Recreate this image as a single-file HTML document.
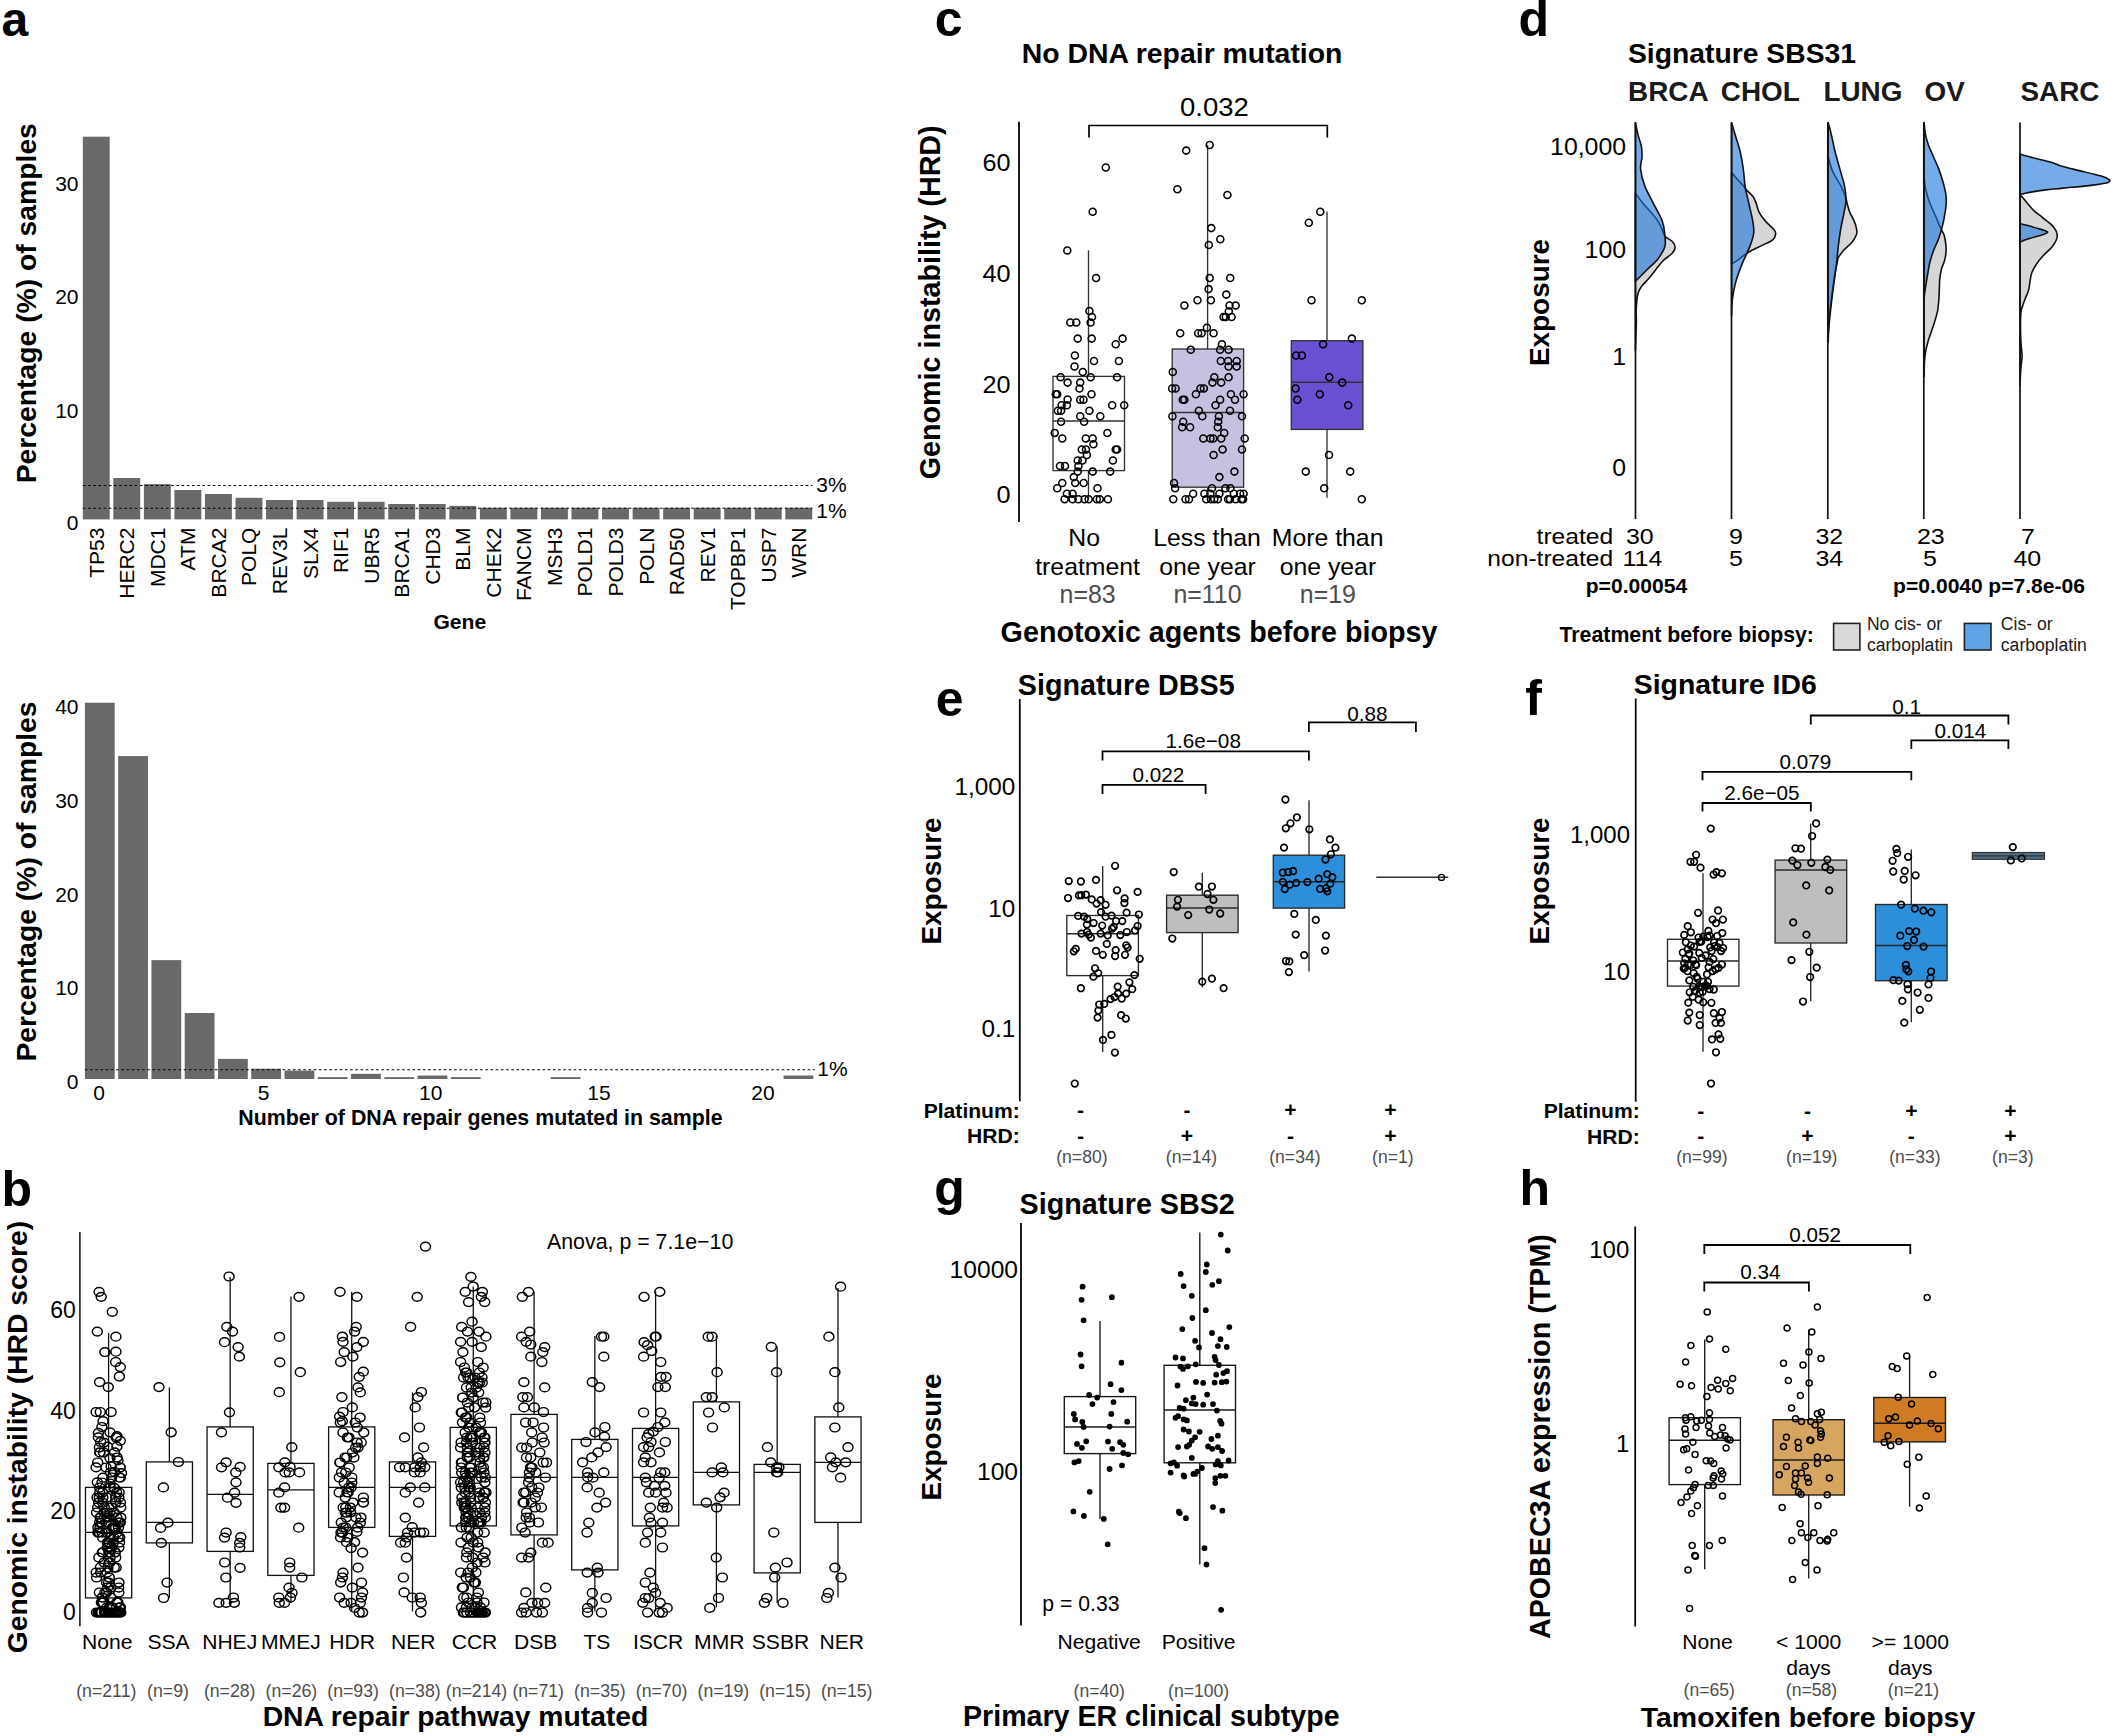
<!DOCTYPE html>
<html><head><meta charset="utf-8"><title>Figure</title>
<style>html,body{margin:0;padding:0;background:#fff}svg{display:block}text{font-family:"Liberation Sans", Arial, Helvetica, sans-serif}</style>
</head><body>
<svg width="2114" height="1736" viewBox="0 0 2114 1736">
<rect width="2114" height="1736" fill="#fff"/>
<text transform="translate(1.60,36.40)" font-size="48" text-anchor="start" font-weight="bold">a</text>
<text transform="translate(36.00,303.20) rotate(-90)" font-size="28.3" text-anchor="middle" font-weight="bold">Percentage (%) of samples</text>
<text transform="translate(78.50,190.80)" font-size="21" text-anchor="end">30</text>
<text transform="translate(78.50,304.30)" font-size="21" text-anchor="end">20</text>
<text transform="translate(78.50,417.50)" font-size="21" text-anchor="end">10</text>
<text transform="translate(78.50,530.10)" font-size="21" text-anchor="end">0</text>
<rect x="82.80" y="136.70" width="26.90" height="382.70" fill="#696969"/>
<text transform="translate(103.75,527.60) rotate(-90)" font-size="21" text-anchor="end">TP53</text>
<rect x="113.34" y="478.00" width="26.90" height="41.40" fill="#696969"/>
<text transform="translate(134.30,527.60) rotate(-90)" font-size="21" text-anchor="end">HERC2</text>
<rect x="143.89" y="484.10" width="26.90" height="35.30" fill="#696969"/>
<text transform="translate(164.84,527.60) rotate(-90)" font-size="21" text-anchor="end">MDC1</text>
<rect x="174.44" y="490.00" width="26.90" height="29.40" fill="#696969"/>
<text transform="translate(195.38,527.60) rotate(-90)" font-size="21" text-anchor="end">ATM</text>
<rect x="204.98" y="494.00" width="26.90" height="25.40" fill="#696969"/>
<text transform="translate(225.93,527.60) rotate(-90)" font-size="21" text-anchor="end">BRCA2</text>
<rect x="235.53" y="497.80" width="26.90" height="21.60" fill="#696969"/>
<text transform="translate(256.48,527.60) rotate(-90)" font-size="21" text-anchor="end">POLQ</text>
<rect x="266.07" y="500.00" width="26.90" height="19.40" fill="#696969"/>
<text transform="translate(287.02,527.60) rotate(-90)" font-size="21" text-anchor="end">REV3L</text>
<rect x="296.62" y="500.00" width="26.90" height="19.40" fill="#696969"/>
<text transform="translate(317.56,527.60) rotate(-90)" font-size="21" text-anchor="end">SLX4</text>
<rect x="327.16" y="501.80" width="26.90" height="17.60" fill="#696969"/>
<text transform="translate(348.11,527.60) rotate(-90)" font-size="21" text-anchor="end">RIF1</text>
<rect x="357.71" y="501.80" width="26.90" height="17.60" fill="#696969"/>
<text transform="translate(378.66,527.60) rotate(-90)" font-size="21" text-anchor="end">UBR5</text>
<rect x="388.25" y="504.00" width="26.90" height="15.40" fill="#696969"/>
<text transform="translate(409.20,527.60) rotate(-90)" font-size="21" text-anchor="end">BRCA1</text>
<rect x="418.80" y="504.00" width="26.90" height="15.40" fill="#696969"/>
<text transform="translate(439.75,527.60) rotate(-90)" font-size="21" text-anchor="end">CHD3</text>
<rect x="449.34" y="505.90" width="26.90" height="13.50" fill="#696969"/>
<text transform="translate(470.29,527.60) rotate(-90)" font-size="21" text-anchor="end">BLM</text>
<rect x="479.89" y="507.70" width="26.90" height="11.70" fill="#696969"/>
<text transform="translate(500.84,527.60) rotate(-90)" font-size="21" text-anchor="end">CHEK2</text>
<rect x="510.43" y="507.70" width="26.90" height="11.70" fill="#696969"/>
<text transform="translate(531.38,527.60) rotate(-90)" font-size="21" text-anchor="end">FANCM</text>
<rect x="540.98" y="507.70" width="26.90" height="11.70" fill="#696969"/>
<text transform="translate(561.93,527.60) rotate(-90)" font-size="21" text-anchor="end">MSH3</text>
<rect x="571.52" y="507.70" width="26.90" height="11.70" fill="#696969"/>
<text transform="translate(592.47,527.60) rotate(-90)" font-size="21" text-anchor="end">POLD1</text>
<rect x="602.06" y="507.70" width="26.90" height="11.70" fill="#696969"/>
<text transform="translate(623.01,527.60) rotate(-90)" font-size="21" text-anchor="end">POLD3</text>
<rect x="632.61" y="507.70" width="26.90" height="11.70" fill="#696969"/>
<text transform="translate(653.56,527.60) rotate(-90)" font-size="21" text-anchor="end">POLN</text>
<rect x="663.15" y="507.70" width="26.90" height="11.70" fill="#696969"/>
<text transform="translate(684.11,527.60) rotate(-90)" font-size="21" text-anchor="end">RAD50</text>
<rect x="693.70" y="507.70" width="26.90" height="11.70" fill="#696969"/>
<text transform="translate(714.65,527.60) rotate(-90)" font-size="21" text-anchor="end">REV1</text>
<rect x="724.25" y="507.70" width="26.90" height="11.70" fill="#696969"/>
<text transform="translate(745.20,527.60) rotate(-90)" font-size="21" text-anchor="end">TOPBP1</text>
<rect x="754.79" y="507.70" width="26.90" height="11.70" fill="#696969"/>
<text transform="translate(775.74,527.60) rotate(-90)" font-size="21" text-anchor="end">USP7</text>
<rect x="785.34" y="507.70" width="26.90" height="11.70" fill="#696969"/>
<text transform="translate(806.29,527.60) rotate(-90)" font-size="21" text-anchor="end">WRN</text>
<line x1="82.80" y1="485.50" x2="812.30" y2="485.50" stroke="#000" stroke-width="1.15" stroke-dasharray="2.6 2.6"/>
<line x1="82.80" y1="508.20" x2="812.30" y2="508.20" stroke="#000" stroke-width="1.15" stroke-dasharray="2.6 2.6"/>
<text transform="translate(816.20,491.80)" font-size="21" text-anchor="start">3%</text>
<text transform="translate(816.20,517.80)" font-size="21" text-anchor="start">1%</text>
<text transform="translate(459.80,629.30)" font-size="21.1" text-anchor="middle" font-weight="bold">Gene</text>
<text transform="translate(36.30,881.50) rotate(-90)" font-size="28.3" text-anchor="middle" font-weight="bold">Percentage (%) of samples</text>
<text transform="translate(78.50,714.30)" font-size="21" text-anchor="end">40</text>
<text transform="translate(78.50,808.30)" font-size="21" text-anchor="end">30</text>
<text transform="translate(78.50,902.10)" font-size="21" text-anchor="end">20</text>
<text transform="translate(78.50,995.10)" font-size="21" text-anchor="end">10</text>
<text transform="translate(78.50,1088.50)" font-size="21" text-anchor="end">0</text>
<rect x="84.90" y="702.73" width="29.80" height="376.27" fill="#696969"/>
<rect x="118.17" y="756.08" width="29.80" height="322.92" fill="#696969"/>
<rect x="151.44" y="960.13" width="29.80" height="118.87" fill="#696969"/>
<rect x="184.71" y="1013.01" width="29.80" height="65.99" fill="#696969"/>
<rect x="217.98" y="1058.88" width="29.80" height="20.12" fill="#696969"/>
<rect x="251.25" y="1068.70" width="29.80" height="10.30" fill="#696969"/>
<rect x="284.52" y="1070.58" width="29.80" height="8.42" fill="#696969"/>
<rect x="317.79" y="1077.13" width="29.80" height="1.87" fill="#696969"/>
<rect x="351.06" y="1073.85" width="29.80" height="5.15" fill="#696969"/>
<rect x="384.33" y="1077.13" width="29.80" height="1.87" fill="#696969"/>
<rect x="417.60" y="1075.54" width="29.80" height="3.46" fill="#696969"/>
<rect x="450.87" y="1077.13" width="29.80" height="1.87" fill="#696969"/>
<rect x="550.68" y="1077.13" width="29.80" height="1.87" fill="#696969"/>
<rect x="783.57" y="1075.54" width="29.80" height="3.46" fill="#696969"/>
<line x1="84.90" y1="1069.70" x2="815.00" y2="1069.70" stroke="#000" stroke-width="1.15" stroke-dasharray="2.6 2.6"/>
<text transform="translate(817.20,1075.50)" font-size="21" text-anchor="start">1%</text>
<text transform="translate(99.00,1099.80)" font-size="21" text-anchor="middle">0</text>
<text transform="translate(263.50,1099.80)" font-size="21" text-anchor="middle">5</text>
<text transform="translate(430.70,1099.80)" font-size="21" text-anchor="middle">10</text>
<text transform="translate(599.00,1099.80)" font-size="21" text-anchor="middle">15</text>
<text transform="translate(763.00,1099.80)" font-size="21" text-anchor="middle">20</text>
<text transform="translate(480.40,1125.20)" font-size="21.35" text-anchor="middle" font-weight="bold">Number of DNA repair genes mutated in sample</text>
<text transform="translate(1.50,1205.60)" font-size="50" text-anchor="start" font-weight="bold">b</text>
<text transform="translate(26.80,1437.00) rotate(-90)" font-size="28.3" text-anchor="middle" font-weight="bold">Genomic instability (HRD score)</text>
<line x1="79.90" y1="1231.90" x2="79.90" y2="1626.30" stroke="#000" stroke-width="1.4"/>
<text transform="translate(75.80,1318.20)" font-size="23" text-anchor="end">60</text>
<text transform="translate(75.80,1418.90)" font-size="23" text-anchor="end">40</text>
<text transform="translate(75.80,1519.20)" font-size="23" text-anchor="end">20</text>
<text transform="translate(75.80,1619.60)" font-size="23" text-anchor="end">0</text>
<line x1="108.60" y1="1332.90" x2="108.60" y2="1487.40" stroke="#111" stroke-width="1.3"/>
<line x1="108.60" y1="1597.90" x2="108.60" y2="1611.40" stroke="#111" stroke-width="1.3"/>
<rect x="85.50" y="1487.40" width="46.20" height="110.50" fill="none" stroke="#111" stroke-width="1.3"/>
<line x1="85.50" y1="1532.40" x2="131.70" y2="1532.40" stroke="#111" stroke-width="1.4300000000000002"/>
<path d="M94.1 1291.8a5.0 4.4 0 1 0 10.0 0a5.0 4.4 0 1 0 -10.0 0M96.2 1296.8a5.0 4.4 0 1 0 10.0 0a5.0 4.4 0 1 0 -10.0 0M107.3 1311.8a5.0 4.4 0 1 0 10.0 0a5.0 4.4 0 1 0 -10.0 0M92.3 1331.6a5.0 4.4 0 1 0 10.0 0a5.0 4.4 0 1 0 -10.0 0M110.9 1336.7a5.0 4.4 0 1 0 10.0 0a5.0 4.4 0 1 0 -10.0 0M99.9 1352.1a5.0 4.4 0 1 0 10.0 0a5.0 4.4 0 1 0 -10.0 0M110.9 1351.7a5.0 4.4 0 1 0 10.0 0a5.0 4.4 0 1 0 -10.0 0M110.7 1362.0a5.0 4.4 0 1 0 10.0 0a5.0 4.4 0 1 0 -10.0 0M115.3 1367.1a5.0 4.4 0 1 0 10.0 0a5.0 4.4 0 1 0 -10.0 0M114.4 1376.5a5.0 4.4 0 1 0 10.0 0a5.0 4.4 0 1 0 -10.0 0M94.6 1382.1a5.0 4.4 0 1 0 10.0 0a5.0 4.4 0 1 0 -10.0 0M103.3 1387.1a5.0 4.4 0 1 0 10.0 0a5.0 4.4 0 1 0 -10.0 0M91.1 1412.0a5.0 4.4 0 1 0 10.0 0a5.0 4.4 0 1 0 -10.0 0M95.3 1412.0a5.0 4.4 0 1 0 10.0 0a5.0 4.4 0 1 0 -10.0 0M106.1 1412.0a5.0 4.4 0 1 0 10.0 0a5.0 4.4 0 1 0 -10.0 0M98.0 1421.2a5.0 4.4 0 1 0 10.0 0a5.0 4.4 0 1 0 -10.0 0M96.9 1427.0a5.0 4.4 0 1 0 10.0 0a5.0 4.4 0 1 0 -10.0 0M105.0 1432.3a5.0 4.4 0 1 0 10.0 0a5.0 4.4 0 1 0 -10.0 0M93.4 1432.8a5.0 4.4 0 1 0 10.0 0a5.0 4.4 0 1 0 -10.0 0M93.4 1437.4a5.0 4.4 0 1 0 10.0 0a5.0 4.4 0 1 0 -10.0 0M111.9 1436.2a5.0 4.4 0 1 0 10.0 0a5.0 4.4 0 1 0 -10.0 0M115.3 1440.8a5.0 4.4 0 1 0 10.0 0a5.0 4.4 0 1 0 -10.0 0M95.7 1442.0a5.0 4.4 0 1 0 10.0 0a5.0 4.4 0 1 0 -10.0 0M102.6 1446.6a5.0 4.4 0 1 0 10.0 0a5.0 4.4 0 1 0 -10.0 0M111.9 1446.6a5.0 4.4 0 1 0 10.0 0a5.0 4.4 0 1 0 -10.0 0M94.6 1452.4a5.0 4.4 0 1 0 10.0 0a5.0 4.4 0 1 0 -10.0 0M109.6 1452.4a5.0 4.4 0 1 0 10.0 0a5.0 4.4 0 1 0 -10.0 0M105.0 1458.1a5.0 4.4 0 1 0 10.0 0a5.0 4.4 0 1 0 -10.0 0M113.0 1460.4a5.0 4.4 0 1 0 10.0 0a5.0 4.4 0 1 0 -10.0 0M91.1 1467.3a5.0 4.4 0 1 0 10.0 0a5.0 4.4 0 1 0 -10.0 0M106.1 1466.2a5.0 4.4 0 1 0 10.0 0a5.0 4.4 0 1 0 -10.0 0M115.3 1467.3a5.0 4.4 0 1 0 10.0 0a5.0 4.4 0 1 0 -10.0 0M109.6 1471.9a5.0 4.4 0 1 0 10.0 0a5.0 4.4 0 1 0 -10.0 0M116.5 1473.1a5.0 4.4 0 1 0 10.0 0a5.0 4.4 0 1 0 -10.0 0M98.0 1477.7a5.0 4.4 0 1 0 10.0 0a5.0 4.4 0 1 0 -10.0 0M115.3 1477.7a5.0 4.4 0 1 0 10.0 0a5.0 4.4 0 1 0 -10.0 0M92.3 1482.3a5.0 4.4 0 1 0 10.0 0a5.0 4.4 0 1 0 -10.0 0M105.0 1483.5a5.0 4.4 0 1 0 10.0 0a5.0 4.4 0 1 0 -10.0 0M109.6 1488.1a5.0 4.4 0 1 0 10.0 0a5.0 4.4 0 1 0 -10.0 0M94.6 1487.5a5.0 4.4 0 1 0 10.0 0a5.0 4.4 0 1 0 -10.0 0M97.0 1482.5a5.0 4.4 0 1 0 10.0 0a5.0 4.4 0 1 0 -10.0 0M106.7 1477.5a5.0 4.4 0 1 0 10.0 0a5.0 4.4 0 1 0 -10.0 0M114.3 1477.5a5.0 4.4 0 1 0 10.0 0a5.0 4.4 0 1 0 -10.0 0M105.5 1472.5a5.0 4.4 0 1 0 10.0 0a5.0 4.4 0 1 0 -10.0 0M101.1 1467.5a5.0 4.4 0 1 0 10.0 0a5.0 4.4 0 1 0 -10.0 0M115.0 1467.5a5.0 4.4 0 1 0 10.0 0a5.0 4.4 0 1 0 -10.0 0M92.7 1462.5a5.0 4.4 0 1 0 10.0 0a5.0 4.4 0 1 0 -10.0 0M112.2 1457.5a5.0 4.4 0 1 0 10.0 0a5.0 4.4 0 1 0 -10.0 0M98.6 1452.5a5.0 4.4 0 1 0 10.0 0a5.0 4.4 0 1 0 -10.0 0M95.1 1452.5a5.0 4.4 0 1 0 10.0 0a5.0 4.4 0 1 0 -10.0 0M94.4 1447.5a5.0 4.4 0 1 0 10.0 0a5.0 4.4 0 1 0 -10.0 0M99.0 1442.5a5.0 4.4 0 1 0 10.0 0a5.0 4.4 0 1 0 -10.0 0M111.2 1437.5a5.0 4.4 0 1 0 10.0 0a5.0 4.4 0 1 0 -10.0 0M114.5 1612.5a5.0 4.4 0 1 0 10.0 0a5.0 4.4 0 1 0 -10.0 0M115.8 1612.5a5.0 4.4 0 1 0 10.0 0a5.0 4.4 0 1 0 -10.0 0M115.0 1612.5a5.0 4.4 0 1 0 10.0 0a5.0 4.4 0 1 0 -10.0 0M100.2 1612.5a5.0 4.4 0 1 0 10.0 0a5.0 4.4 0 1 0 -10.0 0M96.6 1612.5a5.0 4.4 0 1 0 10.0 0a5.0 4.4 0 1 0 -10.0 0M96.8 1612.5a5.0 4.4 0 1 0 10.0 0a5.0 4.4 0 1 0 -10.0 0M96.0 1612.5a5.0 4.4 0 1 0 10.0 0a5.0 4.4 0 1 0 -10.0 0M96.2 1612.5a5.0 4.4 0 1 0 10.0 0a5.0 4.4 0 1 0 -10.0 0M106.7 1612.5a5.0 4.4 0 1 0 10.0 0a5.0 4.4 0 1 0 -10.0 0M113.6 1612.5a5.0 4.4 0 1 0 10.0 0a5.0 4.4 0 1 0 -10.0 0M112.1 1612.5a5.0 4.4 0 1 0 10.0 0a5.0 4.4 0 1 0 -10.0 0M103.1 1612.5a5.0 4.4 0 1 0 10.0 0a5.0 4.4 0 1 0 -10.0 0M107.4 1612.5a5.0 4.4 0 1 0 10.0 0a5.0 4.4 0 1 0 -10.0 0M111.1 1612.5a5.0 4.4 0 1 0 10.0 0a5.0 4.4 0 1 0 -10.0 0M93.2 1612.5a5.0 4.4 0 1 0 10.0 0a5.0 4.4 0 1 0 -10.0 0M107.6 1612.5a5.0 4.4 0 1 0 10.0 0a5.0 4.4 0 1 0 -10.0 0M113.8 1612.5a5.0 4.4 0 1 0 10.0 0a5.0 4.4 0 1 0 -10.0 0M110.7 1612.5a5.0 4.4 0 1 0 10.0 0a5.0 4.4 0 1 0 -10.0 0M109.9 1612.5a5.0 4.4 0 1 0 10.0 0a5.0 4.4 0 1 0 -10.0 0M103.1 1612.5a5.0 4.4 0 1 0 10.0 0a5.0 4.4 0 1 0 -10.0 0M95.6 1612.5a5.0 4.4 0 1 0 10.0 0a5.0 4.4 0 1 0 -10.0 0M110.8 1612.5a5.0 4.4 0 1 0 10.0 0a5.0 4.4 0 1 0 -10.0 0M99.4 1612.5a5.0 4.4 0 1 0 10.0 0a5.0 4.4 0 1 0 -10.0 0M111.1 1612.5a5.0 4.4 0 1 0 10.0 0a5.0 4.4 0 1 0 -10.0 0M115.4 1612.5a5.0 4.4 0 1 0 10.0 0a5.0 4.4 0 1 0 -10.0 0M101.0 1612.5a5.0 4.4 0 1 0 10.0 0a5.0 4.4 0 1 0 -10.0 0M101.1 1612.5a5.0 4.4 0 1 0 10.0 0a5.0 4.4 0 1 0 -10.0 0M114.8 1612.5a5.0 4.4 0 1 0 10.0 0a5.0 4.4 0 1 0 -10.0 0M109.2 1612.5a5.0 4.4 0 1 0 10.0 0a5.0 4.4 0 1 0 -10.0 0M95.4 1612.5a5.0 4.4 0 1 0 10.0 0a5.0 4.4 0 1 0 -10.0 0M94.3 1612.5a5.0 4.4 0 1 0 10.0 0a5.0 4.4 0 1 0 -10.0 0M94.9 1612.5a5.0 4.4 0 1 0 10.0 0a5.0 4.4 0 1 0 -10.0 0M113.7 1612.5a5.0 4.4 0 1 0 10.0 0a5.0 4.4 0 1 0 -10.0 0M111.3 1612.5a5.0 4.4 0 1 0 10.0 0a5.0 4.4 0 1 0 -10.0 0M94.8 1612.5a5.0 4.4 0 1 0 10.0 0a5.0 4.4 0 1 0 -10.0 0M111.8 1612.5a5.0 4.4 0 1 0 10.0 0a5.0 4.4 0 1 0 -10.0 0M115.6 1612.5a5.0 4.4 0 1 0 10.0 0a5.0 4.4 0 1 0 -10.0 0M107.5 1612.5a5.0 4.4 0 1 0 10.0 0a5.0 4.4 0 1 0 -10.0 0M99.9 1612.5a5.0 4.4 0 1 0 10.0 0a5.0 4.4 0 1 0 -10.0 0M104.8 1612.5a5.0 4.4 0 1 0 10.0 0a5.0 4.4 0 1 0 -10.0 0M94.4 1612.5a5.0 4.4 0 1 0 10.0 0a5.0 4.4 0 1 0 -10.0 0M91.5 1612.5a5.0 4.4 0 1 0 10.0 0a5.0 4.4 0 1 0 -10.0 0M115.4 1607.5a5.0 4.4 0 1 0 10.0 0a5.0 4.4 0 1 0 -10.0 0M107.3 1607.5a5.0 4.4 0 1 0 10.0 0a5.0 4.4 0 1 0 -10.0 0M104.3 1607.5a5.0 4.4 0 1 0 10.0 0a5.0 4.4 0 1 0 -10.0 0M114.4 1607.5a5.0 4.4 0 1 0 10.0 0a5.0 4.4 0 1 0 -10.0 0M101.9 1607.5a5.0 4.4 0 1 0 10.0 0a5.0 4.4 0 1 0 -10.0 0M112.9 1602.5a5.0 4.4 0 1 0 10.0 0a5.0 4.4 0 1 0 -10.0 0M111.8 1602.5a5.0 4.4 0 1 0 10.0 0a5.0 4.4 0 1 0 -10.0 0M96.4 1602.5a5.0 4.4 0 1 0 10.0 0a5.0 4.4 0 1 0 -10.0 0M97.4 1602.5a5.0 4.4 0 1 0 10.0 0a5.0 4.4 0 1 0 -10.0 0M98.4 1602.5a5.0 4.4 0 1 0 10.0 0a5.0 4.4 0 1 0 -10.0 0M97.1 1597.5a5.0 4.4 0 1 0 10.0 0a5.0 4.4 0 1 0 -10.0 0M105.8 1597.5a5.0 4.4 0 1 0 10.0 0a5.0 4.4 0 1 0 -10.0 0M97.6 1597.5a5.0 4.4 0 1 0 10.0 0a5.0 4.4 0 1 0 -10.0 0M101.6 1592.5a5.0 4.4 0 1 0 10.0 0a5.0 4.4 0 1 0 -10.0 0M94.4 1592.5a5.0 4.4 0 1 0 10.0 0a5.0 4.4 0 1 0 -10.0 0M113.9 1592.5a5.0 4.4 0 1 0 10.0 0a5.0 4.4 0 1 0 -10.0 0M99.9 1592.5a5.0 4.4 0 1 0 10.0 0a5.0 4.4 0 1 0 -10.0 0M102.6 1587.5a5.0 4.4 0 1 0 10.0 0a5.0 4.4 0 1 0 -10.0 0M105.7 1587.5a5.0 4.4 0 1 0 10.0 0a5.0 4.4 0 1 0 -10.0 0M113.7 1587.5a5.0 4.4 0 1 0 10.0 0a5.0 4.4 0 1 0 -10.0 0M101.6 1582.5a5.0 4.4 0 1 0 10.0 0a5.0 4.4 0 1 0 -10.0 0M114.0 1582.5a5.0 4.4 0 1 0 10.0 0a5.0 4.4 0 1 0 -10.0 0M103.6 1582.5a5.0 4.4 0 1 0 10.0 0a5.0 4.4 0 1 0 -10.0 0M104.4 1577.5a5.0 4.4 0 1 0 10.0 0a5.0 4.4 0 1 0 -10.0 0M104.2 1577.5a5.0 4.4 0 1 0 10.0 0a5.0 4.4 0 1 0 -10.0 0M91.6 1577.5a5.0 4.4 0 1 0 10.0 0a5.0 4.4 0 1 0 -10.0 0M102.1 1572.5a5.0 4.4 0 1 0 10.0 0a5.0 4.4 0 1 0 -10.0 0M95.7 1572.5a5.0 4.4 0 1 0 10.0 0a5.0 4.4 0 1 0 -10.0 0M91.2 1572.5a5.0 4.4 0 1 0 10.0 0a5.0 4.4 0 1 0 -10.0 0M111.1 1567.5a5.0 4.4 0 1 0 10.0 0a5.0 4.4 0 1 0 -10.0 0M95.4 1567.5a5.0 4.4 0 1 0 10.0 0a5.0 4.4 0 1 0 -10.0 0M102.9 1567.5a5.0 4.4 0 1 0 10.0 0a5.0 4.4 0 1 0 -10.0 0M109.2 1567.5a5.0 4.4 0 1 0 10.0 0a5.0 4.4 0 1 0 -10.0 0M105.0 1562.5a5.0 4.4 0 1 0 10.0 0a5.0 4.4 0 1 0 -10.0 0M99.2 1562.5a5.0 4.4 0 1 0 10.0 0a5.0 4.4 0 1 0 -10.0 0M104.1 1562.5a5.0 4.4 0 1 0 10.0 0a5.0 4.4 0 1 0 -10.0 0M105.0 1557.5a5.0 4.4 0 1 0 10.0 0a5.0 4.4 0 1 0 -10.0 0M110.7 1557.5a5.0 4.4 0 1 0 10.0 0a5.0 4.4 0 1 0 -10.0 0M93.8 1557.5a5.0 4.4 0 1 0 10.0 0a5.0 4.4 0 1 0 -10.0 0M105.1 1557.5a5.0 4.4 0 1 0 10.0 0a5.0 4.4 0 1 0 -10.0 0M97.3 1552.5a5.0 4.4 0 1 0 10.0 0a5.0 4.4 0 1 0 -10.0 0M98.0 1552.5a5.0 4.4 0 1 0 10.0 0a5.0 4.4 0 1 0 -10.0 0M110.4 1552.5a5.0 4.4 0 1 0 10.0 0a5.0 4.4 0 1 0 -10.0 0M103.8 1552.5a5.0 4.4 0 1 0 10.0 0a5.0 4.4 0 1 0 -10.0 0M105.1 1552.5a5.0 4.4 0 1 0 10.0 0a5.0 4.4 0 1 0 -10.0 0M110.1 1552.5a5.0 4.4 0 1 0 10.0 0a5.0 4.4 0 1 0 -10.0 0M113.9 1547.5a5.0 4.4 0 1 0 10.0 0a5.0 4.4 0 1 0 -10.0 0M102.2 1547.5a5.0 4.4 0 1 0 10.0 0a5.0 4.4 0 1 0 -10.0 0M106.4 1547.5a5.0 4.4 0 1 0 10.0 0a5.0 4.4 0 1 0 -10.0 0M103.7 1547.5a5.0 4.4 0 1 0 10.0 0a5.0 4.4 0 1 0 -10.0 0M103.9 1547.5a5.0 4.4 0 1 0 10.0 0a5.0 4.4 0 1 0 -10.0 0M108.4 1542.5a5.0 4.4 0 1 0 10.0 0a5.0 4.4 0 1 0 -10.0 0M102.4 1542.5a5.0 4.4 0 1 0 10.0 0a5.0 4.4 0 1 0 -10.0 0M104.4 1542.5a5.0 4.4 0 1 0 10.0 0a5.0 4.4 0 1 0 -10.0 0M103.1 1542.5a5.0 4.4 0 1 0 10.0 0a5.0 4.4 0 1 0 -10.0 0M114.6 1542.5a5.0 4.4 0 1 0 10.0 0a5.0 4.4 0 1 0 -10.0 0M108.6 1537.5a5.0 4.4 0 1 0 10.0 0a5.0 4.4 0 1 0 -10.0 0M113.0 1537.5a5.0 4.4 0 1 0 10.0 0a5.0 4.4 0 1 0 -10.0 0M114.7 1537.5a5.0 4.4 0 1 0 10.0 0a5.0 4.4 0 1 0 -10.0 0M97.6 1537.5a5.0 4.4 0 1 0 10.0 0a5.0 4.4 0 1 0 -10.0 0M105.1 1537.5a5.0 4.4 0 1 0 10.0 0a5.0 4.4 0 1 0 -10.0 0M114.7 1537.5a5.0 4.4 0 1 0 10.0 0a5.0 4.4 0 1 0 -10.0 0M112.1 1532.5a5.0 4.4 0 1 0 10.0 0a5.0 4.4 0 1 0 -10.0 0M94.5 1532.5a5.0 4.4 0 1 0 10.0 0a5.0 4.4 0 1 0 -10.0 0M94.1 1532.5a5.0 4.4 0 1 0 10.0 0a5.0 4.4 0 1 0 -10.0 0M102.2 1532.5a5.0 4.4 0 1 0 10.0 0a5.0 4.4 0 1 0 -10.0 0M92.9 1532.5a5.0 4.4 0 1 0 10.0 0a5.0 4.4 0 1 0 -10.0 0M97.1 1532.5a5.0 4.4 0 1 0 10.0 0a5.0 4.4 0 1 0 -10.0 0M92.9 1527.5a5.0 4.4 0 1 0 10.0 0a5.0 4.4 0 1 0 -10.0 0M107.8 1527.5a5.0 4.4 0 1 0 10.0 0a5.0 4.4 0 1 0 -10.0 0M110.7 1527.5a5.0 4.4 0 1 0 10.0 0a5.0 4.4 0 1 0 -10.0 0M113.5 1527.5a5.0 4.4 0 1 0 10.0 0a5.0 4.4 0 1 0 -10.0 0M95.0 1527.5a5.0 4.4 0 1 0 10.0 0a5.0 4.4 0 1 0 -10.0 0M109.0 1527.5a5.0 4.4 0 1 0 10.0 0a5.0 4.4 0 1 0 -10.0 0M107.6 1527.5a5.0 4.4 0 1 0 10.0 0a5.0 4.4 0 1 0 -10.0 0M94.7 1522.5a5.0 4.4 0 1 0 10.0 0a5.0 4.4 0 1 0 -10.0 0M113.2 1522.5a5.0 4.4 0 1 0 10.0 0a5.0 4.4 0 1 0 -10.0 0M115.3 1522.5a5.0 4.4 0 1 0 10.0 0a5.0 4.4 0 1 0 -10.0 0M96.6 1522.5a5.0 4.4 0 1 0 10.0 0a5.0 4.4 0 1 0 -10.0 0M114.9 1522.5a5.0 4.4 0 1 0 10.0 0a5.0 4.4 0 1 0 -10.0 0M101.1 1522.5a5.0 4.4 0 1 0 10.0 0a5.0 4.4 0 1 0 -10.0 0M103.3 1522.5a5.0 4.4 0 1 0 10.0 0a5.0 4.4 0 1 0 -10.0 0M115.8 1517.5a5.0 4.4 0 1 0 10.0 0a5.0 4.4 0 1 0 -10.0 0M111.9 1517.5a5.0 4.4 0 1 0 10.0 0a5.0 4.4 0 1 0 -10.0 0M95.1 1517.5a5.0 4.4 0 1 0 10.0 0a5.0 4.4 0 1 0 -10.0 0M101.9 1517.5a5.0 4.4 0 1 0 10.0 0a5.0 4.4 0 1 0 -10.0 0M104.0 1517.5a5.0 4.4 0 1 0 10.0 0a5.0 4.4 0 1 0 -10.0 0M99.6 1517.5a5.0 4.4 0 1 0 10.0 0a5.0 4.4 0 1 0 -10.0 0M96.0 1517.5a5.0 4.4 0 1 0 10.0 0a5.0 4.4 0 1 0 -10.0 0M99.1 1512.5a5.0 4.4 0 1 0 10.0 0a5.0 4.4 0 1 0 -10.0 0M109.2 1512.5a5.0 4.4 0 1 0 10.0 0a5.0 4.4 0 1 0 -10.0 0M91.6 1512.5a5.0 4.4 0 1 0 10.0 0a5.0 4.4 0 1 0 -10.0 0M105.0 1512.5a5.0 4.4 0 1 0 10.0 0a5.0 4.4 0 1 0 -10.0 0M102.1 1512.5a5.0 4.4 0 1 0 10.0 0a5.0 4.4 0 1 0 -10.0 0M91.6 1512.5a5.0 4.4 0 1 0 10.0 0a5.0 4.4 0 1 0 -10.0 0M99.4 1507.5a5.0 4.4 0 1 0 10.0 0a5.0 4.4 0 1 0 -10.0 0M106.7 1507.5a5.0 4.4 0 1 0 10.0 0a5.0 4.4 0 1 0 -10.0 0M103.9 1507.5a5.0 4.4 0 1 0 10.0 0a5.0 4.4 0 1 0 -10.0 0M92.7 1507.5a5.0 4.4 0 1 0 10.0 0a5.0 4.4 0 1 0 -10.0 0M115.7 1507.5a5.0 4.4 0 1 0 10.0 0a5.0 4.4 0 1 0 -10.0 0M110.8 1502.5a5.0 4.4 0 1 0 10.0 0a5.0 4.4 0 1 0 -10.0 0M115.4 1502.5a5.0 4.4 0 1 0 10.0 0a5.0 4.4 0 1 0 -10.0 0M93.7 1502.5a5.0 4.4 0 1 0 10.0 0a5.0 4.4 0 1 0 -10.0 0M97.7 1502.5a5.0 4.4 0 1 0 10.0 0a5.0 4.4 0 1 0 -10.0 0M92.1 1497.5a5.0 4.4 0 1 0 10.0 0a5.0 4.4 0 1 0 -10.0 0M110.6 1497.5a5.0 4.4 0 1 0 10.0 0a5.0 4.4 0 1 0 -10.0 0M97.9 1497.5a5.0 4.4 0 1 0 10.0 0a5.0 4.4 0 1 0 -10.0 0M94.3 1497.5a5.0 4.4 0 1 0 10.0 0a5.0 4.4 0 1 0 -10.0 0M101.7 1497.5a5.0 4.4 0 1 0 10.0 0a5.0 4.4 0 1 0 -10.0 0M113.9 1497.5a5.0 4.4 0 1 0 10.0 0a5.0 4.4 0 1 0 -10.0 0M111.6 1492.5a5.0 4.4 0 1 0 10.0 0a5.0 4.4 0 1 0 -10.0 0M97.6 1492.5a5.0 4.4 0 1 0 10.0 0a5.0 4.4 0 1 0 -10.0 0M94.8 1492.5a5.0 4.4 0 1 0 10.0 0a5.0 4.4 0 1 0 -10.0 0M114.1 1492.5a5.0 4.4 0 1 0 10.0 0a5.0 4.4 0 1 0 -10.0 0M105.4 1487.5a5.0 4.4 0 1 0 10.0 0a5.0 4.4 0 1 0 -10.0 0M108.6 1487.5a5.0 4.4 0 1 0 10.0 0a5.0 4.4 0 1 0 -10.0 0" fill="none" stroke="#000" stroke-width="1.45"/>
<text transform="translate(107.30,1649.00)" font-size="21.1" text-anchor="middle">None</text>
<text transform="translate(106.30,1696.50)" font-size="17.7" text-anchor="middle" fill="#4d4d4d">(n=211)</text>
<line x1="169.38" y1="1387.40" x2="169.38" y2="1461.90" stroke="#111" stroke-width="1.3"/>
<line x1="169.38" y1="1542.90" x2="169.38" y2="1597.90" stroke="#111" stroke-width="1.3"/>
<rect x="146.28" y="1461.90" width="46.20" height="81.00" fill="none" stroke="#111" stroke-width="1.3"/>
<line x1="146.28" y1="1522.40" x2="192.48" y2="1522.40" stroke="#111" stroke-width="1.4300000000000002"/>
<path d="M154.0 1387.1a5.0 4.4 0 1 0 10.0 0a5.0 4.4 0 1 0 -10.0 0M166.2 1432.3a5.0 4.4 0 1 0 10.0 0a5.0 4.4 0 1 0 -10.0 0M173.4 1462.0a5.0 4.4 0 1 0 10.0 0a5.0 4.4 0 1 0 -10.0 0M158.4 1487.4a5.0 4.4 0 1 0 10.0 0a5.0 4.4 0 1 0 -10.0 0M163.0 1522.6a5.0 4.4 0 1 0 10.0 0a5.0 4.4 0 1 0 -10.0 0M155.6 1527.9a5.0 4.4 0 1 0 10.0 0a5.0 4.4 0 1 0 -10.0 0M156.3 1542.9a5.0 4.4 0 1 0 10.0 0a5.0 4.4 0 1 0 -10.0 0M162.1 1582.5a5.0 4.4 0 1 0 10.0 0a5.0 4.4 0 1 0 -10.0 0M158.6 1598.0a5.0 4.4 0 1 0 10.0 0a5.0 4.4 0 1 0 -10.0 0" fill="none" stroke="#000" stroke-width="1.45"/>
<text transform="translate(168.50,1649.00)" font-size="21.1" text-anchor="middle">SSA</text>
<text transform="translate(168.00,1696.50)" font-size="17.7" text-anchor="middle" fill="#4d4d4d">(n=9)</text>
<line x1="230.16" y1="1276.90" x2="230.16" y2="1426.90" stroke="#111" stroke-width="1.3"/>
<line x1="230.16" y1="1551.40" x2="230.16" y2="1602.90" stroke="#111" stroke-width="1.3"/>
<rect x="207.06" y="1426.90" width="46.20" height="124.50" fill="none" stroke="#111" stroke-width="1.3"/>
<line x1="207.06" y1="1494.40" x2="253.26" y2="1494.40" stroke="#111" stroke-width="1.4300000000000002"/>
<path d="M224.1 1276.5a5.0 4.4 0 1 0 10.0 0a5.0 4.4 0 1 0 -10.0 0M221.8 1326.8a5.0 4.4 0 1 0 10.0 0a5.0 4.4 0 1 0 -10.0 0M227.5 1331.6a5.0 4.4 0 1 0 10.0 0a5.0 4.4 0 1 0 -10.0 0M219.5 1342.2a5.0 4.4 0 1 0 10.0 0a5.0 4.4 0 1 0 -10.0 0M233.1 1347.1a5.0 4.4 0 1 0 10.0 0a5.0 4.4 0 1 0 -10.0 0M234.4 1356.7a5.0 4.4 0 1 0 10.0 0a5.0 4.4 0 1 0 -10.0 0M224.5 1412.3a5.0 4.4 0 1 0 10.0 0a5.0 4.4 0 1 0 -10.0 0M216.5 1432.3a5.0 4.4 0 1 0 10.0 0a5.0 4.4 0 1 0 -10.0 0M221.1 1462.3a5.0 4.4 0 1 0 10.0 0a5.0 4.4 0 1 0 -10.0 0M216.5 1467.3a5.0 4.4 0 1 0 10.0 0a5.0 4.4 0 1 0 -10.0 0M235.1 1466.9a5.0 4.4 0 1 0 10.0 0a5.0 4.4 0 1 0 -10.0 0M230.8 1472.4a5.0 4.4 0 1 0 10.0 0a5.0 4.4 0 1 0 -10.0 0M231.0 1482.3a5.0 4.4 0 1 0 10.0 0a5.0 4.4 0 1 0 -10.0 0M229.6 1492.7a5.0 4.4 0 1 0 10.0 0a5.0 4.4 0 1 0 -10.0 0M222.5 1497.7a5.0 4.4 0 1 0 10.0 0a5.0 4.4 0 1 0 -10.0 0M231.0 1502.8a5.0 4.4 0 1 0 10.0 0a5.0 4.4 0 1 0 -10.0 0M221.1 1532.5a5.0 4.4 0 1 0 10.0 0a5.0 4.4 0 1 0 -10.0 0M219.5 1537.6a5.0 4.4 0 1 0 10.0 0a5.0 4.4 0 1 0 -10.0 0M235.8 1537.1a5.0 4.4 0 1 0 10.0 0a5.0 4.4 0 1 0 -10.0 0M234.7 1542.9a5.0 4.4 0 1 0 10.0 0a5.0 4.4 0 1 0 -10.0 0M234.7 1547.5a5.0 4.4 0 1 0 10.0 0a5.0 4.4 0 1 0 -10.0 0M219.7 1562.5a5.0 4.4 0 1 0 10.0 0a5.0 4.4 0 1 0 -10.0 0M235.1 1567.8a5.0 4.4 0 1 0 10.0 0a5.0 4.4 0 1 0 -10.0 0M220.9 1577.5a5.0 4.4 0 1 0 10.0 0a5.0 4.4 0 1 0 -10.0 0M228.5 1597.5a5.0 4.4 0 1 0 10.0 0a5.0 4.4 0 1 0 -10.0 0M213.9 1602.8a5.0 4.4 0 1 0 10.0 0a5.0 4.4 0 1 0 -10.0 0M221.1 1602.8a5.0 4.4 0 1 0 10.0 0a5.0 4.4 0 1 0 -10.0 0M229.4 1602.8a5.0 4.4 0 1 0 10.0 0a5.0 4.4 0 1 0 -10.0 0" fill="none" stroke="#000" stroke-width="1.45"/>
<text transform="translate(229.70,1649.00)" font-size="21.1" text-anchor="middle">NHEJ</text>
<text transform="translate(229.70,1696.50)" font-size="17.7" text-anchor="middle" fill="#4d4d4d">(n=28)</text>
<line x1="290.94" y1="1296.40" x2="290.94" y2="1463.40" stroke="#111" stroke-width="1.3"/>
<line x1="290.94" y1="1575.40" x2="290.94" y2="1602.90" stroke="#111" stroke-width="1.3"/>
<rect x="267.84" y="1463.40" width="46.20" height="112.00" fill="none" stroke="#111" stroke-width="1.3"/>
<line x1="267.84" y1="1489.90" x2="314.04" y2="1489.90" stroke="#111" stroke-width="1.4300000000000002"/>
<path d="M294.1 1296.8a5.0 4.4 0 1 0 10.0 0a5.0 4.4 0 1 0 -10.0 0M274.5 1336.9a5.0 4.4 0 1 0 10.0 0a5.0 4.4 0 1 0 -10.0 0M274.8 1362.3a5.0 4.4 0 1 0 10.0 0a5.0 4.4 0 1 0 -10.0 0M295.3 1372.2a5.0 4.4 0 1 0 10.0 0a5.0 4.4 0 1 0 -10.0 0M274.3 1392.2a5.0 4.4 0 1 0 10.0 0a5.0 4.4 0 1 0 -10.0 0M286.8 1447.1a5.0 4.4 0 1 0 10.0 0a5.0 4.4 0 1 0 -10.0 0M279.8 1462.3a5.0 4.4 0 1 0 10.0 0a5.0 4.4 0 1 0 -10.0 0M273.8 1467.3a5.0 4.4 0 1 0 10.0 0a5.0 4.4 0 1 0 -10.0 0M285.1 1466.9a5.0 4.4 0 1 0 10.0 0a5.0 4.4 0 1 0 -10.0 0M280.1 1472.4a5.0 4.4 0 1 0 10.0 0a5.0 4.4 0 1 0 -10.0 0M284.2 1472.4a5.0 4.4 0 1 0 10.0 0a5.0 4.4 0 1 0 -10.0 0M294.6 1472.4a5.0 4.4 0 1 0 10.0 0a5.0 4.4 0 1 0 -10.0 0M279.6 1487.4a5.0 4.4 0 1 0 10.0 0a5.0 4.4 0 1 0 -10.0 0M273.8 1492.7a5.0 4.4 0 1 0 10.0 0a5.0 4.4 0 1 0 -10.0 0M275.9 1507.6a5.0 4.4 0 1 0 10.0 0a5.0 4.4 0 1 0 -10.0 0M279.6 1507.6a5.0 4.4 0 1 0 10.0 0a5.0 4.4 0 1 0 -10.0 0M293.7 1527.7a5.0 4.4 0 1 0 10.0 0a5.0 4.4 0 1 0 -10.0 0M284.7 1562.5a5.0 4.4 0 1 0 10.0 0a5.0 4.4 0 1 0 -10.0 0M284.7 1567.6a5.0 4.4 0 1 0 10.0 0a5.0 4.4 0 1 0 -10.0 0M296.9 1577.5a5.0 4.4 0 1 0 10.0 0a5.0 4.4 0 1 0 -10.0 0M284.0 1587.6a5.0 4.4 0 1 0 10.0 0a5.0 4.4 0 1 0 -10.0 0M287.0 1592.9a5.0 4.4 0 1 0 10.0 0a5.0 4.4 0 1 0 -10.0 0M273.8 1597.5a5.0 4.4 0 1 0 10.0 0a5.0 4.4 0 1 0 -10.0 0M285.4 1597.5a5.0 4.4 0 1 0 10.0 0a5.0 4.4 0 1 0 -10.0 0M274.3 1602.8a5.0 4.4 0 1 0 10.0 0a5.0 4.4 0 1 0 -10.0 0M279.6 1602.8a5.0 4.4 0 1 0 10.0 0a5.0 4.4 0 1 0 -10.0 0" fill="none" stroke="#000" stroke-width="1.45"/>
<text transform="translate(290.90,1649.00)" font-size="21.1" text-anchor="middle">MMEJ</text>
<text transform="translate(291.40,1696.50)" font-size="17.7" text-anchor="middle" fill="#4d4d4d">(n=26)</text>
<line x1="351.72" y1="1291.90" x2="351.72" y2="1426.90" stroke="#111" stroke-width="1.3"/>
<line x1="351.72" y1="1527.40" x2="351.72" y2="1611.40" stroke="#111" stroke-width="1.3"/>
<rect x="328.62" y="1426.90" width="46.20" height="100.50" fill="none" stroke="#111" stroke-width="1.3"/>
<line x1="328.62" y1="1487.40" x2="374.82" y2="1487.40" stroke="#111" stroke-width="1.4300000000000002"/>
<path d="M335.0 1291.8a5.0 4.4 0 1 0 10.0 0a5.0 4.4 0 1 0 -10.0 0M351.9 1296.8a5.0 4.4 0 1 0 10.0 0a5.0 4.4 0 1 0 -10.0 0M351.2 1326.8a5.0 4.4 0 1 0 10.0 0a5.0 4.4 0 1 0 -10.0 0M349.6 1331.6a5.0 4.4 0 1 0 10.0 0a5.0 4.4 0 1 0 -10.0 0M337.4 1336.7a5.0 4.4 0 1 0 10.0 0a5.0 4.4 0 1 0 -10.0 0M338.0 1341.8a5.0 4.4 0 1 0 10.0 0a5.0 4.4 0 1 0 -10.0 0M358.3 1341.8a5.0 4.4 0 1 0 10.0 0a5.0 4.4 0 1 0 -10.0 0M351.9 1347.1a5.0 4.4 0 1 0 10.0 0a5.0 4.4 0 1 0 -10.0 0M339.2 1352.1a5.0 4.4 0 1 0 10.0 0a5.0 4.4 0 1 0 -10.0 0M347.9 1356.7a5.0 4.4 0 1 0 10.0 0a5.0 4.4 0 1 0 -10.0 0M335.7 1362.0a5.0 4.4 0 1 0 10.0 0a5.0 4.4 0 1 0 -10.0 0M358.3 1371.7a5.0 4.4 0 1 0 10.0 0a5.0 4.4 0 1 0 -10.0 0M354.2 1376.8a5.0 4.4 0 1 0 10.0 0a5.0 4.4 0 1 0 -10.0 0M353.0 1387.4a5.0 4.4 0 1 0 10.0 0a5.0 4.4 0 1 0 -10.0 0M355.3 1392.4a5.0 4.4 0 1 0 10.0 0a5.0 4.4 0 1 0 -10.0 0M336.9 1397.1a5.0 4.4 0 1 0 10.0 0a5.0 4.4 0 1 0 -10.0 0M347.3 1407.4a5.0 4.4 0 1 0 10.0 0a5.0 4.4 0 1 0 -10.0 0M338.0 1412.0a5.0 4.4 0 1 0 10.0 0a5.0 4.4 0 1 0 -10.0 0M334.6 1416.6a5.0 4.4 0 1 0 10.0 0a5.0 4.4 0 1 0 -10.0 0M337.4 1421.2a5.0 4.4 0 1 0 10.0 0a5.0 4.4 0 1 0 -10.0 0M351.9 1531.8a5.0 4.4 0 1 0 10.0 0a5.0 4.4 0 1 0 -10.0 0M341.5 1542.2a5.0 4.4 0 1 0 10.0 0a5.0 4.4 0 1 0 -10.0 0M349.6 1542.2a5.0 4.4 0 1 0 10.0 0a5.0 4.4 0 1 0 -10.0 0M346.1 1548.0a5.0 4.4 0 1 0 10.0 0a5.0 4.4 0 1 0 -10.0 0M357.6 1552.6a5.0 4.4 0 1 0 10.0 0a5.0 4.4 0 1 0 -10.0 0M353.0 1567.6a5.0 4.4 0 1 0 10.0 0a5.0 4.4 0 1 0 -10.0 0M338.0 1572.6a5.0 4.4 0 1 0 10.0 0a5.0 4.4 0 1 0 -10.0 0M337.4 1577.5a5.0 4.4 0 1 0 10.0 0a5.0 4.4 0 1 0 -10.0 0M335.7 1582.5a5.0 4.4 0 1 0 10.0 0a5.0 4.4 0 1 0 -10.0 0M356.5 1582.5a5.0 4.4 0 1 0 10.0 0a5.0 4.4 0 1 0 -10.0 0M347.3 1587.6a5.0 4.4 0 1 0 10.0 0a5.0 4.4 0 1 0 -10.0 0M357.6 1592.4a5.0 4.4 0 1 0 10.0 0a5.0 4.4 0 1 0 -10.0 0M334.6 1597.5a5.0 4.4 0 1 0 10.0 0a5.0 4.4 0 1 0 -10.0 0M356.5 1597.5a5.0 4.4 0 1 0 10.0 0a5.0 4.4 0 1 0 -10.0 0M339.2 1602.8a5.0 4.4 0 1 0 10.0 0a5.0 4.4 0 1 0 -10.0 0M346.1 1602.8a5.0 4.4 0 1 0 10.0 0a5.0 4.4 0 1 0 -10.0 0M355.3 1602.8a5.0 4.4 0 1 0 10.0 0a5.0 4.4 0 1 0 -10.0 0M349.6 1607.9a5.0 4.4 0 1 0 10.0 0a5.0 4.4 0 1 0 -10.0 0M354.2 1612.5a5.0 4.4 0 1 0 10.0 0a5.0 4.4 0 1 0 -10.0 0M357.6 1612.5a5.0 4.4 0 1 0 10.0 0a5.0 4.4 0 1 0 -10.0 0M342.9 1537.5a5.0 4.4 0 1 0 10.0 0a5.0 4.4 0 1 0 -10.0 0M335.6 1537.5a5.0 4.4 0 1 0 10.0 0a5.0 4.4 0 1 0 -10.0 0M337.5 1532.5a5.0 4.4 0 1 0 10.0 0a5.0 4.4 0 1 0 -10.0 0M336.0 1532.5a5.0 4.4 0 1 0 10.0 0a5.0 4.4 0 1 0 -10.0 0M352.7 1527.5a5.0 4.4 0 1 0 10.0 0a5.0 4.4 0 1 0 -10.0 0M340.6 1527.5a5.0 4.4 0 1 0 10.0 0a5.0 4.4 0 1 0 -10.0 0M338.3 1527.5a5.0 4.4 0 1 0 10.0 0a5.0 4.4 0 1 0 -10.0 0M336.3 1522.5a5.0 4.4 0 1 0 10.0 0a5.0 4.4 0 1 0 -10.0 0M355.3 1522.5a5.0 4.4 0 1 0 10.0 0a5.0 4.4 0 1 0 -10.0 0M356.0 1517.5a5.0 4.4 0 1 0 10.0 0a5.0 4.4 0 1 0 -10.0 0M351.0 1517.5a5.0 4.4 0 1 0 10.0 0a5.0 4.4 0 1 0 -10.0 0M341.3 1517.5a5.0 4.4 0 1 0 10.0 0a5.0 4.4 0 1 0 -10.0 0M340.3 1512.5a5.0 4.4 0 1 0 10.0 0a5.0 4.4 0 1 0 -10.0 0M341.5 1512.5a5.0 4.4 0 1 0 10.0 0a5.0 4.4 0 1 0 -10.0 0M345.7 1512.5a5.0 4.4 0 1 0 10.0 0a5.0 4.4 0 1 0 -10.0 0M338.2 1507.5a5.0 4.4 0 1 0 10.0 0a5.0 4.4 0 1 0 -10.0 0M345.4 1507.5a5.0 4.4 0 1 0 10.0 0a5.0 4.4 0 1 0 -10.0 0M340.8 1507.5a5.0 4.4 0 1 0 10.0 0a5.0 4.4 0 1 0 -10.0 0M358.3 1502.5a5.0 4.4 0 1 0 10.0 0a5.0 4.4 0 1 0 -10.0 0M358.5 1502.5a5.0 4.4 0 1 0 10.0 0a5.0 4.4 0 1 0 -10.0 0M347.9 1502.5a5.0 4.4 0 1 0 10.0 0a5.0 4.4 0 1 0 -10.0 0M340.3 1497.5a5.0 4.4 0 1 0 10.0 0a5.0 4.4 0 1 0 -10.0 0M358.4 1497.5a5.0 4.4 0 1 0 10.0 0a5.0 4.4 0 1 0 -10.0 0M342.0 1492.5a5.0 4.4 0 1 0 10.0 0a5.0 4.4 0 1 0 -10.0 0M343.1 1492.5a5.0 4.4 0 1 0 10.0 0a5.0 4.4 0 1 0 -10.0 0M334.2 1492.5a5.0 4.4 0 1 0 10.0 0a5.0 4.4 0 1 0 -10.0 0M343.8 1487.5a5.0 4.4 0 1 0 10.0 0a5.0 4.4 0 1 0 -10.0 0M346.1 1487.5a5.0 4.4 0 1 0 10.0 0a5.0 4.4 0 1 0 -10.0 0M346.8 1482.5a5.0 4.4 0 1 0 10.0 0a5.0 4.4 0 1 0 -10.0 0M339.2 1482.5a5.0 4.4 0 1 0 10.0 0a5.0 4.4 0 1 0 -10.0 0M346.8 1477.5a5.0 4.4 0 1 0 10.0 0a5.0 4.4 0 1 0 -10.0 0M334.3 1477.5a5.0 4.4 0 1 0 10.0 0a5.0 4.4 0 1 0 -10.0 0M340.8 1472.5a5.0 4.4 0 1 0 10.0 0a5.0 4.4 0 1 0 -10.0 0M336.5 1472.5a5.0 4.4 0 1 0 10.0 0a5.0 4.4 0 1 0 -10.0 0M344.2 1467.5a5.0 4.4 0 1 0 10.0 0a5.0 4.4 0 1 0 -10.0 0M335.3 1462.5a5.0 4.4 0 1 0 10.0 0a5.0 4.4 0 1 0 -10.0 0M334.8 1462.5a5.0 4.4 0 1 0 10.0 0a5.0 4.4 0 1 0 -10.0 0M341.8 1457.5a5.0 4.4 0 1 0 10.0 0a5.0 4.4 0 1 0 -10.0 0M340.0 1457.5a5.0 4.4 0 1 0 10.0 0a5.0 4.4 0 1 0 -10.0 0M348.9 1457.5a5.0 4.4 0 1 0 10.0 0a5.0 4.4 0 1 0 -10.0 0M347.4 1452.5a5.0 4.4 0 1 0 10.0 0a5.0 4.4 0 1 0 -10.0 0M353.0 1447.5a5.0 4.4 0 1 0 10.0 0a5.0 4.4 0 1 0 -10.0 0M350.7 1447.5a5.0 4.4 0 1 0 10.0 0a5.0 4.4 0 1 0 -10.0 0M352.1 1442.5a5.0 4.4 0 1 0 10.0 0a5.0 4.4 0 1 0 -10.0 0M356.2 1442.5a5.0 4.4 0 1 0 10.0 0a5.0 4.4 0 1 0 -10.0 0M344.0 1437.5a5.0 4.4 0 1 0 10.0 0a5.0 4.4 0 1 0 -10.0 0M342.4 1437.5a5.0 4.4 0 1 0 10.0 0a5.0 4.4 0 1 0 -10.0 0M358.8 1432.5a5.0 4.4 0 1 0 10.0 0a5.0 4.4 0 1 0 -10.0 0M338.0 1432.5a5.0 4.4 0 1 0 10.0 0a5.0 4.4 0 1 0 -10.0 0M352.3 1427.5a5.0 4.4 0 1 0 10.0 0a5.0 4.4 0 1 0 -10.0 0M350.3 1422.5a5.0 4.4 0 1 0 10.0 0a5.0 4.4 0 1 0 -10.0 0M335.3 1422.5a5.0 4.4 0 1 0 10.0 0a5.0 4.4 0 1 0 -10.0 0M355.1 1417.5a5.0 4.4 0 1 0 10.0 0a5.0 4.4 0 1 0 -10.0 0" fill="none" stroke="#000" stroke-width="1.45"/>
<text transform="translate(352.10,1649.00)" font-size="21.1" text-anchor="middle">HDR</text>
<text transform="translate(353.10,1696.50)" font-size="17.7" text-anchor="middle" fill="#4d4d4d">(n=93)</text>
<line x1="412.50" y1="1392.40" x2="412.50" y2="1461.90" stroke="#111" stroke-width="1.3"/>
<line x1="412.50" y1="1536.40" x2="412.50" y2="1611.40" stroke="#111" stroke-width="1.3"/>
<rect x="389.40" y="1461.90" width="46.20" height="74.50" fill="none" stroke="#111" stroke-width="1.3"/>
<line x1="389.40" y1="1487.40" x2="435.60" y2="1487.40" stroke="#111" stroke-width="1.4300000000000002"/>
<path d="M420.5 1246.6a5.0 4.4 0 1 0 10.0 0a5.0 4.4 0 1 0 -10.0 0M412.2 1296.8a5.0 4.4 0 1 0 10.0 0a5.0 4.4 0 1 0 -10.0 0M405.6 1326.8a5.0 4.4 0 1 0 10.0 0a5.0 4.4 0 1 0 -10.0 0M416.4 1392.0a5.0 4.4 0 1 0 10.0 0a5.0 4.4 0 1 0 -10.0 0M412.9 1397.1a5.0 4.4 0 1 0 10.0 0a5.0 4.4 0 1 0 -10.0 0M410.2 1407.4a5.0 4.4 0 1 0 10.0 0a5.0 4.4 0 1 0 -10.0 0M414.5 1427.5a5.0 4.4 0 1 0 10.0 0a5.0 4.4 0 1 0 -10.0 0M399.6 1437.4a5.0 4.4 0 1 0 10.0 0a5.0 4.4 0 1 0 -10.0 0M418.7 1447.3a5.0 4.4 0 1 0 10.0 0a5.0 4.4 0 1 0 -10.0 0M412.9 1457.4a5.0 4.4 0 1 0 10.0 0a5.0 4.4 0 1 0 -10.0 0M416.4 1462.3a5.0 4.4 0 1 0 10.0 0a5.0 4.4 0 1 0 -10.0 0M394.5 1467.3a5.0 4.4 0 1 0 10.0 0a5.0 4.4 0 1 0 -10.0 0M400.3 1467.3a5.0 4.4 0 1 0 10.0 0a5.0 4.4 0 1 0 -10.0 0M409.5 1467.3a5.0 4.4 0 1 0 10.0 0a5.0 4.4 0 1 0 -10.0 0M415.2 1467.3a5.0 4.4 0 1 0 10.0 0a5.0 4.4 0 1 0 -10.0 0M419.8 1467.3a5.0 4.4 0 1 0 10.0 0a5.0 4.4 0 1 0 -10.0 0M409.5 1472.4a5.0 4.4 0 1 0 10.0 0a5.0 4.4 0 1 0 -10.0 0M415.2 1472.4a5.0 4.4 0 1 0 10.0 0a5.0 4.4 0 1 0 -10.0 0M405.3 1487.4a5.0 4.4 0 1 0 10.0 0a5.0 4.4 0 1 0 -10.0 0M419.8 1487.4a5.0 4.4 0 1 0 10.0 0a5.0 4.4 0 1 0 -10.0 0M400.3 1492.7a5.0 4.4 0 1 0 10.0 0a5.0 4.4 0 1 0 -10.0 0M413.6 1502.6a5.0 4.4 0 1 0 10.0 0a5.0 4.4 0 1 0 -10.0 0M400.3 1517.6a5.0 4.4 0 1 0 10.0 0a5.0 4.4 0 1 0 -10.0 0M407.2 1527.2a5.0 4.4 0 1 0 10.0 0a5.0 4.4 0 1 0 -10.0 0M402.6 1532.5a5.0 4.4 0 1 0 10.0 0a5.0 4.4 0 1 0 -10.0 0M409.5 1532.5a5.0 4.4 0 1 0 10.0 0a5.0 4.4 0 1 0 -10.0 0M415.2 1532.5a5.0 4.4 0 1 0 10.0 0a5.0 4.4 0 1 0 -10.0 0M418.7 1532.5a5.0 4.4 0 1 0 10.0 0a5.0 4.4 0 1 0 -10.0 0M401.4 1537.6a5.0 4.4 0 1 0 10.0 0a5.0 4.4 0 1 0 -10.0 0M395.6 1542.7a5.0 4.4 0 1 0 10.0 0a5.0 4.4 0 1 0 -10.0 0M400.3 1542.7a5.0 4.4 0 1 0 10.0 0a5.0 4.4 0 1 0 -10.0 0M401.4 1557.6a5.0 4.4 0 1 0 10.0 0a5.0 4.4 0 1 0 -10.0 0M398.4 1577.5a5.0 4.4 0 1 0 10.0 0a5.0 4.4 0 1 0 -10.0 0M399.1 1592.4a5.0 4.4 0 1 0 10.0 0a5.0 4.4 0 1 0 -10.0 0M407.2 1597.5a5.0 4.4 0 1 0 10.0 0a5.0 4.4 0 1 0 -10.0 0M415.2 1597.5a5.0 4.4 0 1 0 10.0 0a5.0 4.4 0 1 0 -10.0 0M416.4 1602.8a5.0 4.4 0 1 0 10.0 0a5.0 4.4 0 1 0 -10.0 0M415.7 1612.5a5.0 4.4 0 1 0 10.0 0a5.0 4.4 0 1 0 -10.0 0" fill="none" stroke="#000" stroke-width="1.45"/>
<text transform="translate(413.30,1649.00)" font-size="21.1" text-anchor="middle">NER</text>
<text transform="translate(414.80,1696.50)" font-size="17.7" text-anchor="middle" fill="#4d4d4d">(n=38)</text>
<line x1="473.28" y1="1286.40" x2="473.28" y2="1427.40" stroke="#111" stroke-width="1.3"/>
<line x1="473.28" y1="1525.90" x2="473.28" y2="1611.40" stroke="#111" stroke-width="1.3"/>
<rect x="450.18" y="1427.40" width="46.20" height="98.50" fill="none" stroke="#111" stroke-width="1.3"/>
<line x1="450.18" y1="1477.40" x2="496.38" y2="1477.40" stroke="#111" stroke-width="1.4300000000000002"/>
<path d="M465.9 1276.8a5.0 4.4 0 1 0 10.0 0a5.0 4.4 0 1 0 -10.0 0M468.2 1286.5a5.0 4.4 0 1 0 10.0 0a5.0 4.4 0 1 0 -10.0 0M460.2 1291.8a5.0 4.4 0 1 0 10.0 0a5.0 4.4 0 1 0 -10.0 0M477.4 1291.8a5.0 4.4 0 1 0 10.0 0a5.0 4.4 0 1 0 -10.0 0M476.3 1296.8a5.0 4.4 0 1 0 10.0 0a5.0 4.4 0 1 0 -10.0 0M463.6 1302.1a5.0 4.4 0 1 0 10.0 0a5.0 4.4 0 1 0 -10.0 0M479.7 1302.1a5.0 4.4 0 1 0 10.0 0a5.0 4.4 0 1 0 -10.0 0M467.1 1321.7a5.0 4.4 0 1 0 10.0 0a5.0 4.4 0 1 0 -10.0 0M456.7 1326.8a5.0 4.4 0 1 0 10.0 0a5.0 4.4 0 1 0 -10.0 0M462.5 1331.6a5.0 4.4 0 1 0 10.0 0a5.0 4.4 0 1 0 -10.0 0M474.0 1331.6a5.0 4.4 0 1 0 10.0 0a5.0 4.4 0 1 0 -10.0 0M480.9 1336.7a5.0 4.4 0 1 0 10.0 0a5.0 4.4 0 1 0 -10.0 0M455.6 1341.8a5.0 4.4 0 1 0 10.0 0a5.0 4.4 0 1 0 -10.0 0M467.1 1341.8a5.0 4.4 0 1 0 10.0 0a5.0 4.4 0 1 0 -10.0 0M457.9 1352.1a5.0 4.4 0 1 0 10.0 0a5.0 4.4 0 1 0 -10.0 0M476.3 1347.1a5.0 4.4 0 1 0 10.0 0a5.0 4.4 0 1 0 -10.0 0M455.6 1362.0a5.0 4.4 0 1 0 10.0 0a5.0 4.4 0 1 0 -10.0 0M472.8 1362.0a5.0 4.4 0 1 0 10.0 0a5.0 4.4 0 1 0 -10.0 0M465.5 1612.5a5.0 4.4 0 1 0 10.0 0a5.0 4.4 0 1 0 -10.0 0M479.2 1612.5a5.0 4.4 0 1 0 10.0 0a5.0 4.4 0 1 0 -10.0 0M476.6 1612.5a5.0 4.4 0 1 0 10.0 0a5.0 4.4 0 1 0 -10.0 0M477.4 1612.5a5.0 4.4 0 1 0 10.0 0a5.0 4.4 0 1 0 -10.0 0M480.4 1612.5a5.0 4.4 0 1 0 10.0 0a5.0 4.4 0 1 0 -10.0 0M461.8 1612.5a5.0 4.4 0 1 0 10.0 0a5.0 4.4 0 1 0 -10.0 0M458.3 1612.5a5.0 4.4 0 1 0 10.0 0a5.0 4.4 0 1 0 -10.0 0M459.4 1612.5a5.0 4.4 0 1 0 10.0 0a5.0 4.4 0 1 0 -10.0 0M468.9 1612.5a5.0 4.4 0 1 0 10.0 0a5.0 4.4 0 1 0 -10.0 0M472.9 1612.5a5.0 4.4 0 1 0 10.0 0a5.0 4.4 0 1 0 -10.0 0M479.6 1612.5a5.0 4.4 0 1 0 10.0 0a5.0 4.4 0 1 0 -10.0 0M474.0 1612.5a5.0 4.4 0 1 0 10.0 0a5.0 4.4 0 1 0 -10.0 0M472.1 1612.5a5.0 4.4 0 1 0 10.0 0a5.0 4.4 0 1 0 -10.0 0M475.1 1612.5a5.0 4.4 0 1 0 10.0 0a5.0 4.4 0 1 0 -10.0 0M467.2 1607.5a5.0 4.4 0 1 0 10.0 0a5.0 4.4 0 1 0 -10.0 0M469.6 1607.5a5.0 4.4 0 1 0 10.0 0a5.0 4.4 0 1 0 -10.0 0M456.5 1607.5a5.0 4.4 0 1 0 10.0 0a5.0 4.4 0 1 0 -10.0 0M475.5 1607.5a5.0 4.4 0 1 0 10.0 0a5.0 4.4 0 1 0 -10.0 0M461.4 1607.5a5.0 4.4 0 1 0 10.0 0a5.0 4.4 0 1 0 -10.0 0M479.0 1602.5a5.0 4.4 0 1 0 10.0 0a5.0 4.4 0 1 0 -10.0 0M472.0 1602.5a5.0 4.4 0 1 0 10.0 0a5.0 4.4 0 1 0 -10.0 0M463.3 1602.5a5.0 4.4 0 1 0 10.0 0a5.0 4.4 0 1 0 -10.0 0M458.8 1597.5a5.0 4.4 0 1 0 10.0 0a5.0 4.4 0 1 0 -10.0 0M461.9 1597.5a5.0 4.4 0 1 0 10.0 0a5.0 4.4 0 1 0 -10.0 0M471.8 1597.5a5.0 4.4 0 1 0 10.0 0a5.0 4.4 0 1 0 -10.0 0M473.4 1592.5a5.0 4.4 0 1 0 10.0 0a5.0 4.4 0 1 0 -10.0 0M458.4 1587.5a5.0 4.4 0 1 0 10.0 0a5.0 4.4 0 1 0 -10.0 0M457.3 1587.5a5.0 4.4 0 1 0 10.0 0a5.0 4.4 0 1 0 -10.0 0M468.9 1582.5a5.0 4.4 0 1 0 10.0 0a5.0 4.4 0 1 0 -10.0 0M470.4 1582.5a5.0 4.4 0 1 0 10.0 0a5.0 4.4 0 1 0 -10.0 0M465.4 1577.5a5.0 4.4 0 1 0 10.0 0a5.0 4.4 0 1 0 -10.0 0M461.2 1577.5a5.0 4.4 0 1 0 10.0 0a5.0 4.4 0 1 0 -10.0 0M470.9 1572.5a5.0 4.4 0 1 0 10.0 0a5.0 4.4 0 1 0 -10.0 0M455.7 1572.5a5.0 4.4 0 1 0 10.0 0a5.0 4.4 0 1 0 -10.0 0M463.2 1572.5a5.0 4.4 0 1 0 10.0 0a5.0 4.4 0 1 0 -10.0 0M467.3 1567.5a5.0 4.4 0 1 0 10.0 0a5.0 4.4 0 1 0 -10.0 0M480.0 1562.5a5.0 4.4 0 1 0 10.0 0a5.0 4.4 0 1 0 -10.0 0M472.0 1562.5a5.0 4.4 0 1 0 10.0 0a5.0 4.4 0 1 0 -10.0 0M478.1 1557.5a5.0 4.4 0 1 0 10.0 0a5.0 4.4 0 1 0 -10.0 0M467.6 1557.5a5.0 4.4 0 1 0 10.0 0a5.0 4.4 0 1 0 -10.0 0M461.5 1557.5a5.0 4.4 0 1 0 10.0 0a5.0 4.4 0 1 0 -10.0 0M461.8 1552.5a5.0 4.4 0 1 0 10.0 0a5.0 4.4 0 1 0 -10.0 0M480.1 1552.5a5.0 4.4 0 1 0 10.0 0a5.0 4.4 0 1 0 -10.0 0M473.5 1547.5a5.0 4.4 0 1 0 10.0 0a5.0 4.4 0 1 0 -10.0 0M463.3 1547.5a5.0 4.4 0 1 0 10.0 0a5.0 4.4 0 1 0 -10.0 0M456.0 1542.5a5.0 4.4 0 1 0 10.0 0a5.0 4.4 0 1 0 -10.0 0M468.2 1542.5a5.0 4.4 0 1 0 10.0 0a5.0 4.4 0 1 0 -10.0 0M472.7 1542.5a5.0 4.4 0 1 0 10.0 0a5.0 4.4 0 1 0 -10.0 0M466.2 1537.5a5.0 4.4 0 1 0 10.0 0a5.0 4.4 0 1 0 -10.0 0M462.1 1537.5a5.0 4.4 0 1 0 10.0 0a5.0 4.4 0 1 0 -10.0 0M472.6 1532.5a5.0 4.4 0 1 0 10.0 0a5.0 4.4 0 1 0 -10.0 0M479.2 1532.5a5.0 4.4 0 1 0 10.0 0a5.0 4.4 0 1 0 -10.0 0M461.3 1527.5a5.0 4.4 0 1 0 10.0 0a5.0 4.4 0 1 0 -10.0 0M456.4 1527.5a5.0 4.4 0 1 0 10.0 0a5.0 4.4 0 1 0 -10.0 0M464.1 1527.5a5.0 4.4 0 1 0 10.0 0a5.0 4.4 0 1 0 -10.0 0M466.2 1522.5a5.0 4.4 0 1 0 10.0 0a5.0 4.4 0 1 0 -10.0 0M473.0 1522.5a5.0 4.4 0 1 0 10.0 0a5.0 4.4 0 1 0 -10.0 0M460.6 1522.5a5.0 4.4 0 1 0 10.0 0a5.0 4.4 0 1 0 -10.0 0M475.9 1522.5a5.0 4.4 0 1 0 10.0 0a5.0 4.4 0 1 0 -10.0 0M474.4 1522.5a5.0 4.4 0 1 0 10.0 0a5.0 4.4 0 1 0 -10.0 0M468.4 1522.5a5.0 4.4 0 1 0 10.0 0a5.0 4.4 0 1 0 -10.0 0M460.7 1517.5a5.0 4.4 0 1 0 10.0 0a5.0 4.4 0 1 0 -10.0 0M480.3 1517.5a5.0 4.4 0 1 0 10.0 0a5.0 4.4 0 1 0 -10.0 0M463.5 1517.5a5.0 4.4 0 1 0 10.0 0a5.0 4.4 0 1 0 -10.0 0M476.5 1517.5a5.0 4.4 0 1 0 10.0 0a5.0 4.4 0 1 0 -10.0 0M461.4 1517.5a5.0 4.4 0 1 0 10.0 0a5.0 4.4 0 1 0 -10.0 0M461.1 1512.5a5.0 4.4 0 1 0 10.0 0a5.0 4.4 0 1 0 -10.0 0M474.9 1512.5a5.0 4.4 0 1 0 10.0 0a5.0 4.4 0 1 0 -10.0 0M463.0 1512.5a5.0 4.4 0 1 0 10.0 0a5.0 4.4 0 1 0 -10.0 0M479.8 1512.5a5.0 4.4 0 1 0 10.0 0a5.0 4.4 0 1 0 -10.0 0M468.2 1512.5a5.0 4.4 0 1 0 10.0 0a5.0 4.4 0 1 0 -10.0 0M460.3 1507.5a5.0 4.4 0 1 0 10.0 0a5.0 4.4 0 1 0 -10.0 0M461.2 1507.5a5.0 4.4 0 1 0 10.0 0a5.0 4.4 0 1 0 -10.0 0M466.2 1507.5a5.0 4.4 0 1 0 10.0 0a5.0 4.4 0 1 0 -10.0 0M472.5 1507.5a5.0 4.4 0 1 0 10.0 0a5.0 4.4 0 1 0 -10.0 0M479.8 1507.5a5.0 4.4 0 1 0 10.0 0a5.0 4.4 0 1 0 -10.0 0M459.2 1507.5a5.0 4.4 0 1 0 10.0 0a5.0 4.4 0 1 0 -10.0 0M465.6 1502.5a5.0 4.4 0 1 0 10.0 0a5.0 4.4 0 1 0 -10.0 0M460.9 1502.5a5.0 4.4 0 1 0 10.0 0a5.0 4.4 0 1 0 -10.0 0M480.4 1502.5a5.0 4.4 0 1 0 10.0 0a5.0 4.4 0 1 0 -10.0 0M459.1 1502.5a5.0 4.4 0 1 0 10.0 0a5.0 4.4 0 1 0 -10.0 0M456.8 1502.5a5.0 4.4 0 1 0 10.0 0a5.0 4.4 0 1 0 -10.0 0M457.0 1497.5a5.0 4.4 0 1 0 10.0 0a5.0 4.4 0 1 0 -10.0 0M465.5 1497.5a5.0 4.4 0 1 0 10.0 0a5.0 4.4 0 1 0 -10.0 0M478.5 1497.5a5.0 4.4 0 1 0 10.0 0a5.0 4.4 0 1 0 -10.0 0M478.1 1497.5a5.0 4.4 0 1 0 10.0 0a5.0 4.4 0 1 0 -10.0 0M474.2 1497.5a5.0 4.4 0 1 0 10.0 0a5.0 4.4 0 1 0 -10.0 0M481.0 1492.5a5.0 4.4 0 1 0 10.0 0a5.0 4.4 0 1 0 -10.0 0M479.3 1492.5a5.0 4.4 0 1 0 10.0 0a5.0 4.4 0 1 0 -10.0 0M463.9 1492.5a5.0 4.4 0 1 0 10.0 0a5.0 4.4 0 1 0 -10.0 0M460.2 1492.5a5.0 4.4 0 1 0 10.0 0a5.0 4.4 0 1 0 -10.0 0M479.4 1492.5a5.0 4.4 0 1 0 10.0 0a5.0 4.4 0 1 0 -10.0 0M474.6 1492.5a5.0 4.4 0 1 0 10.0 0a5.0 4.4 0 1 0 -10.0 0M456.3 1487.5a5.0 4.4 0 1 0 10.0 0a5.0 4.4 0 1 0 -10.0 0M472.5 1487.5a5.0 4.4 0 1 0 10.0 0a5.0 4.4 0 1 0 -10.0 0M465.2 1487.5a5.0 4.4 0 1 0 10.0 0a5.0 4.4 0 1 0 -10.0 0M465.1 1487.5a5.0 4.4 0 1 0 10.0 0a5.0 4.4 0 1 0 -10.0 0M464.0 1487.5a5.0 4.4 0 1 0 10.0 0a5.0 4.4 0 1 0 -10.0 0M459.8 1487.5a5.0 4.4 0 1 0 10.0 0a5.0 4.4 0 1 0 -10.0 0M455.6 1482.5a5.0 4.4 0 1 0 10.0 0a5.0 4.4 0 1 0 -10.0 0M462.6 1482.5a5.0 4.4 0 1 0 10.0 0a5.0 4.4 0 1 0 -10.0 0M464.5 1482.5a5.0 4.4 0 1 0 10.0 0a5.0 4.4 0 1 0 -10.0 0M479.9 1482.5a5.0 4.4 0 1 0 10.0 0a5.0 4.4 0 1 0 -10.0 0M458.6 1482.5a5.0 4.4 0 1 0 10.0 0a5.0 4.4 0 1 0 -10.0 0M480.2 1477.5a5.0 4.4 0 1 0 10.0 0a5.0 4.4 0 1 0 -10.0 0M460.8 1477.5a5.0 4.4 0 1 0 10.0 0a5.0 4.4 0 1 0 -10.0 0M464.6 1477.5a5.0 4.4 0 1 0 10.0 0a5.0 4.4 0 1 0 -10.0 0M476.5 1477.5a5.0 4.4 0 1 0 10.0 0a5.0 4.4 0 1 0 -10.0 0M476.5 1477.5a5.0 4.4 0 1 0 10.0 0a5.0 4.4 0 1 0 -10.0 0M466.6 1472.5a5.0 4.4 0 1 0 10.0 0a5.0 4.4 0 1 0 -10.0 0M456.7 1472.5a5.0 4.4 0 1 0 10.0 0a5.0 4.4 0 1 0 -10.0 0M467.6 1472.5a5.0 4.4 0 1 0 10.0 0a5.0 4.4 0 1 0 -10.0 0M465.0 1472.5a5.0 4.4 0 1 0 10.0 0a5.0 4.4 0 1 0 -10.0 0M479.0 1472.5a5.0 4.4 0 1 0 10.0 0a5.0 4.4 0 1 0 -10.0 0M460.4 1472.5a5.0 4.4 0 1 0 10.0 0a5.0 4.4 0 1 0 -10.0 0M464.8 1467.5a5.0 4.4 0 1 0 10.0 0a5.0 4.4 0 1 0 -10.0 0M478.4 1467.5a5.0 4.4 0 1 0 10.0 0a5.0 4.4 0 1 0 -10.0 0M456.3 1467.5a5.0 4.4 0 1 0 10.0 0a5.0 4.4 0 1 0 -10.0 0M466.0 1467.5a5.0 4.4 0 1 0 10.0 0a5.0 4.4 0 1 0 -10.0 0M476.3 1467.5a5.0 4.4 0 1 0 10.0 0a5.0 4.4 0 1 0 -10.0 0M475.1 1462.5a5.0 4.4 0 1 0 10.0 0a5.0 4.4 0 1 0 -10.0 0M456.5 1462.5a5.0 4.4 0 1 0 10.0 0a5.0 4.4 0 1 0 -10.0 0M456.4 1462.5a5.0 4.4 0 1 0 10.0 0a5.0 4.4 0 1 0 -10.0 0M457.1 1462.5a5.0 4.4 0 1 0 10.0 0a5.0 4.4 0 1 0 -10.0 0M479.0 1457.5a5.0 4.4 0 1 0 10.0 0a5.0 4.4 0 1 0 -10.0 0M462.1 1457.5a5.0 4.4 0 1 0 10.0 0a5.0 4.4 0 1 0 -10.0 0M474.6 1457.5a5.0 4.4 0 1 0 10.0 0a5.0 4.4 0 1 0 -10.0 0M478.5 1457.5a5.0 4.4 0 1 0 10.0 0a5.0 4.4 0 1 0 -10.0 0M464.2 1457.5a5.0 4.4 0 1 0 10.0 0a5.0 4.4 0 1 0 -10.0 0M462.5 1457.5a5.0 4.4 0 1 0 10.0 0a5.0 4.4 0 1 0 -10.0 0M480.0 1452.5a5.0 4.4 0 1 0 10.0 0a5.0 4.4 0 1 0 -10.0 0M471.3 1452.5a5.0 4.4 0 1 0 10.0 0a5.0 4.4 0 1 0 -10.0 0M462.2 1452.5a5.0 4.4 0 1 0 10.0 0a5.0 4.4 0 1 0 -10.0 0M473.8 1452.5a5.0 4.4 0 1 0 10.0 0a5.0 4.4 0 1 0 -10.0 0M463.6 1452.5a5.0 4.4 0 1 0 10.0 0a5.0 4.4 0 1 0 -10.0 0M462.5 1447.5a5.0 4.4 0 1 0 10.0 0a5.0 4.4 0 1 0 -10.0 0M455.6 1447.5a5.0 4.4 0 1 0 10.0 0a5.0 4.4 0 1 0 -10.0 0M474.8 1447.5a5.0 4.4 0 1 0 10.0 0a5.0 4.4 0 1 0 -10.0 0M478.9 1447.5a5.0 4.4 0 1 0 10.0 0a5.0 4.4 0 1 0 -10.0 0M471.7 1447.5a5.0 4.4 0 1 0 10.0 0a5.0 4.4 0 1 0 -10.0 0M479.6 1442.5a5.0 4.4 0 1 0 10.0 0a5.0 4.4 0 1 0 -10.0 0M456.1 1442.5a5.0 4.4 0 1 0 10.0 0a5.0 4.4 0 1 0 -10.0 0M461.5 1442.5a5.0 4.4 0 1 0 10.0 0a5.0 4.4 0 1 0 -10.0 0M467.6 1442.5a5.0 4.4 0 1 0 10.0 0a5.0 4.4 0 1 0 -10.0 0M480.0 1442.5a5.0 4.4 0 1 0 10.0 0a5.0 4.4 0 1 0 -10.0 0M479.9 1437.5a5.0 4.4 0 1 0 10.0 0a5.0 4.4 0 1 0 -10.0 0M465.4 1437.5a5.0 4.4 0 1 0 10.0 0a5.0 4.4 0 1 0 -10.0 0M461.9 1437.5a5.0 4.4 0 1 0 10.0 0a5.0 4.4 0 1 0 -10.0 0M466.5 1437.5a5.0 4.4 0 1 0 10.0 0a5.0 4.4 0 1 0 -10.0 0M468.1 1437.5a5.0 4.4 0 1 0 10.0 0a5.0 4.4 0 1 0 -10.0 0M479.2 1437.5a5.0 4.4 0 1 0 10.0 0a5.0 4.4 0 1 0 -10.0 0M460.2 1432.5a5.0 4.4 0 1 0 10.0 0a5.0 4.4 0 1 0 -10.0 0M476.0 1432.5a5.0 4.4 0 1 0 10.0 0a5.0 4.4 0 1 0 -10.0 0M474.4 1432.5a5.0 4.4 0 1 0 10.0 0a5.0 4.4 0 1 0 -10.0 0M476.5 1432.5a5.0 4.4 0 1 0 10.0 0a5.0 4.4 0 1 0 -10.0 0M475.3 1432.5a5.0 4.4 0 1 0 10.0 0a5.0 4.4 0 1 0 -10.0 0M471.0 1427.5a5.0 4.4 0 1 0 10.0 0a5.0 4.4 0 1 0 -10.0 0M463.9 1427.5a5.0 4.4 0 1 0 10.0 0a5.0 4.4 0 1 0 -10.0 0M463.7 1427.5a5.0 4.4 0 1 0 10.0 0a5.0 4.4 0 1 0 -10.0 0M464.7 1422.5a5.0 4.4 0 1 0 10.0 0a5.0 4.4 0 1 0 -10.0 0M475.5 1422.5a5.0 4.4 0 1 0 10.0 0a5.0 4.4 0 1 0 -10.0 0M457.5 1422.5a5.0 4.4 0 1 0 10.0 0a5.0 4.4 0 1 0 -10.0 0M460.5 1417.5a5.0 4.4 0 1 0 10.0 0a5.0 4.4 0 1 0 -10.0 0M474.8 1417.5a5.0 4.4 0 1 0 10.0 0a5.0 4.4 0 1 0 -10.0 0M461.8 1417.5a5.0 4.4 0 1 0 10.0 0a5.0 4.4 0 1 0 -10.0 0M457.1 1412.5a5.0 4.4 0 1 0 10.0 0a5.0 4.4 0 1 0 -10.0 0M456.3 1412.5a5.0 4.4 0 1 0 10.0 0a5.0 4.4 0 1 0 -10.0 0M469.6 1407.5a5.0 4.4 0 1 0 10.0 0a5.0 4.4 0 1 0 -10.0 0M463.8 1407.5a5.0 4.4 0 1 0 10.0 0a5.0 4.4 0 1 0 -10.0 0M480.6 1407.5a5.0 4.4 0 1 0 10.0 0a5.0 4.4 0 1 0 -10.0 0M478.1 1402.5a5.0 4.4 0 1 0 10.0 0a5.0 4.4 0 1 0 -10.0 0M480.8 1402.5a5.0 4.4 0 1 0 10.0 0a5.0 4.4 0 1 0 -10.0 0M462.3 1402.5a5.0 4.4 0 1 0 10.0 0a5.0 4.4 0 1 0 -10.0 0M457.6 1397.5a5.0 4.4 0 1 0 10.0 0a5.0 4.4 0 1 0 -10.0 0M457.9 1397.5a5.0 4.4 0 1 0 10.0 0a5.0 4.4 0 1 0 -10.0 0M468.2 1397.5a5.0 4.4 0 1 0 10.0 0a5.0 4.4 0 1 0 -10.0 0M473.7 1392.5a5.0 4.4 0 1 0 10.0 0a5.0 4.4 0 1 0 -10.0 0M466.9 1392.5a5.0 4.4 0 1 0 10.0 0a5.0 4.4 0 1 0 -10.0 0M461.5 1387.5a5.0 4.4 0 1 0 10.0 0a5.0 4.4 0 1 0 -10.0 0M466.2 1387.5a5.0 4.4 0 1 0 10.0 0a5.0 4.4 0 1 0 -10.0 0M471.4 1387.5a5.0 4.4 0 1 0 10.0 0a5.0 4.4 0 1 0 -10.0 0M472.7 1382.5a5.0 4.4 0 1 0 10.0 0a5.0 4.4 0 1 0 -10.0 0M474.6 1382.5a5.0 4.4 0 1 0 10.0 0a5.0 4.4 0 1 0 -10.0 0M477.2 1382.5a5.0 4.4 0 1 0 10.0 0a5.0 4.4 0 1 0 -10.0 0M472.5 1382.5a5.0 4.4 0 1 0 10.0 0a5.0 4.4 0 1 0 -10.0 0M458.6 1377.5a5.0 4.4 0 1 0 10.0 0a5.0 4.4 0 1 0 -10.0 0M477.0 1377.5a5.0 4.4 0 1 0 10.0 0a5.0 4.4 0 1 0 -10.0 0M463.0 1377.5a5.0 4.4 0 1 0 10.0 0a5.0 4.4 0 1 0 -10.0 0M470.0 1377.5a5.0 4.4 0 1 0 10.0 0a5.0 4.4 0 1 0 -10.0 0M465.0 1377.5a5.0 4.4 0 1 0 10.0 0a5.0 4.4 0 1 0 -10.0 0M474.4 1372.5a5.0 4.4 0 1 0 10.0 0a5.0 4.4 0 1 0 -10.0 0M460.6 1372.5a5.0 4.4 0 1 0 10.0 0a5.0 4.4 0 1 0 -10.0 0M461.8 1372.5a5.0 4.4 0 1 0 10.0 0a5.0 4.4 0 1 0 -10.0 0M461.8 1372.5a5.0 4.4 0 1 0 10.0 0a5.0 4.4 0 1 0 -10.0 0M459.4 1367.5a5.0 4.4 0 1 0 10.0 0a5.0 4.4 0 1 0 -10.0 0M478.1 1367.5a5.0 4.4 0 1 0 10.0 0a5.0 4.4 0 1 0 -10.0 0" fill="none" stroke="#000" stroke-width="1.45"/>
<text transform="translate(474.50,1649.00)" font-size="21.1" text-anchor="middle">CCR</text>
<text transform="translate(476.50,1696.50)" font-size="17.7" text-anchor="middle" fill="#4d4d4d">(n=214)</text>
<line x1="534.06" y1="1291.40" x2="534.06" y2="1414.40" stroke="#111" stroke-width="1.3"/>
<line x1="534.06" y1="1534.90" x2="534.06" y2="1611.40" stroke="#111" stroke-width="1.3"/>
<rect x="510.96" y="1414.40" width="46.20" height="120.50" fill="none" stroke="#111" stroke-width="1.3"/>
<line x1="510.96" y1="1477.40" x2="557.16" y2="1477.40" stroke="#111" stroke-width="1.4300000000000002"/>
<path d="M523.5 1291.8a5.0 4.4 0 1 0 10.0 0a5.0 4.4 0 1 0 -10.0 0M517.3 1296.8a5.0 4.4 0 1 0 10.0 0a5.0 4.4 0 1 0 -10.0 0M524.7 1331.6a5.0 4.4 0 1 0 10.0 0a5.0 4.4 0 1 0 -10.0 0M516.6 1336.7a5.0 4.4 0 1 0 10.0 0a5.0 4.4 0 1 0 -10.0 0M521.2 1341.8a5.0 4.4 0 1 0 10.0 0a5.0 4.4 0 1 0 -10.0 0M525.8 1344.5a5.0 4.4 0 1 0 10.0 0a5.0 4.4 0 1 0 -10.0 0M539.7 1347.1a5.0 4.4 0 1 0 10.0 0a5.0 4.4 0 1 0 -10.0 0M525.8 1356.7a5.0 4.4 0 1 0 10.0 0a5.0 4.4 0 1 0 -10.0 0M537.8 1352.1a5.0 4.4 0 1 0 10.0 0a5.0 4.4 0 1 0 -10.0 0M536.9 1362.0a5.0 4.4 0 1 0 10.0 0a5.0 4.4 0 1 0 -10.0 0M518.9 1382.1a5.0 4.4 0 1 0 10.0 0a5.0 4.4 0 1 0 -10.0 0M539.7 1387.4a5.0 4.4 0 1 0 10.0 0a5.0 4.4 0 1 0 -10.0 0M517.8 1397.1a5.0 4.4 0 1 0 10.0 0a5.0 4.4 0 1 0 -10.0 0M522.4 1397.1a5.0 4.4 0 1 0 10.0 0a5.0 4.4 0 1 0 -10.0 0M518.9 1407.4a5.0 4.4 0 1 0 10.0 0a5.0 4.4 0 1 0 -10.0 0M529.3 1407.4a5.0 4.4 0 1 0 10.0 0a5.0 4.4 0 1 0 -10.0 0M538.5 1412.0a5.0 4.4 0 1 0 10.0 0a5.0 4.4 0 1 0 -10.0 0M520.1 1532.5a5.0 4.4 0 1 0 10.0 0a5.0 4.4 0 1 0 -10.0 0M537.4 1542.7a5.0 4.4 0 1 0 10.0 0a5.0 4.4 0 1 0 -10.0 0M543.1 1542.7a5.0 4.4 0 1 0 10.0 0a5.0 4.4 0 1 0 -10.0 0M525.8 1552.6a5.0 4.4 0 1 0 10.0 0a5.0 4.4 0 1 0 -10.0 0M516.6 1557.6a5.0 4.4 0 1 0 10.0 0a5.0 4.4 0 1 0 -10.0 0M523.5 1557.6a5.0 4.4 0 1 0 10.0 0a5.0 4.4 0 1 0 -10.0 0M540.8 1587.6a5.0 4.4 0 1 0 10.0 0a5.0 4.4 0 1 0 -10.0 0M520.8 1592.4a5.0 4.4 0 1 0 10.0 0a5.0 4.4 0 1 0 -10.0 0M527.0 1602.8a5.0 4.4 0 1 0 10.0 0a5.0 4.4 0 1 0 -10.0 0M532.7 1602.8a5.0 4.4 0 1 0 10.0 0a5.0 4.4 0 1 0 -10.0 0M539.7 1602.8a5.0 4.4 0 1 0 10.0 0a5.0 4.4 0 1 0 -10.0 0M518.9 1607.9a5.0 4.4 0 1 0 10.0 0a5.0 4.4 0 1 0 -10.0 0M516.6 1612.5a5.0 4.4 0 1 0 10.0 0a5.0 4.4 0 1 0 -10.0 0M521.2 1612.5a5.0 4.4 0 1 0 10.0 0a5.0 4.4 0 1 0 -10.0 0M531.6 1612.5a5.0 4.4 0 1 0 10.0 0a5.0 4.4 0 1 0 -10.0 0M537.4 1612.5a5.0 4.4 0 1 0 10.0 0a5.0 4.4 0 1 0 -10.0 0M516.8 1527.5a5.0 4.4 0 1 0 10.0 0a5.0 4.4 0 1 0 -10.0 0M524.7 1522.5a5.0 4.4 0 1 0 10.0 0a5.0 4.4 0 1 0 -10.0 0M533.5 1522.5a5.0 4.4 0 1 0 10.0 0a5.0 4.4 0 1 0 -10.0 0M521.2 1517.5a5.0 4.4 0 1 0 10.0 0a5.0 4.4 0 1 0 -10.0 0M524.4 1517.5a5.0 4.4 0 1 0 10.0 0a5.0 4.4 0 1 0 -10.0 0M521.6 1512.5a5.0 4.4 0 1 0 10.0 0a5.0 4.4 0 1 0 -10.0 0M536.4 1507.5a5.0 4.4 0 1 0 10.0 0a5.0 4.4 0 1 0 -10.0 0M530.3 1507.5a5.0 4.4 0 1 0 10.0 0a5.0 4.4 0 1 0 -10.0 0M518.1 1502.5a5.0 4.4 0 1 0 10.0 0a5.0 4.4 0 1 0 -10.0 0M519.1 1502.5a5.0 4.4 0 1 0 10.0 0a5.0 4.4 0 1 0 -10.0 0M526.4 1502.5a5.0 4.4 0 1 0 10.0 0a5.0 4.4 0 1 0 -10.0 0M530.3 1497.5a5.0 4.4 0 1 0 10.0 0a5.0 4.4 0 1 0 -10.0 0M532.5 1492.5a5.0 4.4 0 1 0 10.0 0a5.0 4.4 0 1 0 -10.0 0M518.8 1492.5a5.0 4.4 0 1 0 10.0 0a5.0 4.4 0 1 0 -10.0 0M520.7 1492.5a5.0 4.4 0 1 0 10.0 0a5.0 4.4 0 1 0 -10.0 0M533.9 1487.5a5.0 4.4 0 1 0 10.0 0a5.0 4.4 0 1 0 -10.0 0M526.8 1487.5a5.0 4.4 0 1 0 10.0 0a5.0 4.4 0 1 0 -10.0 0M523.6 1482.5a5.0 4.4 0 1 0 10.0 0a5.0 4.4 0 1 0 -10.0 0M524.2 1477.5a5.0 4.4 0 1 0 10.0 0a5.0 4.4 0 1 0 -10.0 0M540.4 1477.5a5.0 4.4 0 1 0 10.0 0a5.0 4.4 0 1 0 -10.0 0M524.4 1472.5a5.0 4.4 0 1 0 10.0 0a5.0 4.4 0 1 0 -10.0 0M530.7 1472.5a5.0 4.4 0 1 0 10.0 0a5.0 4.4 0 1 0 -10.0 0M525.5 1467.5a5.0 4.4 0 1 0 10.0 0a5.0 4.4 0 1 0 -10.0 0M527.0 1467.5a5.0 4.4 0 1 0 10.0 0a5.0 4.4 0 1 0 -10.0 0M538.2 1462.5a5.0 4.4 0 1 0 10.0 0a5.0 4.4 0 1 0 -10.0 0M541.5 1462.5a5.0 4.4 0 1 0 10.0 0a5.0 4.4 0 1 0 -10.0 0M525.7 1457.5a5.0 4.4 0 1 0 10.0 0a5.0 4.4 0 1 0 -10.0 0M521.5 1457.5a5.0 4.4 0 1 0 10.0 0a5.0 4.4 0 1 0 -10.0 0M534.8 1452.5a5.0 4.4 0 1 0 10.0 0a5.0 4.4 0 1 0 -10.0 0M521.7 1447.5a5.0 4.4 0 1 0 10.0 0a5.0 4.4 0 1 0 -10.0 0M516.7 1447.5a5.0 4.4 0 1 0 10.0 0a5.0 4.4 0 1 0 -10.0 0M539.1 1442.5a5.0 4.4 0 1 0 10.0 0a5.0 4.4 0 1 0 -10.0 0M527.2 1442.5a5.0 4.4 0 1 0 10.0 0a5.0 4.4 0 1 0 -10.0 0M537.1 1437.5a5.0 4.4 0 1 0 10.0 0a5.0 4.4 0 1 0 -10.0 0M526.7 1432.5a5.0 4.4 0 1 0 10.0 0a5.0 4.4 0 1 0 -10.0 0M538.6 1427.5a5.0 4.4 0 1 0 10.0 0a5.0 4.4 0 1 0 -10.0 0M528.1 1422.5a5.0 4.4 0 1 0 10.0 0a5.0 4.4 0 1 0 -10.0 0M520.6 1422.5a5.0 4.4 0 1 0 10.0 0a5.0 4.4 0 1 0 -10.0 0" fill="none" stroke="#000" stroke-width="1.45"/>
<text transform="translate(535.70,1649.00)" font-size="21.1" text-anchor="middle">DSB</text>
<text transform="translate(538.20,1696.50)" font-size="17.7" text-anchor="middle" fill="#4d4d4d">(n=71)</text>
<line x1="594.84" y1="1335.90" x2="594.84" y2="1439.40" stroke="#111" stroke-width="1.3"/>
<line x1="594.84" y1="1569.90" x2="594.84" y2="1611.40" stroke="#111" stroke-width="1.3"/>
<rect x="571.74" y="1439.40" width="46.20" height="130.50" fill="none" stroke="#111" stroke-width="1.3"/>
<line x1="571.74" y1="1477.40" x2="617.94" y2="1477.40" stroke="#111" stroke-width="1.4300000000000002"/>
<path d="M596.5 1336.7a5.0 4.4 0 1 0 10.0 0a5.0 4.4 0 1 0 -10.0 0M598.8 1336.7a5.0 4.4 0 1 0 10.0 0a5.0 4.4 0 1 0 -10.0 0M598.8 1356.7a5.0 4.4 0 1 0 10.0 0a5.0 4.4 0 1 0 -10.0 0M587.3 1382.1a5.0 4.4 0 1 0 10.0 0a5.0 4.4 0 1 0 -10.0 0M594.6 1387.1a5.0 4.4 0 1 0 10.0 0a5.0 4.4 0 1 0 -10.0 0M599.9 1427.0a5.0 4.4 0 1 0 10.0 0a5.0 4.4 0 1 0 -10.0 0M590.0 1432.3a5.0 4.4 0 1 0 10.0 0a5.0 4.4 0 1 0 -10.0 0M599.5 1436.7a5.0 4.4 0 1 0 10.0 0a5.0 4.4 0 1 0 -10.0 0M581.0 1442.0a5.0 4.4 0 1 0 10.0 0a5.0 4.4 0 1 0 -10.0 0M601.1 1447.1a5.0 4.4 0 1 0 10.0 0a5.0 4.4 0 1 0 -10.0 0M593.0 1452.4a5.0 4.4 0 1 0 10.0 0a5.0 4.4 0 1 0 -10.0 0M586.8 1457.4a5.0 4.4 0 1 0 10.0 0a5.0 4.4 0 1 0 -10.0 0M577.6 1462.3a5.0 4.4 0 1 0 10.0 0a5.0 4.4 0 1 0 -10.0 0M582.6 1472.4a5.0 4.4 0 1 0 10.0 0a5.0 4.4 0 1 0 -10.0 0M598.8 1472.4a5.0 4.4 0 1 0 10.0 0a5.0 4.4 0 1 0 -10.0 0M582.6 1477.2a5.0 4.4 0 1 0 10.0 0a5.0 4.4 0 1 0 -10.0 0M587.9 1477.7a5.0 4.4 0 1 0 10.0 0a5.0 4.4 0 1 0 -10.0 0M582.2 1487.4a5.0 4.4 0 1 0 10.0 0a5.0 4.4 0 1 0 -10.0 0M594.2 1492.7a5.0 4.4 0 1 0 10.0 0a5.0 4.4 0 1 0 -10.0 0M600.6 1502.6a5.0 4.4 0 1 0 10.0 0a5.0 4.4 0 1 0 -10.0 0M591.9 1507.6a5.0 4.4 0 1 0 10.0 0a5.0 4.4 0 1 0 -10.0 0M583.8 1522.6a5.0 4.4 0 1 0 10.0 0a5.0 4.4 0 1 0 -10.0 0M582.0 1532.5a5.0 4.4 0 1 0 10.0 0a5.0 4.4 0 1 0 -10.0 0M592.3 1567.6a5.0 4.4 0 1 0 10.0 0a5.0 4.4 0 1 0 -10.0 0M582.2 1572.6a5.0 4.4 0 1 0 10.0 0a5.0 4.4 0 1 0 -10.0 0M593.0 1572.6a5.0 4.4 0 1 0 10.0 0a5.0 4.4 0 1 0 -10.0 0M587.3 1592.9a5.0 4.4 0 1 0 10.0 0a5.0 4.4 0 1 0 -10.0 0M601.1 1598.0a5.0 4.4 0 1 0 10.0 0a5.0 4.4 0 1 0 -10.0 0M587.3 1602.8a5.0 4.4 0 1 0 10.0 0a5.0 4.4 0 1 0 -10.0 0M582.6 1607.9a5.0 4.4 0 1 0 10.0 0a5.0 4.4 0 1 0 -10.0 0M596.5 1612.5a5.0 4.4 0 1 0 10.0 0a5.0 4.4 0 1 0 -10.0 0M582.6 1612.5a5.0 4.4 0 1 0 10.0 0a5.0 4.4 0 1 0 -10.0 0" fill="none" stroke="#000" stroke-width="1.45"/>
<text transform="translate(596.90,1649.00)" font-size="21.1" text-anchor="middle">TS</text>
<text transform="translate(599.90,1696.50)" font-size="17.7" text-anchor="middle" fill="#4d4d4d">(n=35)</text>
<line x1="655.62" y1="1291.40" x2="655.62" y2="1428.40" stroke="#111" stroke-width="1.3"/>
<line x1="655.62" y1="1525.90" x2="655.62" y2="1611.40" stroke="#111" stroke-width="1.3"/>
<rect x="632.52" y="1428.40" width="46.20" height="97.50" fill="none" stroke="#111" stroke-width="1.3"/>
<line x1="632.52" y1="1477.40" x2="678.72" y2="1477.40" stroke="#111" stroke-width="1.4300000000000002"/>
<path d="M654.8 1291.8a5.0 4.4 0 1 0 10.0 0a5.0 4.4 0 1 0 -10.0 0M639.1 1296.8a5.0 4.4 0 1 0 10.0 0a5.0 4.4 0 1 0 -10.0 0M650.2 1336.7a5.0 4.4 0 1 0 10.0 0a5.0 4.4 0 1 0 -10.0 0M651.1 1336.7a5.0 4.4 0 1 0 10.0 0a5.0 4.4 0 1 0 -10.0 0M639.1 1342.2a5.0 4.4 0 1 0 10.0 0a5.0 4.4 0 1 0 -10.0 0M642.6 1345.2a5.0 4.4 0 1 0 10.0 0a5.0 4.4 0 1 0 -10.0 0M646.7 1351.0a5.0 4.4 0 1 0 10.0 0a5.0 4.4 0 1 0 -10.0 0M638.6 1356.7a5.0 4.4 0 1 0 10.0 0a5.0 4.4 0 1 0 -10.0 0M655.7 1362.0a5.0 4.4 0 1 0 10.0 0a5.0 4.4 0 1 0 -10.0 0M655.9 1376.8a5.0 4.4 0 1 0 10.0 0a5.0 4.4 0 1 0 -10.0 0M661.0 1376.8a5.0 4.4 0 1 0 10.0 0a5.0 4.4 0 1 0 -10.0 0M652.9 1387.1a5.0 4.4 0 1 0 10.0 0a5.0 4.4 0 1 0 -10.0 0M660.3 1387.1a5.0 4.4 0 1 0 10.0 0a5.0 4.4 0 1 0 -10.0 0M638.6 1412.5a5.0 4.4 0 1 0 10.0 0a5.0 4.4 0 1 0 -10.0 0M655.7 1412.5a5.0 4.4 0 1 0 10.0 0a5.0 4.4 0 1 0 -10.0 0M659.8 1422.4a5.0 4.4 0 1 0 10.0 0a5.0 4.4 0 1 0 -10.0 0M652.9 1427.0a5.0 4.4 0 1 0 10.0 0a5.0 4.4 0 1 0 -10.0 0M648.3 1431.6a5.0 4.4 0 1 0 10.0 0a5.0 4.4 0 1 0 -10.0 0M643.7 1433.9a5.0 4.4 0 1 0 10.0 0a5.0 4.4 0 1 0 -10.0 0M642.1 1437.4a5.0 4.4 0 1 0 10.0 0a5.0 4.4 0 1 0 -10.0 0M660.3 1442.0a5.0 4.4 0 1 0 10.0 0a5.0 4.4 0 1 0 -10.0 0M646.0 1442.0a5.0 4.4 0 1 0 10.0 0a5.0 4.4 0 1 0 -10.0 0M638.6 1447.1a5.0 4.4 0 1 0 10.0 0a5.0 4.4 0 1 0 -10.0 0M643.7 1447.1a5.0 4.4 0 1 0 10.0 0a5.0 4.4 0 1 0 -10.0 0M654.5 1452.4a5.0 4.4 0 1 0 10.0 0a5.0 4.4 0 1 0 -10.0 0M640.3 1457.4a5.0 4.4 0 1 0 10.0 0a5.0 4.4 0 1 0 -10.0 0M646.0 1462.3a5.0 4.4 0 1 0 10.0 0a5.0 4.4 0 1 0 -10.0 0M638.6 1462.3a5.0 4.4 0 1 0 10.0 0a5.0 4.4 0 1 0 -10.0 0M655.7 1472.4a5.0 4.4 0 1 0 10.0 0a5.0 4.4 0 1 0 -10.0 0M659.8 1472.4a5.0 4.4 0 1 0 10.0 0a5.0 4.4 0 1 0 -10.0 0M640.3 1477.7a5.0 4.4 0 1 0 10.0 0a5.0 4.4 0 1 0 -10.0 0M654.1 1477.7a5.0 4.4 0 1 0 10.0 0a5.0 4.4 0 1 0 -10.0 0M641.4 1482.3a5.0 4.4 0 1 0 10.0 0a5.0 4.4 0 1 0 -10.0 0M649.5 1485.8a5.0 4.4 0 1 0 10.0 0a5.0 4.4 0 1 0 -10.0 0M659.8 1485.8a5.0 4.4 0 1 0 10.0 0a5.0 4.4 0 1 0 -10.0 0M643.7 1492.7a5.0 4.4 0 1 0 10.0 0a5.0 4.4 0 1 0 -10.0 0M650.6 1492.7a5.0 4.4 0 1 0 10.0 0a5.0 4.4 0 1 0 -10.0 0M661.0 1492.7a5.0 4.4 0 1 0 10.0 0a5.0 4.4 0 1 0 -10.0 0M658.7 1502.6a5.0 4.4 0 1 0 10.0 0a5.0 4.4 0 1 0 -10.0 0M657.5 1507.6a5.0 4.4 0 1 0 10.0 0a5.0 4.4 0 1 0 -10.0 0M662.1 1507.6a5.0 4.4 0 1 0 10.0 0a5.0 4.4 0 1 0 -10.0 0M645.3 1507.6a5.0 4.4 0 1 0 10.0 0a5.0 4.4 0 1 0 -10.0 0M644.4 1517.6a5.0 4.4 0 1 0 10.0 0a5.0 4.4 0 1 0 -10.0 0M646.0 1522.6a5.0 4.4 0 1 0 10.0 0a5.0 4.4 0 1 0 -10.0 0M657.5 1522.6a5.0 4.4 0 1 0 10.0 0a5.0 4.4 0 1 0 -10.0 0M642.6 1532.5a5.0 4.4 0 1 0 10.0 0a5.0 4.4 0 1 0 -10.0 0M655.7 1532.5a5.0 4.4 0 1 0 10.0 0a5.0 4.4 0 1 0 -10.0 0M640.3 1542.7a5.0 4.4 0 1 0 10.0 0a5.0 4.4 0 1 0 -10.0 0M657.5 1547.5a5.0 4.4 0 1 0 10.0 0a5.0 4.4 0 1 0 -10.0 0M644.9 1572.6a5.0 4.4 0 1 0 10.0 0a5.0 4.4 0 1 0 -10.0 0M640.3 1582.5a5.0 4.4 0 1 0 10.0 0a5.0 4.4 0 1 0 -10.0 0M648.3 1587.6a5.0 4.4 0 1 0 10.0 0a5.0 4.4 0 1 0 -10.0 0M650.6 1592.9a5.0 4.4 0 1 0 10.0 0a5.0 4.4 0 1 0 -10.0 0M640.3 1598.0a5.0 4.4 0 1 0 10.0 0a5.0 4.4 0 1 0 -10.0 0M643.7 1598.0a5.0 4.4 0 1 0 10.0 0a5.0 4.4 0 1 0 -10.0 0M637.9 1602.8a5.0 4.4 0 1 0 10.0 0a5.0 4.4 0 1 0 -10.0 0M655.2 1602.8a5.0 4.4 0 1 0 10.0 0a5.0 4.4 0 1 0 -10.0 0M662.1 1607.9a5.0 4.4 0 1 0 10.0 0a5.0 4.4 0 1 0 -10.0 0M642.6 1612.5a5.0 4.4 0 1 0 10.0 0a5.0 4.4 0 1 0 -10.0 0M654.1 1612.5a5.0 4.4 0 1 0 10.0 0a5.0 4.4 0 1 0 -10.0 0M657.5 1612.5a5.0 4.4 0 1 0 10.0 0a5.0 4.4 0 1 0 -10.0 0" fill="none" stroke="#000" stroke-width="1.45"/>
<text transform="translate(658.10,1649.00)" font-size="21.1" text-anchor="middle">ISCR</text>
<text transform="translate(661.60,1696.50)" font-size="17.7" text-anchor="middle" fill="#4d4d4d">(n=70)</text>
<line x1="716.40" y1="1335.90" x2="716.40" y2="1401.90" stroke="#111" stroke-width="1.3"/>
<line x1="716.40" y1="1504.90" x2="716.40" y2="1607.40" stroke="#111" stroke-width="1.3"/>
<rect x="693.30" y="1401.90" width="46.20" height="103.00" fill="none" stroke="#111" stroke-width="1.3"/>
<line x1="693.30" y1="1472.40" x2="739.50" y2="1472.40" stroke="#111" stroke-width="1.4300000000000002"/>
<path d="M703.2 1336.7a5.0 4.4 0 1 0 10.0 0a5.0 4.4 0 1 0 -10.0 0M707.1 1336.7a5.0 4.4 0 1 0 10.0 0a5.0 4.4 0 1 0 -10.0 0M712.1 1372.2a5.0 4.4 0 1 0 10.0 0a5.0 4.4 0 1 0 -10.0 0M701.3 1397.1a5.0 4.4 0 1 0 10.0 0a5.0 4.4 0 1 0 -10.0 0M707.1 1397.1a5.0 4.4 0 1 0 10.0 0a5.0 4.4 0 1 0 -10.0 0M719.3 1407.4a5.0 4.4 0 1 0 10.0 0a5.0 4.4 0 1 0 -10.0 0M703.6 1412.5a5.0 4.4 0 1 0 10.0 0a5.0 4.4 0 1 0 -10.0 0M707.5 1427.5a5.0 4.4 0 1 0 10.0 0a5.0 4.4 0 1 0 -10.0 0M716.3 1467.3a5.0 4.4 0 1 0 10.0 0a5.0 4.4 0 1 0 -10.0 0M707.1 1472.4a5.0 4.4 0 1 0 10.0 0a5.0 4.4 0 1 0 -10.0 0M717.9 1472.4a5.0 4.4 0 1 0 10.0 0a5.0 4.4 0 1 0 -10.0 0M719.1 1492.7a5.0 4.4 0 1 0 10.0 0a5.0 4.4 0 1 0 -10.0 0M715.1 1497.3a5.0 4.4 0 1 0 10.0 0a5.0 4.4 0 1 0 -10.0 0M701.3 1502.6a5.0 4.4 0 1 0 10.0 0a5.0 4.4 0 1 0 -10.0 0M711.7 1507.6a5.0 4.4 0 1 0 10.0 0a5.0 4.4 0 1 0 -10.0 0M711.2 1557.6a5.0 4.4 0 1 0 10.0 0a5.0 4.4 0 1 0 -10.0 0M717.4 1577.5a5.0 4.4 0 1 0 10.0 0a5.0 4.4 0 1 0 -10.0 0M713.5 1598.0a5.0 4.4 0 1 0 10.0 0a5.0 4.4 0 1 0 -10.0 0M704.8 1607.9a5.0 4.4 0 1 0 10.0 0a5.0 4.4 0 1 0 -10.0 0" fill="none" stroke="#000" stroke-width="1.45"/>
<text transform="translate(719.30,1649.00)" font-size="21.1" text-anchor="middle">MMR</text>
<text transform="translate(723.30,1696.50)" font-size="17.7" text-anchor="middle" fill="#4d4d4d">(n=19)</text>
<line x1="777.18" y1="1346.40" x2="777.18" y2="1464.40" stroke="#111" stroke-width="1.3"/>
<line x1="777.18" y1="1572.90" x2="777.18" y2="1602.90" stroke="#111" stroke-width="1.3"/>
<rect x="754.08" y="1464.40" width="46.20" height="108.50" fill="none" stroke="#111" stroke-width="1.3"/>
<line x1="754.08" y1="1472.40" x2="800.28" y2="1472.40" stroke="#111" stroke-width="1.4300000000000002"/>
<path d="M766.3 1346.8a5.0 4.4 0 1 0 10.0 0a5.0 4.4 0 1 0 -10.0 0M771.6 1372.2a5.0 4.4 0 1 0 10.0 0a5.0 4.4 0 1 0 -10.0 0M762.4 1447.1a5.0 4.4 0 1 0 10.0 0a5.0 4.4 0 1 0 -10.0 0M765.8 1462.3a5.0 4.4 0 1 0 10.0 0a5.0 4.4 0 1 0 -10.0 0M771.6 1467.3a5.0 4.4 0 1 0 10.0 0a5.0 4.4 0 1 0 -10.0 0M773.9 1467.3a5.0 4.4 0 1 0 10.0 0a5.0 4.4 0 1 0 -10.0 0M771.6 1472.4a5.0 4.4 0 1 0 10.0 0a5.0 4.4 0 1 0 -10.0 0M772.7 1472.4a5.0 4.4 0 1 0 10.0 0a5.0 4.4 0 1 0 -10.0 0M768.8 1532.5a5.0 4.4 0 1 0 10.0 0a5.0 4.4 0 1 0 -10.0 0M782.0 1562.5a5.0 4.4 0 1 0 10.0 0a5.0 4.4 0 1 0 -10.0 0M770.4 1567.6a5.0 4.4 0 1 0 10.0 0a5.0 4.4 0 1 0 -10.0 0M769.7 1577.5a5.0 4.4 0 1 0 10.0 0a5.0 4.4 0 1 0 -10.0 0M761.7 1598.0a5.0 4.4 0 1 0 10.0 0a5.0 4.4 0 1 0 -10.0 0M759.4 1602.8a5.0 4.4 0 1 0 10.0 0a5.0 4.4 0 1 0 -10.0 0M778.0 1602.8a5.0 4.4 0 1 0 10.0 0a5.0 4.4 0 1 0 -10.0 0" fill="none" stroke="#000" stroke-width="1.45"/>
<text transform="translate(780.50,1649.00)" font-size="21.1" text-anchor="middle">SSBR</text>
<text transform="translate(785.00,1696.50)" font-size="17.7" text-anchor="middle" fill="#4d4d4d">(n=15)</text>
<line x1="837.96" y1="1287.90" x2="837.96" y2="1416.90" stroke="#111" stroke-width="1.3"/>
<line x1="837.96" y1="1522.40" x2="837.96" y2="1597.40" stroke="#111" stroke-width="1.3"/>
<rect x="814.86" y="1416.90" width="46.20" height="105.50" fill="none" stroke="#111" stroke-width="1.3"/>
<line x1="814.86" y1="1462.40" x2="861.06" y2="1462.40" stroke="#111" stroke-width="1.4300000000000002"/>
<path d="M835.6 1286.7a5.0 4.4 0 1 0 10.0 0a5.0 4.4 0 1 0 -10.0 0M823.9 1336.7a5.0 4.4 0 1 0 10.0 0a5.0 4.4 0 1 0 -10.0 0M829.9 1372.2a5.0 4.4 0 1 0 10.0 0a5.0 4.4 0 1 0 -10.0 0M833.8 1407.4a5.0 4.4 0 1 0 10.0 0a5.0 4.4 0 1 0 -10.0 0M829.9 1427.5a5.0 4.4 0 1 0 10.0 0a5.0 4.4 0 1 0 -10.0 0M843.0 1447.1a5.0 4.4 0 1 0 10.0 0a5.0 4.4 0 1 0 -10.0 0M825.7 1457.4a5.0 4.4 0 1 0 10.0 0a5.0 4.4 0 1 0 -10.0 0M830.8 1462.3a5.0 4.4 0 1 0 10.0 0a5.0 4.4 0 1 0 -10.0 0M840.7 1462.3a5.0 4.4 0 1 0 10.0 0a5.0 4.4 0 1 0 -10.0 0M827.4 1467.3a5.0 4.4 0 1 0 10.0 0a5.0 4.4 0 1 0 -10.0 0M835.6 1477.7a5.0 4.4 0 1 0 10.0 0a5.0 4.4 0 1 0 -10.0 0M829.9 1567.6a5.0 4.4 0 1 0 10.0 0a5.0 4.4 0 1 0 -10.0 0M836.1 1577.5a5.0 4.4 0 1 0 10.0 0a5.0 4.4 0 1 0 -10.0 0M823.4 1592.9a5.0 4.4 0 1 0 10.0 0a5.0 4.4 0 1 0 -10.0 0M821.8 1598.0a5.0 4.4 0 1 0 10.0 0a5.0 4.4 0 1 0 -10.0 0" fill="none" stroke="#000" stroke-width="1.45"/>
<text transform="translate(841.70,1649.00)" font-size="21.1" text-anchor="middle">NER</text>
<text transform="translate(846.70,1696.50)" font-size="17.7" text-anchor="middle" fill="#4d4d4d">(n=15)</text>
<text transform="translate(547.00,1249.20)" font-size="21.35" text-anchor="start">Anova, p = 7.1e−10</text>
<text transform="translate(455.50,1725.50)" font-size="28.3" text-anchor="middle" font-weight="bold">DNA repair pathway mutated</text>
<text transform="translate(934.80,36.10)" font-size="50" text-anchor="start" font-weight="bold">c</text>
<text transform="translate(1021.70,62.70)" font-size="28.4" text-anchor="start" font-weight="bold">No DNA repair mutation</text>
<line x1="1019.00" y1="121.70" x2="1019.00" y2="522.00" stroke="#000" stroke-width="1.8"/>
<text transform="translate(1010.60,171.30) scale(1.07,1)" font-size="23.6" text-anchor="end">60</text>
<text transform="translate(1010.60,281.90) scale(1.07,1)" font-size="23.6" text-anchor="end">40</text>
<text transform="translate(1010.60,392.50) scale(1.07,1)" font-size="23.6" text-anchor="end">20</text>
<text transform="translate(1010.60,503.10) scale(1.07,1)" font-size="23.6" text-anchor="end">0</text>
<text transform="translate(940.40,302.30) rotate(-90)" font-size="28.7" text-anchor="middle" font-weight="bold">Genomic instability (HRD)</text>
<path d="M1089.00 137.60V125.50H1327.30V137.60" fill="none" stroke="#000" stroke-width="1.7"/>
<text transform="translate(1214.40,116.00) scale(1.09,1)" font-size="25.2" text-anchor="middle">0.032</text>
<line x1="1088.50" y1="250.40" x2="1088.50" y2="376.40" stroke="#333" stroke-width="1.35"/>
<line x1="1088.50" y1="470.60" x2="1088.50" y2="499.20" stroke="#333" stroke-width="1.35"/>
<rect x="1053.00" y="376.40" width="71.50" height="94.20" fill="#fff" stroke="#333" stroke-width="1.35"/>
<line x1="1053.00" y1="420.90" x2="1124.50" y2="420.90" stroke="#333" stroke-width="1.4850000000000003"/>
<line x1="1207.60" y1="144.90" x2="1207.60" y2="349.00" stroke="#333" stroke-width="1.35"/>
<line x1="1207.60" y1="487.20" x2="1207.60" y2="499.20" stroke="#333" stroke-width="1.35"/>
<rect x="1172.20" y="349.00" width="71.40" height="138.20" fill="#c5c1e1" stroke="#333" stroke-width="1.35"/>
<line x1="1172.20" y1="412.60" x2="1243.60" y2="412.60" stroke="#333" stroke-width="1.4850000000000003"/>
<line x1="1327.00" y1="211.70" x2="1327.00" y2="340.70" stroke="#333" stroke-width="1.35"/>
<line x1="1327.00" y1="429.40" x2="1327.00" y2="497.80" stroke="#333" stroke-width="1.35"/>
<rect x="1291.30" y="340.70" width="71.60" height="88.70" fill="#6a4fd3" stroke="#333" stroke-width="1.35"/>
<line x1="1291.30" y1="382.20" x2="1362.90" y2="382.20" stroke="#333" stroke-width="1.4850000000000003"/>
<path d="M1102.3 167.5a3.5 3.5 0 1 0 7.0 0a3.5 3.5 0 1 0 -7.0 0M1089.2 211.7a3.5 3.5 0 1 0 7.0 0a3.5 3.5 0 1 0 -7.0 0M1063.8 250.4a3.5 3.5 0 1 0 7.0 0a3.5 3.5 0 1 0 -7.0 0M1092.6 278.0a3.5 3.5 0 1 0 7.0 0a3.5 3.5 0 1 0 -7.0 0M1085.9 311.0a3.5 3.5 0 1 0 7.0 0a3.5 3.5 0 1 0 -7.0 0M1088.5 317.0a3.5 3.5 0 1 0 7.0 0a3.5 3.5 0 1 0 -7.0 0M1087.1 322.5a3.5 3.5 0 1 0 7.0 0a3.5 3.5 0 1 0 -7.0 0M1066.8 322.5a3.5 3.5 0 1 0 7.0 0a3.5 3.5 0 1 0 -7.0 0M1072.8 322.5a3.5 3.5 0 1 0 7.0 0a3.5 3.5 0 1 0 -7.0 0M1074.2 338.6a3.5 3.5 0 1 0 7.0 0a3.5 3.5 0 1 0 -7.0 0M1088.2 338.6a3.5 3.5 0 1 0 7.0 0a3.5 3.5 0 1 0 -7.0 0M1119.1 338.6a3.5 3.5 0 1 0 7.0 0a3.5 3.5 0 1 0 -7.0 0M1112.2 344.2a3.5 3.5 0 1 0 7.0 0a3.5 3.5 0 1 0 -7.0 0M1071.4 355.5a3.5 3.5 0 1 0 7.0 0a3.5 3.5 0 1 0 -7.0 0M1090.5 361.0a3.5 3.5 0 1 0 7.0 0a3.5 3.5 0 1 0 -7.0 0M1115.4 361.0a3.5 3.5 0 1 0 7.0 0a3.5 3.5 0 1 0 -7.0 0M1071.0 366.5a3.5 3.5 0 1 0 7.0 0a3.5 3.5 0 1 0 -7.0 0M1079.3 372.0a3.5 3.5 0 1 0 7.0 0a3.5 3.5 0 1 0 -7.0 0M1057.1 377.3a3.5 3.5 0 1 0 7.0 0a3.5 3.5 0 1 0 -7.0 0M1087.1 377.3a3.5 3.5 0 1 0 7.0 0a3.5 3.5 0 1 0 -7.0 0M1113.6 377.3a3.5 3.5 0 1 0 7.0 0a3.5 3.5 0 1 0 -7.0 0M1064.1 382.6a3.5 3.5 0 1 0 7.0 0a3.5 3.5 0 1 0 -7.0 0M1076.7 382.6a3.5 3.5 0 1 0 7.0 0a3.5 3.5 0 1 0 -7.0 0M1076.0 388.4a3.5 3.5 0 1 0 7.0 0a3.5 3.5 0 1 0 -7.0 0M1052.3 394.2a3.5 3.5 0 1 0 7.0 0a3.5 3.5 0 1 0 -7.0 0M1053.7 394.2a3.5 3.5 0 1 0 7.0 0a3.5 3.5 0 1 0 -7.0 0M1088.0 394.2a3.5 3.5 0 1 0 7.0 0a3.5 3.5 0 1 0 -7.0 0M1064.1 399.5a3.5 3.5 0 1 0 7.0 0a3.5 3.5 0 1 0 -7.0 0M1076.7 399.7a3.5 3.5 0 1 0 7.0 0a3.5 3.5 0 1 0 -7.0 0M1080.0 399.7a3.5 3.5 0 1 0 7.0 0a3.5 3.5 0 1 0 -7.0 0M1058.1 405.2a3.5 3.5 0 1 0 7.0 0a3.5 3.5 0 1 0 -7.0 0M1063.4 405.2a3.5 3.5 0 1 0 7.0 0a3.5 3.5 0 1 0 -7.0 0M1108.7 405.2a3.5 3.5 0 1 0 7.0 0a3.5 3.5 0 1 0 -7.0 0M1120.7 405.2a3.5 3.5 0 1 0 7.0 0a3.5 3.5 0 1 0 -7.0 0M1054.4 410.7a3.5 3.5 0 1 0 7.0 0a3.5 3.5 0 1 0 -7.0 0M1057.6 410.7a3.5 3.5 0 1 0 7.0 0a3.5 3.5 0 1 0 -7.0 0M1085.9 410.7a3.5 3.5 0 1 0 7.0 0a3.5 3.5 0 1 0 -7.0 0M1076.7 416.3a3.5 3.5 0 1 0 7.0 0a3.5 3.5 0 1 0 -7.0 0M1096.8 416.3a3.5 3.5 0 1 0 7.0 0a3.5 3.5 0 1 0 -7.0 0M1057.6 421.8a3.5 3.5 0 1 0 7.0 0a3.5 3.5 0 1 0 -7.0 0M1080.6 421.8a3.5 3.5 0 1 0 7.0 0a3.5 3.5 0 1 0 -7.0 0M1051.2 432.9a3.5 3.5 0 1 0 7.0 0a3.5 3.5 0 1 0 -7.0 0M1103.9 432.9a3.5 3.5 0 1 0 7.0 0a3.5 3.5 0 1 0 -7.0 0M1058.8 438.4a3.5 3.5 0 1 0 7.0 0a3.5 3.5 0 1 0 -7.0 0M1082.3 438.4a3.5 3.5 0 1 0 7.0 0a3.5 3.5 0 1 0 -7.0 0M1089.2 438.4a3.5 3.5 0 1 0 7.0 0a3.5 3.5 0 1 0 -7.0 0M1089.9 444.2a3.5 3.5 0 1 0 7.0 0a3.5 3.5 0 1 0 -7.0 0M1078.3 449.5a3.5 3.5 0 1 0 7.0 0a3.5 3.5 0 1 0 -7.0 0M1082.5 449.5a3.5 3.5 0 1 0 7.0 0a3.5 3.5 0 1 0 -7.0 0M1112.2 449.5a3.5 3.5 0 1 0 7.0 0a3.5 3.5 0 1 0 -7.0 0M1113.6 449.5a3.5 3.5 0 1 0 7.0 0a3.5 3.5 0 1 0 -7.0 0M1083.4 455.0a3.5 3.5 0 1 0 7.0 0a3.5 3.5 0 1 0 -7.0 0M1074.2 460.5a3.5 3.5 0 1 0 7.0 0a3.5 3.5 0 1 0 -7.0 0M1079.0 460.5a3.5 3.5 0 1 0 7.0 0a3.5 3.5 0 1 0 -7.0 0M1109.4 460.5a3.5 3.5 0 1 0 7.0 0a3.5 3.5 0 1 0 -7.0 0M1056.5 466.0a3.5 3.5 0 1 0 7.0 0a3.5 3.5 0 1 0 -7.0 0M1061.5 466.0a3.5 3.5 0 1 0 7.0 0a3.5 3.5 0 1 0 -7.0 0M1074.9 466.0a3.5 3.5 0 1 0 7.0 0a3.5 3.5 0 1 0 -7.0 0M1074.2 471.6a3.5 3.5 0 1 0 7.0 0a3.5 3.5 0 1 0 -7.0 0M1089.2 471.6a3.5 3.5 0 1 0 7.0 0a3.5 3.5 0 1 0 -7.0 0M1106.7 471.6a3.5 3.5 0 1 0 7.0 0a3.5 3.5 0 1 0 -7.0 0M1070.3 477.1a3.5 3.5 0 1 0 7.0 0a3.5 3.5 0 1 0 -7.0 0M1058.8 482.9a3.5 3.5 0 1 0 7.0 0a3.5 3.5 0 1 0 -7.0 0M1071.7 482.9a3.5 3.5 0 1 0 7.0 0a3.5 3.5 0 1 0 -7.0 0M1080.2 482.9a3.5 3.5 0 1 0 7.0 0a3.5 3.5 0 1 0 -7.0 0M1053.7 488.2a3.5 3.5 0 1 0 7.0 0a3.5 3.5 0 1 0 -7.0 0M1094.0 488.2a3.5 3.5 0 1 0 7.0 0a3.5 3.5 0 1 0 -7.0 0M1063.4 493.7a3.5 3.5 0 1 0 7.0 0a3.5 3.5 0 1 0 -7.0 0M1069.1 493.7a3.5 3.5 0 1 0 7.0 0a3.5 3.5 0 1 0 -7.0 0M1061.1 499.2a3.5 3.5 0 1 0 7.0 0a3.5 3.5 0 1 0 -7.0 0M1069.1 499.2a3.5 3.5 0 1 0 7.0 0a3.5 3.5 0 1 0 -7.0 0M1074.9 499.2a3.5 3.5 0 1 0 7.0 0a3.5 3.5 0 1 0 -7.0 0M1081.1 499.2a3.5 3.5 0 1 0 7.0 0a3.5 3.5 0 1 0 -7.0 0M1085.2 499.2a3.5 3.5 0 1 0 7.0 0a3.5 3.5 0 1 0 -7.0 0M1093.3 499.2a3.5 3.5 0 1 0 7.0 0a3.5 3.5 0 1 0 -7.0 0M1096.3 499.2a3.5 3.5 0 1 0 7.0 0a3.5 3.5 0 1 0 -7.0 0M1104.4 499.2a3.5 3.5 0 1 0 7.0 0a3.5 3.5 0 1 0 -7.0 0" fill="none" stroke="#000" stroke-width="1.55"/>
<path d="M1206.2 144.9a3.5 3.5 0 1 0 7.0 0a3.5 3.5 0 1 0 -7.0 0M1182.7 150.6a3.5 3.5 0 1 0 7.0 0a3.5 3.5 0 1 0 -7.0 0M1173.9 189.3a3.5 3.5 0 1 0 7.0 0a3.5 3.5 0 1 0 -7.0 0M1223.9 194.9a3.5 3.5 0 1 0 7.0 0a3.5 3.5 0 1 0 -7.0 0M1207.8 228.1a3.5 3.5 0 1 0 7.0 0a3.5 3.5 0 1 0 -7.0 0M1216.8 239.3a3.5 3.5 0 1 0 7.0 0a3.5 3.5 0 1 0 -7.0 0M1205.3 244.9a3.5 3.5 0 1 0 7.0 0a3.5 3.5 0 1 0 -7.0 0M1206.2 278.0a3.5 3.5 0 1 0 7.0 0a3.5 3.5 0 1 0 -7.0 0M1226.7 278.0a3.5 3.5 0 1 0 7.0 0a3.5 3.5 0 1 0 -7.0 0M1205.1 289.1a3.5 3.5 0 1 0 7.0 0a3.5 3.5 0 1 0 -7.0 0M1222.8 294.6a3.5 3.5 0 1 0 7.0 0a3.5 3.5 0 1 0 -7.0 0M1194.0 300.2a3.5 3.5 0 1 0 7.0 0a3.5 3.5 0 1 0 -7.0 0M1207.4 300.2a3.5 3.5 0 1 0 7.0 0a3.5 3.5 0 1 0 -7.0 0M1180.9 305.5a3.5 3.5 0 1 0 7.0 0a3.5 3.5 0 1 0 -7.0 0M1226.0 305.5a3.5 3.5 0 1 0 7.0 0a3.5 3.5 0 1 0 -7.0 0M1232.2 305.5a3.5 3.5 0 1 0 7.0 0a3.5 3.5 0 1 0 -7.0 0M1225.3 311.2a3.5 3.5 0 1 0 7.0 0a3.5 3.5 0 1 0 -7.0 0M1220.0 317.0a3.5 3.5 0 1 0 7.0 0a3.5 3.5 0 1 0 -7.0 0M1222.3 317.0a3.5 3.5 0 1 0 7.0 0a3.5 3.5 0 1 0 -7.0 0M1228.1 317.0a3.5 3.5 0 1 0 7.0 0a3.5 3.5 0 1 0 -7.0 0M1203.4 327.8a3.5 3.5 0 1 0 7.0 0a3.5 3.5 0 1 0 -7.0 0M1176.7 333.3a3.5 3.5 0 1 0 7.0 0a3.5 3.5 0 1 0 -7.0 0M1194.7 333.3a3.5 3.5 0 1 0 7.0 0a3.5 3.5 0 1 0 -7.0 0M1198.1 333.3a3.5 3.5 0 1 0 7.0 0a3.5 3.5 0 1 0 -7.0 0M1210.1 333.3a3.5 3.5 0 1 0 7.0 0a3.5 3.5 0 1 0 -7.0 0M1218.4 344.2a3.5 3.5 0 1 0 7.0 0a3.5 3.5 0 1 0 -7.0 0M1187.3 349.7a3.5 3.5 0 1 0 7.0 0a3.5 3.5 0 1 0 -7.0 0M1216.6 349.7a3.5 3.5 0 1 0 7.0 0a3.5 3.5 0 1 0 -7.0 0M1225.1 349.7a3.5 3.5 0 1 0 7.0 0a3.5 3.5 0 1 0 -7.0 0M1217.3 361.0a3.5 3.5 0 1 0 7.0 0a3.5 3.5 0 1 0 -7.0 0M1224.6 361.0a3.5 3.5 0 1 0 7.0 0a3.5 3.5 0 1 0 -7.0 0M1233.2 361.0a3.5 3.5 0 1 0 7.0 0a3.5 3.5 0 1 0 -7.0 0M1225.1 366.5a3.5 3.5 0 1 0 7.0 0a3.5 3.5 0 1 0 -7.0 0M1233.2 366.5a3.5 3.5 0 1 0 7.0 0a3.5 3.5 0 1 0 -7.0 0M1169.3 372.0a3.5 3.5 0 1 0 7.0 0a3.5 3.5 0 1 0 -7.0 0M1210.8 377.3a3.5 3.5 0 1 0 7.0 0a3.5 3.5 0 1 0 -7.0 0M1225.1 377.3a3.5 3.5 0 1 0 7.0 0a3.5 3.5 0 1 0 -7.0 0M1209.0 382.6a3.5 3.5 0 1 0 7.0 0a3.5 3.5 0 1 0 -7.0 0M1217.7 382.6a3.5 3.5 0 1 0 7.0 0a3.5 3.5 0 1 0 -7.0 0M1168.6 388.4a3.5 3.5 0 1 0 7.0 0a3.5 3.5 0 1 0 -7.0 0M1172.1 388.4a3.5 3.5 0 1 0 7.0 0a3.5 3.5 0 1 0 -7.0 0M1197.0 388.4a3.5 3.5 0 1 0 7.0 0a3.5 3.5 0 1 0 -7.0 0M1200.4 388.4a3.5 3.5 0 1 0 7.0 0a3.5 3.5 0 1 0 -7.0 0M1192.4 394.2a3.5 3.5 0 1 0 7.0 0a3.5 3.5 0 1 0 -7.0 0M1227.4 394.2a3.5 3.5 0 1 0 7.0 0a3.5 3.5 0 1 0 -7.0 0M1240.1 394.2a3.5 3.5 0 1 0 7.0 0a3.5 3.5 0 1 0 -7.0 0M1179.2 399.7a3.5 3.5 0 1 0 7.0 0a3.5 3.5 0 1 0 -7.0 0M1180.9 399.7a3.5 3.5 0 1 0 7.0 0a3.5 3.5 0 1 0 -7.0 0M1216.6 399.7a3.5 3.5 0 1 0 7.0 0a3.5 3.5 0 1 0 -7.0 0M1231.5 399.7a3.5 3.5 0 1 0 7.0 0a3.5 3.5 0 1 0 -7.0 0M1212.0 405.2a3.5 3.5 0 1 0 7.0 0a3.5 3.5 0 1 0 -7.0 0M1195.4 410.7a3.5 3.5 0 1 0 7.0 0a3.5 3.5 0 1 0 -7.0 0M1226.5 410.7a3.5 3.5 0 1 0 7.0 0a3.5 3.5 0 1 0 -7.0 0M1168.9 416.3a3.5 3.5 0 1 0 7.0 0a3.5 3.5 0 1 0 -7.0 0M1198.8 416.3a3.5 3.5 0 1 0 7.0 0a3.5 3.5 0 1 0 -7.0 0M1215.4 416.3a3.5 3.5 0 1 0 7.0 0a3.5 3.5 0 1 0 -7.0 0M1238.5 416.3a3.5 3.5 0 1 0 7.0 0a3.5 3.5 0 1 0 -7.0 0M1179.7 421.8a3.5 3.5 0 1 0 7.0 0a3.5 3.5 0 1 0 -7.0 0M1214.7 421.8a3.5 3.5 0 1 0 7.0 0a3.5 3.5 0 1 0 -7.0 0M1178.6 427.3a3.5 3.5 0 1 0 7.0 0a3.5 3.5 0 1 0 -7.0 0M1186.6 427.3a3.5 3.5 0 1 0 7.0 0a3.5 3.5 0 1 0 -7.0 0M1214.3 427.3a3.5 3.5 0 1 0 7.0 0a3.5 3.5 0 1 0 -7.0 0M1220.7 432.9a3.5 3.5 0 1 0 7.0 0a3.5 3.5 0 1 0 -7.0 0M1199.8 438.4a3.5 3.5 0 1 0 7.0 0a3.5 3.5 0 1 0 -7.0 0M1206.9 438.4a3.5 3.5 0 1 0 7.0 0a3.5 3.5 0 1 0 -7.0 0M1209.7 438.4a3.5 3.5 0 1 0 7.0 0a3.5 3.5 0 1 0 -7.0 0M1217.7 438.4a3.5 3.5 0 1 0 7.0 0a3.5 3.5 0 1 0 -7.0 0M1241.2 438.4a3.5 3.5 0 1 0 7.0 0a3.5 3.5 0 1 0 -7.0 0M1219.1 449.5a3.5 3.5 0 1 0 7.0 0a3.5 3.5 0 1 0 -7.0 0M1238.5 449.5a3.5 3.5 0 1 0 7.0 0a3.5 3.5 0 1 0 -7.0 0M1210.1 455.0a3.5 3.5 0 1 0 7.0 0a3.5 3.5 0 1 0 -7.0 0M1230.9 471.6a3.5 3.5 0 1 0 7.0 0a3.5 3.5 0 1 0 -7.0 0M1215.9 477.1a3.5 3.5 0 1 0 7.0 0a3.5 3.5 0 1 0 -7.0 0M1170.5 482.9a3.5 3.5 0 1 0 7.0 0a3.5 3.5 0 1 0 -7.0 0M1171.6 488.2a3.5 3.5 0 1 0 7.0 0a3.5 3.5 0 1 0 -7.0 0M1208.5 488.2a3.5 3.5 0 1 0 7.0 0a3.5 3.5 0 1 0 -7.0 0M1221.9 488.2a3.5 3.5 0 1 0 7.0 0a3.5 3.5 0 1 0 -7.0 0M1226.9 488.2a3.5 3.5 0 1 0 7.0 0a3.5 3.5 0 1 0 -7.0 0M1189.6 493.7a3.5 3.5 0 1 0 7.0 0a3.5 3.5 0 1 0 -7.0 0M1200.9 493.7a3.5 3.5 0 1 0 7.0 0a3.5 3.5 0 1 0 -7.0 0M1206.9 493.7a3.5 3.5 0 1 0 7.0 0a3.5 3.5 0 1 0 -7.0 0M1215.9 493.7a3.5 3.5 0 1 0 7.0 0a3.5 3.5 0 1 0 -7.0 0M1230.4 493.7a3.5 3.5 0 1 0 7.0 0a3.5 3.5 0 1 0 -7.0 0M1236.6 493.7a3.5 3.5 0 1 0 7.0 0a3.5 3.5 0 1 0 -7.0 0M1240.1 493.7a3.5 3.5 0 1 0 7.0 0a3.5 3.5 0 1 0 -7.0 0M1169.8 499.2a3.5 3.5 0 1 0 7.0 0a3.5 3.5 0 1 0 -7.0 0M1182.0 499.2a3.5 3.5 0 1 0 7.0 0a3.5 3.5 0 1 0 -7.0 0M1185.5 499.2a3.5 3.5 0 1 0 7.0 0a3.5 3.5 0 1 0 -7.0 0M1202.7 499.2a3.5 3.5 0 1 0 7.0 0a3.5 3.5 0 1 0 -7.0 0M1207.4 499.2a3.5 3.5 0 1 0 7.0 0a3.5 3.5 0 1 0 -7.0 0M1210.8 499.2a3.5 3.5 0 1 0 7.0 0a3.5 3.5 0 1 0 -7.0 0M1214.3 499.2a3.5 3.5 0 1 0 7.0 0a3.5 3.5 0 1 0 -7.0 0M1224.6 499.2a3.5 3.5 0 1 0 7.0 0a3.5 3.5 0 1 0 -7.0 0M1226.5 499.2a3.5 3.5 0 1 0 7.0 0a3.5 3.5 0 1 0 -7.0 0M1232.2 499.2a3.5 3.5 0 1 0 7.0 0a3.5 3.5 0 1 0 -7.0 0M1238.0 499.2a3.5 3.5 0 1 0 7.0 0a3.5 3.5 0 1 0 -7.0 0M1239.6 499.2a3.5 3.5 0 1 0 7.0 0a3.5 3.5 0 1 0 -7.0 0" fill="none" stroke="#000" stroke-width="1.55"/>
<path d="M1316.8 211.7a3.5 3.5 0 1 0 7.0 0a3.5 3.5 0 1 0 -7.0 0M1305.3 222.8a3.5 3.5 0 1 0 7.0 0a3.5 3.5 0 1 0 -7.0 0M1308.0 300.2a3.5 3.5 0 1 0 7.0 0a3.5 3.5 0 1 0 -7.0 0M1358.3 300.2a3.5 3.5 0 1 0 7.0 0a3.5 3.5 0 1 0 -7.0 0M1348.4 338.6a3.5 3.5 0 1 0 7.0 0a3.5 3.5 0 1 0 -7.0 0M1319.6 344.2a3.5 3.5 0 1 0 7.0 0a3.5 3.5 0 1 0 -7.0 0M1292.6 355.5a3.5 3.5 0 1 0 7.0 0a3.5 3.5 0 1 0 -7.0 0M1298.4 355.5a3.5 3.5 0 1 0 7.0 0a3.5 3.5 0 1 0 -7.0 0M1325.8 377.3a3.5 3.5 0 1 0 7.0 0a3.5 3.5 0 1 0 -7.0 0M1338.7 382.6a3.5 3.5 0 1 0 7.0 0a3.5 3.5 0 1 0 -7.0 0M1292.1 388.4a3.5 3.5 0 1 0 7.0 0a3.5 3.5 0 1 0 -7.0 0M1316.3 394.2a3.5 3.5 0 1 0 7.0 0a3.5 3.5 0 1 0 -7.0 0M1293.8 399.7a3.5 3.5 0 1 0 7.0 0a3.5 3.5 0 1 0 -7.0 0M1344.7 405.2a3.5 3.5 0 1 0 7.0 0a3.5 3.5 0 1 0 -7.0 0M1325.5 455.0a3.5 3.5 0 1 0 7.0 0a3.5 3.5 0 1 0 -7.0 0M1302.3 471.6a3.5 3.5 0 1 0 7.0 0a3.5 3.5 0 1 0 -7.0 0M1346.7 471.6a3.5 3.5 0 1 0 7.0 0a3.5 3.5 0 1 0 -7.0 0M1320.7 488.2a3.5 3.5 0 1 0 7.0 0a3.5 3.5 0 1 0 -7.0 0M1358.3 499.2a3.5 3.5 0 1 0 7.0 0a3.5 3.5 0 1 0 -7.0 0" fill="none" stroke="#000" stroke-width="1.55"/>
<text transform="translate(1084.20,545.60)" font-size="24.8" text-anchor="middle">No</text>
<text transform="translate(1087.60,575.40)" font-size="24.8" text-anchor="middle">treatment</text>
<text transform="translate(1087.60,602.90)" font-size="24.9" text-anchor="middle" fill="#4d4d4d">n=83</text>
<text transform="translate(1207.00,545.60)" font-size="24.8" text-anchor="middle">Less than</text>
<text transform="translate(1207.50,575.40)" font-size="24.8" text-anchor="middle">one year</text>
<text transform="translate(1207.50,602.90)" font-size="24.9" text-anchor="middle" fill="#4d4d4d">n=110</text>
<text transform="translate(1327.60,545.60)" font-size="24.8" text-anchor="middle">More than</text>
<text transform="translate(1327.90,575.40)" font-size="24.8" text-anchor="middle">one year</text>
<text transform="translate(1327.90,602.90)" font-size="24.9" text-anchor="middle" fill="#4d4d4d">n=19</text>
<text transform="translate(1219.00,642.40)" font-size="28.7" text-anchor="middle" font-weight="bold">Genotoxic agents before biopsy</text>
<text transform="translate(1518.50,36.00)" font-size="50" text-anchor="start" font-weight="bold">d</text>
<text transform="translate(1628.00,62.70)" font-size="28.3" text-anchor="start" font-weight="bold">Signature SBS31</text>
<text transform="translate(1628.00,101.00)" font-size="27.9" text-anchor="start" font-weight="bold" fill="#1a1a1a">BRCA</text>
<text transform="translate(1720.80,101.00)" font-size="27.9" text-anchor="start" font-weight="bold" fill="#1a1a1a">CHOL</text>
<text transform="translate(1823.40,101.00)" font-size="27.9" text-anchor="start" font-weight="bold" fill="#1a1a1a">LUNG</text>
<text transform="translate(1924.50,101.00)" font-size="27.9" text-anchor="start" font-weight="bold" fill="#1a1a1a">OV</text>
<text transform="translate(2020.40,101.00)" font-size="27.9" text-anchor="start" font-weight="bold" fill="#1a1a1a">SARC</text>
<text transform="translate(1626.00,154.50) scale(1.08,1)" font-size="23.0" text-anchor="end">10,000</text>
<text transform="translate(1626.00,258.20) scale(1.08,1)" font-size="23.0" text-anchor="end">100</text>
<text transform="translate(1626.00,364.70) scale(1.08,1)" font-size="23.0" text-anchor="end">1</text>
<text transform="translate(1626.00,475.60) scale(1.08,1)" font-size="23.0" text-anchor="end">0</text>
<text transform="translate(1549.00,302.50) rotate(-90)" font-size="27.9" text-anchor="middle" font-weight="bold">Exposure</text>
<path d="M1635.4 193.3C1636.7 195.0 1640.6 200.5 1643.2 203.7C1645.8 206.8 1648.5 209.4 1650.9 212.3C1653.4 215.2 1656.0 218.1 1657.9 220.9C1659.7 223.8 1661.0 227.0 1662.2 229.6C1663.4 232.2 1663.4 234.5 1665.1 236.5C1666.8 238.5 1670.9 239.8 1672.5 241.7C1674.2 243.5 1675.3 245.7 1675.1 247.7C1675.0 249.7 1673.7 251.6 1671.7 253.8C1669.7 255.9 1665.6 258.1 1663.0 260.7C1660.5 263.3 1658.4 266.4 1656.1 269.3C1653.8 272.2 1651.7 275.1 1649.2 278.0C1646.8 280.8 1643.3 284.0 1641.4 286.6C1639.6 289.2 1638.9 290.0 1638.0 293.5C1637.1 297.0 1636.6 302.1 1636.3 307.3C1636.0 312.5 1636.4 317.4 1636.3 324.6C1636.1 331.8 1635.5 346.2 1635.4 350.5L1635.4 350.5Z" fill="#d6d6d6" fill-opacity="1.0" stroke="#111" stroke-width="1.6" stroke-linejoin="round"/>
<path d="M1635.4 122.5C1635.8 124.5 1637.0 130.5 1638.0 134.6C1639.0 138.6 1640.8 142.9 1641.4 146.6C1642.1 150.4 1642.1 153.3 1642.0 157.0C1641.8 160.8 1640.1 164.2 1640.6 169.1C1641.1 174.0 1642.7 180.6 1644.9 186.4C1647.1 192.1 1650.7 197.9 1653.5 203.7C1656.4 209.4 1660.3 215.8 1662.2 220.9C1664.1 226.1 1664.3 230.4 1664.8 234.8C1665.2 239.1 1665.9 242.8 1664.8 246.9C1663.6 250.9 1660.7 255.2 1657.9 258.9C1655.0 262.7 1650.9 265.9 1647.5 269.3C1644.0 272.8 1639.1 277.7 1637.1 279.7C1635.1 281.7 1635.7 281.1 1635.4 281.4L1635.4 281.4Z" fill="#1973da" fill-opacity="0.6" stroke="#111" stroke-width="1.6" stroke-linejoin="round"/>
<path d="M1731.6 172.6C1732.6 173.7 1735.6 177.2 1737.6 179.5C1739.7 181.8 1742.6 184.7 1744.0 186.4C1745.5 188.1 1744.8 188.1 1746.3 189.8C1747.8 191.6 1751.5 194.4 1753.2 196.8C1754.9 199.1 1755.3 201.1 1756.3 203.7C1757.3 206.3 1757.7 209.4 1759.2 212.3C1760.7 215.2 1762.8 218.1 1765.3 220.9C1767.7 223.8 1772.2 227.4 1773.9 229.6C1775.7 231.7 1775.9 232.2 1775.7 233.9C1775.5 235.6 1774.9 238.1 1772.7 239.9C1770.6 241.8 1766.4 243.3 1762.7 245.1C1759.0 247.0 1753.4 249.4 1750.3 251.2C1747.1 252.9 1745.7 254.1 1743.7 255.5C1741.7 256.9 1740.2 258.4 1738.2 259.8C1736.1 261.3 1732.7 263.4 1731.6 264.1L1731.6 264.1Z" fill="#d6d6d6" fill-opacity="1.0" stroke="#111" stroke-width="1.6" stroke-linejoin="round"/>
<path d="M1731.6 122.5C1732.2 124.5 1733.6 129.7 1735.1 134.6C1736.5 139.4 1738.9 146.1 1740.2 151.8C1741.6 157.6 1742.5 163.3 1743.3 169.1C1744.2 174.9 1744.2 180.6 1745.1 186.4C1746.0 192.1 1747.6 197.9 1748.9 203.7C1750.1 209.4 1751.9 216.0 1752.7 220.9C1753.5 225.8 1754.2 228.7 1753.7 233.0C1753.2 237.4 1751.7 241.7 1749.7 246.9C1747.8 252.0 1744.3 258.4 1742.0 264.1C1739.7 269.9 1737.5 275.7 1735.9 281.4C1734.3 287.2 1733.2 292.9 1732.5 298.7C1731.7 304.4 1731.7 313.1 1731.6 316.0L1731.6 316.0Z" fill="#1973da" fill-opacity="0.6" stroke="#111" stroke-width="1.6" stroke-linejoin="round"/>
<path d="M1828.2 157.0C1828.8 159.0 1830.4 165.7 1831.7 169.1C1833.0 172.6 1834.4 174.9 1836.0 177.7C1837.6 180.6 1839.6 183.2 1841.2 186.4C1842.7 189.6 1844.5 193.9 1845.5 196.8C1846.5 199.6 1846.5 201.1 1847.2 203.7C1847.9 206.3 1848.6 209.4 1849.8 212.3C1850.9 215.2 1853.0 218.1 1854.1 220.9C1855.3 223.8 1856.3 227.3 1856.7 229.6C1857.1 231.9 1857.1 232.7 1856.4 234.8C1855.6 236.8 1854.5 239.1 1852.4 241.7C1850.3 244.3 1846.1 247.7 1843.7 250.3C1841.4 252.9 1839.7 255.2 1838.6 257.2C1837.5 259.2 1837.8 259.8 1837.2 262.4C1836.6 265.0 1835.9 268.2 1835.1 272.8C1834.3 277.4 1833.3 284.3 1832.5 290.0C1831.7 295.8 1830.9 301.6 1830.3 307.3C1829.6 313.1 1829.1 320.3 1828.7 324.6C1828.4 328.9 1828.3 331.8 1828.2 333.2L1828.2 333.2Z" fill="#d6d6d6" fill-opacity="1.0" stroke="#111" stroke-width="1.6" stroke-linejoin="round"/>
<path d="M1828.2 122.5C1828.7 124.5 1830.2 129.7 1831.3 134.6C1832.5 139.4 1833.7 146.1 1835.1 151.8C1836.6 157.6 1838.4 163.3 1839.9 169.1C1841.5 174.9 1843.6 181.2 1844.6 186.4C1845.6 191.6 1846.1 195.9 1846.0 200.2C1845.9 204.5 1845.0 207.4 1844.1 212.3C1843.2 217.2 1841.6 223.8 1840.6 229.6C1839.7 235.3 1838.9 241.1 1838.2 246.9C1837.5 252.6 1837.4 256.9 1836.5 264.1C1835.6 271.3 1834.1 281.4 1833.0 290.0C1831.9 298.7 1830.7 308.8 1829.9 316.0C1829.2 323.2 1828.8 328.9 1828.5 333.2C1828.3 337.6 1828.3 340.4 1828.2 341.9L1828.2 341.9Z" fill="#1973da" fill-opacity="0.6" stroke="#111" stroke-width="1.6" stroke-linejoin="round"/>
<path d="M1924.1 177.8C1924.4 179.8 1924.8 185.6 1925.8 189.9C1926.8 194.2 1928.4 199.1 1930.1 203.7C1931.9 208.3 1934.5 213.5 1936.2 217.5C1937.9 221.6 1939.2 225.0 1940.5 227.9C1941.8 230.8 1943.1 232.2 1944.0 234.8C1944.8 237.4 1945.4 240.6 1945.7 243.4C1946.0 246.3 1946.3 249.2 1946.0 252.1C1945.8 255.0 1945.3 257.9 1944.5 260.7C1943.7 263.6 1942.2 266.2 1941.4 269.4C1940.6 272.5 1940.0 276.3 1939.7 279.7C1939.3 283.2 1939.5 286.7 1939.3 290.1C1939.2 293.6 1939.1 297.0 1938.8 300.5C1938.5 303.9 1938.2 307.4 1937.6 310.9C1936.9 314.3 1935.9 317.8 1934.8 321.2C1933.8 324.7 1932.5 328.1 1931.4 331.6C1930.2 335.1 1928.9 338.5 1927.9 342.0C1926.9 345.4 1926.1 348.9 1925.5 352.3C1924.9 355.8 1924.7 358.7 1924.4 362.7C1924.2 366.7 1924.2 374.2 1924.1 376.5L1924.1 376.5Z" fill="#d6d6d6" fill-opacity="1.0" stroke="#111" stroke-width="1.6" stroke-linejoin="round"/>
<path d="M1924.1 122.5C1924.3 124.5 1924.8 130.8 1925.5 134.6C1926.2 138.3 1927.1 141.2 1928.4 144.9C1929.8 148.7 1931.9 153.0 1933.6 157.0C1935.3 161.1 1937.3 165.1 1938.8 169.1C1940.3 173.2 1941.6 177.2 1942.8 181.2C1943.9 185.3 1945.1 189.6 1945.7 193.3C1946.3 197.1 1946.4 200.2 1946.2 203.7C1946.1 207.2 1945.4 210.6 1944.8 214.1C1944.3 217.5 1943.8 220.4 1942.8 224.4C1941.8 228.5 1940.3 233.9 1938.8 238.3C1937.3 242.6 1935.1 246.3 1933.6 250.4C1932.1 254.4 1930.8 258.7 1929.8 262.5C1928.9 266.2 1928.5 269.4 1927.9 272.8C1927.3 276.3 1926.7 279.7 1926.2 283.2C1925.6 286.7 1925.0 291.0 1924.6 293.6C1924.3 296.2 1924.2 297.9 1924.1 298.8L1924.1 298.8Z" fill="#1973da" fill-opacity="0.6" stroke="#111" stroke-width="1.6" stroke-linejoin="round"/>
<path d="M2020.0 195.1C2020.6 195.6 2022.2 197.1 2023.5 198.5C2024.8 200.0 2026.0 201.7 2027.8 203.7C2029.5 205.7 2031.4 208.3 2033.8 210.6C2036.3 212.9 2039.6 215.2 2042.5 217.5C2045.3 219.8 2048.9 222.4 2051.1 224.4C2053.3 226.5 2054.4 227.9 2055.4 229.6C2056.4 231.4 2057.0 233.1 2057.2 234.8C2057.3 236.5 2057.2 238.0 2056.3 240.0C2055.4 242.0 2054.1 244.3 2052.0 246.9C2049.8 249.5 2045.9 252.7 2043.3 255.5C2040.7 258.4 2038.3 261.3 2036.4 264.2C2034.5 267.1 2032.8 270.0 2031.8 272.8C2030.7 275.7 2030.5 278.6 2030.0 281.5C2029.5 284.4 2029.4 287.2 2028.6 290.1C2027.8 293.0 2026.3 295.9 2025.2 298.8C2024.1 301.6 2022.8 305.1 2022.1 307.4C2021.4 309.7 2021.1 309.7 2020.9 312.6C2020.6 315.5 2020.5 319.8 2020.5 324.7C2020.5 329.6 2020.6 336.8 2020.9 342.0C2021.1 347.1 2022.1 351.5 2022.1 355.8C2022.1 360.1 2021.2 363.0 2020.9 367.9C2020.5 372.8 2020.1 382.3 2020.0 385.2L2020.0 385.2Z" fill="#d6d6d6" fill-opacity="1.0" stroke="#111" stroke-width="1.6" stroke-linejoin="round"/>
<path d="M2020.0 153.6C2020.6 153.9 2020.6 154.4 2023.5 155.3C2026.3 156.2 2032.7 157.6 2037.3 158.8C2041.9 159.9 2046.8 160.9 2051.1 162.2C2055.4 163.5 2058.3 165.1 2063.2 166.5C2068.1 168.0 2074.2 169.3 2080.5 170.9C2086.8 172.4 2096.5 174.6 2101.2 176.0C2106.0 177.5 2107.6 178.6 2109.0 179.5C2110.4 180.4 2110.0 180.7 2109.5 181.2C2109.1 181.8 2109.8 182.2 2106.4 183.0C2103.0 183.7 2096.3 184.7 2089.1 185.6C2081.9 186.4 2070.4 187.4 2063.2 188.1C2056.0 188.9 2050.8 189.3 2045.9 189.9C2041.0 190.4 2037.3 191.0 2033.8 191.6C2030.4 192.2 2027.5 192.8 2025.2 193.3C2022.9 193.8 2020.9 194.5 2020.0 194.7L2020.0 194.7Z" fill="#1973da" fill-opacity="0.6" stroke="#111" stroke-width="1.6" stroke-linejoin="round"/>
<path d="M2020.0 223.6C2021.2 223.9 2023.7 224.4 2026.9 225.3C2030.1 226.2 2035.7 227.8 2039.0 228.8C2042.3 229.8 2045.4 230.7 2046.8 231.4C2048.2 232.0 2048.0 232.2 2047.3 232.7C2046.6 233.3 2045.3 233.9 2042.5 234.8C2039.6 235.7 2033.7 237.3 2030.4 238.3C2027.1 239.3 2024.3 240.2 2022.6 240.9C2020.9 241.5 2020.4 241.9 2020.0 242.1L2020.0 242.1Z" fill="#1973da" fill-opacity="0.6" stroke="#111" stroke-width="1.6" stroke-linejoin="round"/>
<line x1="1635.50" y1="122.50" x2="1635.50" y2="518.90" stroke="#111" stroke-width="1.7"/>
<line x1="1731.50" y1="122.50" x2="1731.50" y2="518.90" stroke="#111" stroke-width="1.7"/>
<line x1="1827.80" y1="122.50" x2="1827.80" y2="518.90" stroke="#111" stroke-width="1.7"/>
<line x1="1923.80" y1="122.50" x2="1923.80" y2="518.90" stroke="#111" stroke-width="1.7"/>
<line x1="2020.00" y1="122.50" x2="2020.00" y2="518.90" stroke="#111" stroke-width="1.7"/>
<text transform="translate(1613.20,543.80) scale(1.075,1)" font-size="22.9" text-anchor="end">treated</text>
<text transform="translate(1613.20,566.10) scale(1.075,1)" font-size="22.9" text-anchor="end">non-treated</text>
<text transform="translate(1626.00,543.50) scale(1.09,1)" font-size="22.9" text-anchor="start">30</text>
<text transform="translate(1729.00,543.50) scale(1.09,1)" font-size="22.9" text-anchor="start">9</text>
<text transform="translate(1815.50,543.50) scale(1.09,1)" font-size="22.9" text-anchor="start">32</text>
<text transform="translate(1917.00,543.50) scale(1.09,1)" font-size="22.9" text-anchor="start">23</text>
<text transform="translate(2021.00,543.50) scale(1.09,1)" font-size="22.9" text-anchor="start">7</text>
<text transform="translate(1622.50,565.80) scale(1.09,1)" font-size="22.9" text-anchor="start">114</text>
<text transform="translate(1729.00,565.80) scale(1.09,1)" font-size="22.9" text-anchor="start">5</text>
<text transform="translate(1815.50,565.80) scale(1.09,1)" font-size="22.9" text-anchor="start">34</text>
<text transform="translate(1923.00,565.80) scale(1.09,1)" font-size="22.9" text-anchor="start">5</text>
<text transform="translate(2013.50,565.80) scale(1.09,1)" font-size="22.9" text-anchor="start">40</text>
<text transform="translate(1585.70,592.80)" font-size="21.1" text-anchor="start" font-weight="bold">p=0.00054</text>
<text transform="translate(1893.10,592.80)" font-size="21.1" text-anchor="start" font-weight="bold">p=0.0040</text>
<text transform="translate(1988.30,592.80)" font-size="21.1" text-anchor="start" font-weight="bold">p=7.8e-06</text>
<text transform="translate(1559.50,641.80)" font-size="21.3" text-anchor="start" font-weight="bold">Treatment before biopsy:</text>
<rect x="1833.60" y="623.40" width="26.30" height="26.60" fill="#d9d9d9" stroke="#222" stroke-width="1.6"/>
<rect x="1964.40" y="623.40" width="26.60" height="26.60" fill="#5fa4e6" stroke="#222" stroke-width="1.6"/>
<text transform="translate(1866.90,629.80)" font-size="17.6" text-anchor="start" fill="#1a1a1a">No cis- or</text>
<text transform="translate(1866.90,651.00)" font-size="17.6" text-anchor="start" fill="#1a1a1a">carboplatin</text>
<text transform="translate(2000.80,629.80)" font-size="17.6" text-anchor="start" fill="#1a1a1a">Cis- or</text>
<text transform="translate(2000.80,651.00)" font-size="17.6" text-anchor="start" fill="#1a1a1a">carboplatin</text>
<text transform="translate(935.70,715.90)" font-size="50" text-anchor="start" font-weight="bold">e</text>
<text transform="translate(1017.80,694.50)" font-size="28.7" text-anchor="start" font-weight="bold">Signature DBS5</text>
<line x1="1019.80" y1="699.00" x2="1019.80" y2="1101.30" stroke="#000" stroke-width="1.75"/>
<text transform="translate(1015.20,795.20)" font-size="24.3" text-anchor="end">1,000</text>
<text transform="translate(1015.20,917.20)" font-size="24.3" text-anchor="end">10</text>
<text transform="translate(1015.20,1037.00)" font-size="24.3" text-anchor="end">0.1</text>
<text transform="translate(941.00,881.00) rotate(-90)" font-size="27.9" text-anchor="middle" font-weight="bold">Exposure</text>
<path d="M1102.50 793.90V784.90H1205.60V793.90" fill="none" stroke="#000" stroke-width="1.8"/>
<text transform="translate(1158.50,782.00)" font-size="20.7" text-anchor="middle">0.022</text>
<path d="M1102.50 760.40V751.40H1308.90V760.40" fill="none" stroke="#000" stroke-width="1.8"/>
<text transform="translate(1203.20,748.20)" font-size="20.7" text-anchor="middle">1.6e−08</text>
<path d="M1308.90 731.90V722.30H1415.90V731.90" fill="none" stroke="#000" stroke-width="1.8"/>
<text transform="translate(1367.40,721.20)" font-size="20.7" text-anchor="middle">0.88</text>
<line x1="1102.70" y1="866.10" x2="1102.70" y2="915.50" stroke="#2a2a2a" stroke-width="1.35"/>
<line x1="1102.70" y1="975.60" x2="1102.70" y2="1051.90" stroke="#2a2a2a" stroke-width="1.35"/>
<rect x="1066.80" y="915.50" width="71.60" height="60.10" fill="#fff" stroke="#2a2a2a" stroke-width="1.35"/>
<line x1="1066.80" y1="933.70" x2="1138.40" y2="933.70" stroke="#2a2a2a" stroke-width="1.4850000000000003"/>
<line x1="1202.30" y1="872.70" x2="1202.30" y2="895.20" stroke="#2a2a2a" stroke-width="1.35"/>
<line x1="1202.30" y1="932.60" x2="1202.30" y2="987.40" stroke="#2a2a2a" stroke-width="1.35"/>
<rect x="1166.60" y="895.20" width="71.50" height="37.40" fill="#bebebe" stroke="#2a2a2a" stroke-width="1.35"/>
<line x1="1166.60" y1="908.10" x2="1238.10" y2="908.10" stroke="#2a2a2a" stroke-width="1.4850000000000003"/>
<line x1="1309.00" y1="800.20" x2="1309.00" y2="855.20" stroke="#2a2a2a" stroke-width="1.35"/>
<line x1="1309.00" y1="908.10" x2="1309.00" y2="971.60" stroke="#2a2a2a" stroke-width="1.35"/>
<rect x="1273.30" y="855.20" width="71.30" height="52.90" fill="#2b8fdc" stroke="#2a2a2a" stroke-width="1.35"/>
<line x1="1273.30" y1="881.70" x2="1344.60" y2="881.70" stroke="#2a2a2a" stroke-width="1.4850000000000003"/>
<line x1="1376.30" y1="877.20" x2="1448.20" y2="877.20" stroke="#333" stroke-width="1.4"/>
<path d="M1111.8 865.8a3.3 3.3 0 1 0 6.6 0a3.3 3.3 0 1 0 -6.6 0M1065.5 881.1a3.3 3.3 0 1 0 6.6 0a3.3 3.3 0 1 0 -6.6 0M1077.6 881.5a3.3 3.3 0 1 0 6.6 0a3.3 3.3 0 1 0 -6.6 0M1092.7 879.9a3.3 3.3 0 1 0 6.6 0a3.3 3.3 0 1 0 -6.6 0M1113.8 890.3a3.3 3.3 0 1 0 6.6 0a3.3 3.3 0 1 0 -6.6 0M1134.3 891.9a3.3 3.3 0 1 0 6.6 0a3.3 3.3 0 1 0 -6.6 0M1064.7 898.0a3.3 3.3 0 1 0 6.6 0a3.3 3.3 0 1 0 -6.6 0M1075.6 895.4a3.3 3.3 0 1 0 6.6 0a3.3 3.3 0 1 0 -6.6 0M1078.0 895.2a3.3 3.3 0 1 0 6.6 0a3.3 3.3 0 1 0 -6.6 0M1082.6 894.6a3.3 3.3 0 1 0 6.6 0a3.3 3.3 0 1 0 -6.6 0M1088.4 899.4a3.3 3.3 0 1 0 6.6 0a3.3 3.3 0 1 0 -6.6 0M1097.3 900.2a3.3 3.3 0 1 0 6.6 0a3.3 3.3 0 1 0 -6.6 0M1093.3 903.6a3.3 3.3 0 1 0 6.6 0a3.3 3.3 0 1 0 -6.6 0M1102.3 904.8a3.3 3.3 0 1 0 6.6 0a3.3 3.3 0 1 0 -6.6 0M1121.3 898.4a3.3 3.3 0 1 0 6.6 0a3.3 3.3 0 1 0 -6.6 0M1121.1 903.0a3.3 3.3 0 1 0 6.6 0a3.3 3.3 0 1 0 -6.6 0M1097.7 912.1a3.3 3.3 0 1 0 6.6 0a3.3 3.3 0 1 0 -6.6 0M1123.3 912.7a3.3 3.3 0 1 0 6.6 0a3.3 3.3 0 1 0 -6.6 0M1135.6 914.5a3.3 3.3 0 1 0 6.6 0a3.3 3.3 0 1 0 -6.6 0M1074.8 915.9a3.3 3.3 0 1 0 6.6 0a3.3 3.3 0 1 0 -6.6 0M1080.8 916.7a3.3 3.3 0 1 0 6.6 0a3.3 3.3 0 1 0 -6.6 0M1084.0 919.1a3.3 3.3 0 1 0 6.6 0a3.3 3.3 0 1 0 -6.6 0M1102.3 916.7a3.3 3.3 0 1 0 6.6 0a3.3 3.3 0 1 0 -6.6 0M1108.2 915.7a3.3 3.3 0 1 0 6.6 0a3.3 3.3 0 1 0 -6.6 0M1112.8 921.1a3.3 3.3 0 1 0 6.6 0a3.3 3.3 0 1 0 -6.6 0M1119.0 921.1a3.3 3.3 0 1 0 6.6 0a3.3 3.3 0 1 0 -6.6 0M1090.3 923.0a3.3 3.3 0 1 0 6.6 0a3.3 3.3 0 1 0 -6.6 0M1098.9 925.6a3.3 3.3 0 1 0 6.6 0a3.3 3.3 0 1 0 -6.6 0M1083.6 924.6a3.3 3.3 0 1 0 6.6 0a3.3 3.3 0 1 0 -6.6 0M1110.4 927.0a3.3 3.3 0 1 0 6.6 0a3.3 3.3 0 1 0 -6.6 0M1108.8 928.6a3.3 3.3 0 1 0 6.6 0a3.3 3.3 0 1 0 -6.6 0M1134.3 926.0a3.3 3.3 0 1 0 6.6 0a3.3 3.3 0 1 0 -6.6 0M1131.7 930.4a3.3 3.3 0 1 0 6.6 0a3.3 3.3 0 1 0 -6.6 0M1123.5 932.0a3.3 3.3 0 1 0 6.6 0a3.3 3.3 0 1 0 -6.6 0M1078.2 933.6a3.3 3.3 0 1 0 6.6 0a3.3 3.3 0 1 0 -6.6 0M1083.8 932.0a3.3 3.3 0 1 0 6.6 0a3.3 3.3 0 1 0 -6.6 0M1085.4 934.6a3.3 3.3 0 1 0 6.6 0a3.3 3.3 0 1 0 -6.6 0M1087.6 937.6a3.3 3.3 0 1 0 6.6 0a3.3 3.3 0 1 0 -6.6 0M1097.3 933.6a3.3 3.3 0 1 0 6.6 0a3.3 3.3 0 1 0 -6.6 0M1104.4 935.4a3.3 3.3 0 1 0 6.6 0a3.3 3.3 0 1 0 -6.6 0M1117.0 935.0a3.3 3.3 0 1 0 6.6 0a3.3 3.3 0 1 0 -6.6 0M1103.5 943.9a3.3 3.3 0 1 0 6.6 0a3.3 3.3 0 1 0 -6.6 0M1122.9 945.3a3.3 3.3 0 1 0 6.6 0a3.3 3.3 0 1 0 -6.6 0M1124.3 947.5a3.3 3.3 0 1 0 6.6 0a3.3 3.3 0 1 0 -6.6 0M1072.5 948.9a3.3 3.3 0 1 0 6.6 0a3.3 3.3 0 1 0 -6.6 0M1070.5 951.3a3.3 3.3 0 1 0 6.6 0a3.3 3.3 0 1 0 -6.6 0M1092.7 950.9a3.3 3.3 0 1 0 6.6 0a3.3 3.3 0 1 0 -6.6 0M1112.4 950.1a3.3 3.3 0 1 0 6.6 0a3.3 3.3 0 1 0 -6.6 0M1099.5 954.8a3.3 3.3 0 1 0 6.6 0a3.3 3.3 0 1 0 -6.6 0M1111.8 956.0a3.3 3.3 0 1 0 6.6 0a3.3 3.3 0 1 0 -6.6 0M1121.7 954.8a3.3 3.3 0 1 0 6.6 0a3.3 3.3 0 1 0 -6.6 0M1136.4 958.8a3.3 3.3 0 1 0 6.6 0a3.3 3.3 0 1 0 -6.6 0M1091.7 968.3a3.3 3.3 0 1 0 6.6 0a3.3 3.3 0 1 0 -6.6 0M1094.9 973.1a3.3 3.3 0 1 0 6.6 0a3.3 3.3 0 1 0 -6.6 0M1090.1 976.7a3.3 3.3 0 1 0 6.6 0a3.3 3.3 0 1 0 -6.6 0M1131.1 975.1a3.3 3.3 0 1 0 6.6 0a3.3 3.3 0 1 0 -6.6 0M1126.1 982.3a3.3 3.3 0 1 0 6.6 0a3.3 3.3 0 1 0 -6.6 0M1077.6 988.2a3.3 3.3 0 1 0 6.6 0a3.3 3.3 0 1 0 -6.6 0M1114.4 986.6a3.3 3.3 0 1 0 6.6 0a3.3 3.3 0 1 0 -6.6 0M1128.9 989.2a3.3 3.3 0 1 0 6.6 0a3.3 3.3 0 1 0 -6.6 0M1114.8 993.6a3.3 3.3 0 1 0 6.6 0a3.3 3.3 0 1 0 -6.6 0M1122.9 993.6a3.3 3.3 0 1 0 6.6 0a3.3 3.3 0 1 0 -6.6 0M1118.4 998.5a3.3 3.3 0 1 0 6.6 0a3.3 3.3 0 1 0 -6.6 0M1111.2 997.0a3.3 3.3 0 1 0 6.6 0a3.3 3.3 0 1 0 -6.6 0M1107.2 999.1a3.3 3.3 0 1 0 6.6 0a3.3 3.3 0 1 0 -6.6 0M1100.9 1003.9a3.3 3.3 0 1 0 6.6 0a3.3 3.3 0 1 0 -6.6 0M1095.9 1004.5a3.3 3.3 0 1 0 6.6 0a3.3 3.3 0 1 0 -6.6 0M1095.1 1010.5a3.3 3.3 0 1 0 6.6 0a3.3 3.3 0 1 0 -6.6 0M1094.3 1017.6a3.3 3.3 0 1 0 6.6 0a3.3 3.3 0 1 0 -6.6 0M1117.8 1015.2a3.3 3.3 0 1 0 6.6 0a3.3 3.3 0 1 0 -6.6 0M1122.5 1018.6a3.3 3.3 0 1 0 6.6 0a3.3 3.3 0 1 0 -6.6 0M1108.2 1034.9a3.3 3.3 0 1 0 6.6 0a3.3 3.3 0 1 0 -6.6 0M1099.7 1039.9a3.3 3.3 0 1 0 6.6 0a3.3 3.3 0 1 0 -6.6 0M1111.6 1052.6a3.3 3.3 0 1 0 6.6 0a3.3 3.3 0 1 0 -6.6 0M1071.5 1083.6a3.3 3.3 0 1 0 6.6 0a3.3 3.3 0 1 0 -6.6 0" fill="none" stroke="#000" stroke-width="1.65"/>
<path d="M1170.4 872.0a3.3 3.3 0 1 0 6.6 0a3.3 3.3 0 1 0 -6.6 0M1195.6 886.7a3.3 3.3 0 1 0 6.6 0a3.3 3.3 0 1 0 -6.6 0M1208.6 886.5a3.3 3.3 0 1 0 6.6 0a3.3 3.3 0 1 0 -6.6 0M1204.2 894.0a3.3 3.3 0 1 0 6.6 0a3.3 3.3 0 1 0 -6.6 0M1174.6 899.8a3.3 3.3 0 1 0 6.6 0a3.3 3.3 0 1 0 -6.6 0M1210.1 899.8a3.3 3.3 0 1 0 6.6 0a3.3 3.3 0 1 0 -6.6 0M1173.8 906.6a3.3 3.3 0 1 0 6.6 0a3.3 3.3 0 1 0 -6.6 0M1206.0 909.5a3.3 3.3 0 1 0 6.6 0a3.3 3.3 0 1 0 -6.6 0M1184.9 915.1a3.3 3.3 0 1 0 6.6 0a3.3 3.3 0 1 0 -6.6 0M1216.9 913.5a3.3 3.3 0 1 0 6.6 0a3.3 3.3 0 1 0 -6.6 0M1169.0 938.5a3.3 3.3 0 1 0 6.6 0a3.3 3.3 0 1 0 -6.6 0M1199.0 981.7a3.3 3.3 0 1 0 6.6 0a3.3 3.3 0 1 0 -6.6 0M1208.6 978.7a3.3 3.3 0 1 0 6.6 0a3.3 3.3 0 1 0 -6.6 0M1220.3 988.2a3.3 3.3 0 1 0 6.6 0a3.3 3.3 0 1 0 -6.6 0" fill="none" stroke="#000" stroke-width="1.65"/>
<path d="M1282.1 799.5a3.3 3.3 0 1 0 6.6 0a3.3 3.3 0 1 0 -6.6 0M1293.6 817.4a3.3 3.3 0 1 0 6.6 0a3.3 3.3 0 1 0 -6.6 0M1287.2 823.3a3.3 3.3 0 1 0 6.6 0a3.3 3.3 0 1 0 -6.6 0M1282.5 828.3a3.3 3.3 0 1 0 6.6 0a3.3 3.3 0 1 0 -6.6 0M1306.1 829.3a3.3 3.3 0 1 0 6.6 0a3.3 3.3 0 1 0 -6.6 0M1326.6 839.4a3.3 3.3 0 1 0 6.6 0a3.3 3.3 0 1 0 -6.6 0M1332.1 847.7a3.3 3.3 0 1 0 6.6 0a3.3 3.3 0 1 0 -6.6 0M1280.7 847.6a3.3 3.3 0 1 0 6.6 0a3.3 3.3 0 1 0 -6.6 0M1327.6 854.3a3.3 3.3 0 1 0 6.6 0a3.3 3.3 0 1 0 -6.6 0M1322.2 859.5a3.3 3.3 0 1 0 6.6 0a3.3 3.3 0 1 0 -6.6 0M1279.5 872.6a3.3 3.3 0 1 0 6.6 0a3.3 3.3 0 1 0 -6.6 0M1285.0 872.0a3.3 3.3 0 1 0 6.6 0a3.3 3.3 0 1 0 -6.6 0M1289.8 871.2a3.3 3.3 0 1 0 6.6 0a3.3 3.3 0 1 0 -6.6 0M1324.0 874.2a3.3 3.3 0 1 0 6.6 0a3.3 3.3 0 1 0 -6.6 0M1329.0 877.2a3.3 3.3 0 1 0 6.6 0a3.3 3.3 0 1 0 -6.6 0M1315.4 878.7a3.3 3.3 0 1 0 6.6 0a3.3 3.3 0 1 0 -6.6 0M1279.5 881.9a3.3 3.3 0 1 0 6.6 0a3.3 3.3 0 1 0 -6.6 0M1292.8 882.9a3.3 3.3 0 1 0 6.6 0a3.3 3.3 0 1 0 -6.6 0M1286.6 884.7a3.3 3.3 0 1 0 6.6 0a3.3 3.3 0 1 0 -6.6 0M1304.1 882.1a3.3 3.3 0 1 0 6.6 0a3.3 3.3 0 1 0 -6.6 0M1327.0 883.7a3.3 3.3 0 1 0 6.6 0a3.3 3.3 0 1 0 -6.6 0M1281.5 889.1a3.3 3.3 0 1 0 6.6 0a3.3 3.3 0 1 0 -6.6 0M1316.8 888.9a3.3 3.3 0 1 0 6.6 0a3.3 3.3 0 1 0 -6.6 0M1322.8 888.3a3.3 3.3 0 1 0 6.6 0a3.3 3.3 0 1 0 -6.6 0M1324.0 891.3a3.3 3.3 0 1 0 6.6 0a3.3 3.3 0 1 0 -6.6 0M1291.0 913.9a3.3 3.3 0 1 0 6.6 0a3.3 3.3 0 1 0 -6.6 0M1312.5 919.9a3.3 3.3 0 1 0 6.6 0a3.3 3.3 0 1 0 -6.6 0M1292.4 934.6a3.3 3.3 0 1 0 6.6 0a3.3 3.3 0 1 0 -6.6 0M1322.6 935.6a3.3 3.3 0 1 0 6.6 0a3.3 3.3 0 1 0 -6.6 0M1321.8 950.5a3.3 3.3 0 1 0 6.6 0a3.3 3.3 0 1 0 -6.6 0M1300.9 955.2a3.3 3.3 0 1 0 6.6 0a3.3 3.3 0 1 0 -6.6 0M1282.7 961.0a3.3 3.3 0 1 0 6.6 0a3.3 3.3 0 1 0 -6.6 0M1286.0 961.4a3.3 3.3 0 1 0 6.6 0a3.3 3.3 0 1 0 -6.6 0M1285.6 972.1a3.3 3.3 0 1 0 6.6 0a3.3 3.3 0 1 0 -6.6 0" fill="none" stroke="#000" stroke-width="1.65"/>
<path d="M1438.5 877.4a3.0 3.0 0 1 0 6.0 0a3.0 3.0 0 1 0 -6.0 0" fill="none" stroke="#000" stroke-width="1.3"/>
<text transform="translate(1019.80,1117.90)" font-size="21.1" text-anchor="end" font-weight="bold">Platinum:</text>
<text transform="translate(1019.80,1143.30)" font-size="21.1" text-anchor="end" font-weight="bold">HRD:</text>
<text transform="translate(1080.60,1117.30)" font-size="21.1" text-anchor="middle" font-weight="bold">-</text>
<text transform="translate(1080.60,1142.70)" font-size="21.1" text-anchor="middle" font-weight="bold">-</text>
<text transform="translate(1187.00,1117.30)" font-size="21.1" text-anchor="middle" font-weight="bold">-</text>
<text transform="translate(1187.00,1142.70)" font-size="21.1" text-anchor="middle" font-weight="bold">+</text>
<text transform="translate(1290.40,1117.30)" font-size="21.1" text-anchor="middle" font-weight="bold">+</text>
<text transform="translate(1290.40,1142.70)" font-size="21.1" text-anchor="middle" font-weight="bold">-</text>
<text transform="translate(1390.40,1117.30)" font-size="21.1" text-anchor="middle" font-weight="bold">+</text>
<text transform="translate(1390.40,1142.70)" font-size="21.1" text-anchor="middle" font-weight="bold">+</text>
<text transform="translate(1081.90,1163.30)" font-size="17.6" text-anchor="middle" fill="#4d4d4d">(n=80)</text>
<text transform="translate(1191.50,1163.30)" font-size="17.6" text-anchor="middle" fill="#4d4d4d">(n=14)</text>
<text transform="translate(1294.90,1163.30)" font-size="17.6" text-anchor="middle" fill="#4d4d4d">(n=34)</text>
<text transform="translate(1392.80,1163.30)" font-size="17.6" text-anchor="middle" fill="#4d4d4d">(n=1)</text>
<text transform="translate(1525.20,715.00)" font-size="50" text-anchor="start" font-weight="bold">f</text>
<text transform="translate(1633.80,693.60)" font-size="28.4" text-anchor="start" font-weight="bold">Signature ID6</text>
<line x1="1635.70" y1="698.40" x2="1635.70" y2="1101.80" stroke="#000" stroke-width="1.75"/>
<text transform="translate(1630.00,843.30)" font-size="24" text-anchor="end">1,000</text>
<text transform="translate(1630.00,979.80)" font-size="24" text-anchor="end">10</text>
<text transform="translate(1549.00,881.00) rotate(-90)" font-size="27.9" text-anchor="middle" font-weight="bold">Exposure</text>
<path d="M1702.50 811.40V803.00H1810.80V811.40" fill="none" stroke="#000" stroke-width="1.8"/>
<text transform="translate(1761.90,800.20)" font-size="20.7" text-anchor="middle">2.6e−05</text>
<path d="M1702.50 780.30V771.90H1911.30V780.30" fill="none" stroke="#000" stroke-width="1.8"/>
<text transform="translate(1805.40,768.70)" font-size="20.7" text-anchor="middle">0.079</text>
<path d="M1911.30 749.00V740.40H2008.40V749.00" fill="none" stroke="#000" stroke-width="1.8"/>
<text transform="translate(1960.40,737.80)" font-size="20.7" text-anchor="middle">0.014</text>
<path d="M1810.80 724.50V715.50H2008.40V724.50" fill="none" stroke="#000" stroke-width="1.8"/>
<text transform="translate(1906.50,713.80)" font-size="20.7" text-anchor="middle">0.1</text>
<line x1="1703.00" y1="873.20" x2="1703.00" y2="939.30" stroke="#2a2a2a" stroke-width="1.35"/>
<line x1="1703.00" y1="986.10" x2="1703.00" y2="1051.70" stroke="#2a2a2a" stroke-width="1.35"/>
<rect x="1667.50" y="939.30" width="71.40" height="46.80" fill="#fff" stroke="#2a2a2a" stroke-width="1.35"/>
<line x1="1667.50" y1="961.00" x2="1738.90" y2="961.00" stroke="#2a2a2a" stroke-width="1.4850000000000003"/>
<line x1="1810.70" y1="823.60" x2="1810.70" y2="860.10" stroke="#2a2a2a" stroke-width="1.35"/>
<line x1="1810.70" y1="943.00" x2="1810.70" y2="1001.20" stroke="#2a2a2a" stroke-width="1.35"/>
<rect x="1775.10" y="860.10" width="71.60" height="82.90" fill="#bebebe" stroke="#2a2a2a" stroke-width="1.35"/>
<line x1="1775.10" y1="869.90" x2="1846.70" y2="869.90" stroke="#2a2a2a" stroke-width="1.4850000000000003"/>
<line x1="1911.30" y1="849.60" x2="1911.30" y2="904.50" stroke="#2a2a2a" stroke-width="1.35"/>
<line x1="1911.30" y1="980.70" x2="1911.30" y2="1022.30" stroke="#2a2a2a" stroke-width="1.35"/>
<rect x="1875.50" y="904.50" width="71.60" height="76.20" fill="#2b8fdc" stroke="#2a2a2a" stroke-width="1.35"/>
<line x1="1875.50" y1="945.60" x2="1947.10" y2="945.60" stroke="#2a2a2a" stroke-width="1.4850000000000003"/>
<rect x="1972.30" y="852.50" width="72.20" height="6.80" fill="#4f6f88" stroke="#333" stroke-width="1.2"/>
<line x1="1972.30" y1="855.90" x2="2044.50" y2="855.90" stroke="#333" stroke-width="1.3"/>
<path d="M1707.5 828.6a3.3 3.3 0 1 0 6.6 0a3.3 3.3 0 1 0 -6.6 0M1692.8 854.8a3.3 3.3 0 1 0 6.6 0a3.3 3.3 0 1 0 -6.6 0M1687.2 861.8a3.3 3.3 0 1 0 6.6 0a3.3 3.3 0 1 0 -6.6 0M1690.8 861.8a3.3 3.3 0 1 0 6.6 0a3.3 3.3 0 1 0 -6.6 0M1697.2 867.7a3.3 3.3 0 1 0 6.6 0a3.3 3.3 0 1 0 -6.6 0M1710.3 874.5a3.3 3.3 0 1 0 6.6 0a3.3 3.3 0 1 0 -6.6 0M1713.1 872.1a3.3 3.3 0 1 0 6.6 0a3.3 3.3 0 1 0 -6.6 0M1718.6 873.3a3.3 3.3 0 1 0 6.6 0a3.3 3.3 0 1 0 -6.6 0M1714.8 910.5a3.3 3.3 0 1 0 6.6 0a3.3 3.3 0 1 0 -6.6 0M1694.8 912.8a3.3 3.3 0 1 0 6.6 0a3.3 3.3 0 1 0 -6.6 0M1709.3 919.6a3.3 3.3 0 1 0 6.6 0a3.3 3.3 0 1 0 -6.6 0M1719.6 919.6a3.3 3.3 0 1 0 6.6 0a3.3 3.3 0 1 0 -6.6 0M1712.7 923.2a3.3 3.3 0 1 0 6.6 0a3.3 3.3 0 1 0 -6.6 0M1684.4 926.2a3.3 3.3 0 1 0 6.6 0a3.3 3.3 0 1 0 -6.6 0M1719.0 933.1a3.3 3.3 0 1 0 6.6 0a3.3 3.3 0 1 0 -6.6 0M1687.6 932.3a3.3 3.3 0 1 0 6.6 0a3.3 3.3 0 1 0 -6.6 0M1680.9 934.9a3.3 3.3 0 1 0 6.6 0a3.3 3.3 0 1 0 -6.6 0M1705.1 930.9a3.3 3.3 0 1 0 6.6 0a3.3 3.3 0 1 0 -6.6 0M1713.9 936.1a3.3 3.3 0 1 0 6.6 0a3.3 3.3 0 1 0 -6.6 0M1695.2 937.5a3.3 3.3 0 1 0 6.6 0a3.3 3.3 0 1 0 -6.6 0M1699.9 936.7a3.3 3.3 0 1 0 6.6 0a3.3 3.3 0 1 0 -6.6 0M1704.3 937.1a3.3 3.3 0 1 0 6.6 0a3.3 3.3 0 1 0 -6.6 0M1706.3 935.7a3.3 3.3 0 1 0 6.6 0a3.3 3.3 0 1 0 -6.6 0M1682.5 942.3a3.3 3.3 0 1 0 6.6 0a3.3 3.3 0 1 0 -6.6 0M1698.0 941.5a3.3 3.3 0 1 0 6.6 0a3.3 3.3 0 1 0 -6.6 0M1710.7 942.6a3.3 3.3 0 1 0 6.6 0a3.3 3.3 0 1 0 -6.6 0M1716.2 943.0a3.3 3.3 0 1 0 6.6 0a3.3 3.3 0 1 0 -6.6 0M1690.8 946.6a3.3 3.3 0 1 0 6.6 0a3.3 3.3 0 1 0 -6.6 0M1684.4 949.4a3.3 3.3 0 1 0 6.6 0a3.3 3.3 0 1 0 -6.6 0M1711.3 946.0a3.3 3.3 0 1 0 6.6 0a3.3 3.3 0 1 0 -6.6 0M1714.3 947.0a3.3 3.3 0 1 0 6.6 0a3.3 3.3 0 1 0 -6.6 0M1719.8 948.0a3.3 3.3 0 1 0 6.6 0a3.3 3.3 0 1 0 -6.6 0M1679.5 952.6a3.3 3.3 0 1 0 6.6 0a3.3 3.3 0 1 0 -6.6 0M1696.0 953.0a3.3 3.3 0 1 0 6.6 0a3.3 3.3 0 1 0 -6.6 0M1702.3 955.4a3.3 3.3 0 1 0 6.6 0a3.3 3.3 0 1 0 -6.6 0M1708.3 951.0a3.3 3.3 0 1 0 6.6 0a3.3 3.3 0 1 0 -6.6 0M1717.8 951.0a3.3 3.3 0 1 0 6.6 0a3.3 3.3 0 1 0 -6.6 0M1685.4 954.0a3.3 3.3 0 1 0 6.6 0a3.3 3.3 0 1 0 -6.6 0M1682.1 958.9a3.3 3.3 0 1 0 6.6 0a3.3 3.3 0 1 0 -6.6 0M1690.0 960.5a3.3 3.3 0 1 0 6.6 0a3.3 3.3 0 1 0 -6.6 0M1698.4 957.9a3.3 3.3 0 1 0 6.6 0a3.3 3.3 0 1 0 -6.6 0M1706.3 961.9a3.3 3.3 0 1 0 6.6 0a3.3 3.3 0 1 0 -6.6 0M1718.6 964.5a3.3 3.3 0 1 0 6.6 0a3.3 3.3 0 1 0 -6.6 0M1680.9 963.3a3.3 3.3 0 1 0 6.6 0a3.3 3.3 0 1 0 -6.6 0M1687.4 964.9a3.3 3.3 0 1 0 6.6 0a3.3 3.3 0 1 0 -6.6 0M1692.4 964.5a3.3 3.3 0 1 0 6.6 0a3.3 3.3 0 1 0 -6.6 0M1680.5 968.5a3.3 3.3 0 1 0 6.6 0a3.3 3.3 0 1 0 -6.6 0M1705.3 967.3a3.3 3.3 0 1 0 6.6 0a3.3 3.3 0 1 0 -6.6 0M1712.3 969.3a3.3 3.3 0 1 0 6.6 0a3.3 3.3 0 1 0 -6.6 0M1715.2 967.9a3.3 3.3 0 1 0 6.6 0a3.3 3.3 0 1 0 -6.6 0M1690.4 973.2a3.3 3.3 0 1 0 6.6 0a3.3 3.3 0 1 0 -6.6 0M1693.4 976.8a3.3 3.3 0 1 0 6.6 0a3.3 3.3 0 1 0 -6.6 0M1703.7 974.4a3.3 3.3 0 1 0 6.6 0a3.3 3.3 0 1 0 -6.6 0M1686.0 980.4a3.3 3.3 0 1 0 6.6 0a3.3 3.3 0 1 0 -6.6 0M1694.4 978.8a3.3 3.3 0 1 0 6.6 0a3.3 3.3 0 1 0 -6.6 0M1699.9 981.8a3.3 3.3 0 1 0 6.6 0a3.3 3.3 0 1 0 -6.6 0M1704.7 981.8a3.3 3.3 0 1 0 6.6 0a3.3 3.3 0 1 0 -6.6 0M1690.0 986.8a3.3 3.3 0 1 0 6.6 0a3.3 3.3 0 1 0 -6.6 0M1695.6 986.4a3.3 3.3 0 1 0 6.6 0a3.3 3.3 0 1 0 -6.6 0M1698.8 987.2a3.3 3.3 0 1 0 6.6 0a3.3 3.3 0 1 0 -6.6 0M1703.3 985.8a3.3 3.3 0 1 0 6.6 0a3.3 3.3 0 1 0 -6.6 0M1686.4 992.3a3.3 3.3 0 1 0 6.6 0a3.3 3.3 0 1 0 -6.6 0M1691.4 991.1a3.3 3.3 0 1 0 6.6 0a3.3 3.3 0 1 0 -6.6 0M1696.4 992.7a3.3 3.3 0 1 0 6.6 0a3.3 3.3 0 1 0 -6.6 0M1699.3 991.7a3.3 3.3 0 1 0 6.6 0a3.3 3.3 0 1 0 -6.6 0M1689.4 996.7a3.3 3.3 0 1 0 6.6 0a3.3 3.3 0 1 0 -6.6 0M1695.4 999.7a3.3 3.3 0 1 0 6.6 0a3.3 3.3 0 1 0 -6.6 0M1685.0 1002.7a3.3 3.3 0 1 0 6.6 0a3.3 3.3 0 1 0 -6.6 0M1699.9 1002.3a3.3 3.3 0 1 0 6.6 0a3.3 3.3 0 1 0 -6.6 0M1708.1 1002.8a3.3 3.3 0 1 0 6.6 0a3.3 3.3 0 1 0 -6.6 0M1686.0 1012.6a3.3 3.3 0 1 0 6.6 0a3.3 3.3 0 1 0 -6.6 0M1696.4 1015.0a3.3 3.3 0 1 0 6.6 0a3.3 3.3 0 1 0 -6.6 0M1710.5 1013.2a3.3 3.3 0 1 0 6.6 0a3.3 3.3 0 1 0 -6.6 0M1718.6 1012.0a3.3 3.3 0 1 0 6.6 0a3.3 3.3 0 1 0 -6.6 0M1684.4 1020.5a3.3 3.3 0 1 0 6.6 0a3.3 3.3 0 1 0 -6.6 0M1716.2 1018.1a3.3 3.3 0 1 0 6.6 0a3.3 3.3 0 1 0 -6.6 0M1712.3 1022.9a3.3 3.3 0 1 0 6.6 0a3.3 3.3 0 1 0 -6.6 0M1717.6 1022.9a3.3 3.3 0 1 0 6.6 0a3.3 3.3 0 1 0 -6.6 0M1696.4 1025.1a3.3 3.3 0 1 0 6.6 0a3.3 3.3 0 1 0 -6.6 0M1715.2 1034.4a3.3 3.3 0 1 0 6.6 0a3.3 3.3 0 1 0 -6.6 0M1708.7 1039.4a3.3 3.3 0 1 0 6.6 0a3.3 3.3 0 1 0 -6.6 0M1717.0 1038.8a3.3 3.3 0 1 0 6.6 0a3.3 3.3 0 1 0 -6.6 0M1712.7 1052.3a3.3 3.3 0 1 0 6.6 0a3.3 3.3 0 1 0 -6.6 0M1707.7 1083.5a3.3 3.3 0 1 0 6.6 0a3.3 3.3 0 1 0 -6.6 0M1681.9 967.6a3.3 3.3 0 1 0 6.6 0a3.3 3.3 0 1 0 -6.6 0M1701.2 986.1a3.3 3.3 0 1 0 6.6 0a3.3 3.3 0 1 0 -6.6 0M1684.2 971.2a3.3 3.3 0 1 0 6.6 0a3.3 3.3 0 1 0 -6.6 0M1692.9 965.1a3.3 3.3 0 1 0 6.6 0a3.3 3.3 0 1 0 -6.6 0M1686.0 953.7a3.3 3.3 0 1 0 6.6 0a3.3 3.3 0 1 0 -6.6 0M1697.5 986.9a3.3 3.3 0 1 0 6.6 0a3.3 3.3 0 1 0 -6.6 0M1684.8 964.4a3.3 3.3 0 1 0 6.6 0a3.3 3.3 0 1 0 -6.6 0M1706.3 989.0a3.3 3.3 0 1 0 6.6 0a3.3 3.3 0 1 0 -6.6 0M1687.5 945.6a3.3 3.3 0 1 0 6.6 0a3.3 3.3 0 1 0 -6.6 0M1710.5 989.5a3.3 3.3 0 1 0 6.6 0a3.3 3.3 0 1 0 -6.6 0M1696.3 941.8a3.3 3.3 0 1 0 6.6 0a3.3 3.3 0 1 0 -6.6 0M1710.0 959.1a3.3 3.3 0 1 0 6.6 0a3.3 3.3 0 1 0 -6.6 0M1709.3 971.1a3.3 3.3 0 1 0 6.6 0a3.3 3.3 0 1 0 -6.6 0M1706.9 947.4a3.3 3.3 0 1 0 6.6 0a3.3 3.3 0 1 0 -6.6 0" fill="none" stroke="#000" stroke-width="1.65"/>
<path d="M1812.8 823.4a3.3 3.3 0 1 0 6.6 0a3.3 3.3 0 1 0 -6.6 0M1808.8 836.0a3.3 3.3 0 1 0 6.6 0a3.3 3.3 0 1 0 -6.6 0M1792.1 848.3a3.3 3.3 0 1 0 6.6 0a3.3 3.3 0 1 0 -6.6 0M1797.7 848.7a3.3 3.3 0 1 0 6.6 0a3.3 3.3 0 1 0 -6.6 0M1789.0 860.6a3.3 3.3 0 1 0 6.6 0a3.3 3.3 0 1 0 -6.6 0M1794.1 865.0a3.3 3.3 0 1 0 6.6 0a3.3 3.3 0 1 0 -6.6 0M1808.0 862.8a3.3 3.3 0 1 0 6.6 0a3.3 3.3 0 1 0 -6.6 0M1824.1 859.6a3.3 3.3 0 1 0 6.6 0a3.3 3.3 0 1 0 -6.6 0M1822.1 867.0a3.3 3.3 0 1 0 6.6 0a3.3 3.3 0 1 0 -6.6 0M1826.9 869.9a3.3 3.3 0 1 0 6.6 0a3.3 3.3 0 1 0 -6.6 0M1802.9 885.4a3.3 3.3 0 1 0 6.6 0a3.3 3.3 0 1 0 -6.6 0M1825.9 890.4a3.3 3.3 0 1 0 6.6 0a3.3 3.3 0 1 0 -6.6 0M1789.9 922.4a3.3 3.3 0 1 0 6.6 0a3.3 3.3 0 1 0 -6.6 0M1803.1 934.7a3.3 3.3 0 1 0 6.6 0a3.3 3.3 0 1 0 -6.6 0M1806.0 951.8a3.3 3.3 0 1 0 6.6 0a3.3 3.3 0 1 0 -6.6 0M1788.2 960.1a3.3 3.3 0 1 0 6.6 0a3.3 3.3 0 1 0 -6.6 0M1813.4 967.7a3.3 3.3 0 1 0 6.6 0a3.3 3.3 0 1 0 -6.6 0M1806.8 977.0a3.3 3.3 0 1 0 6.6 0a3.3 3.3 0 1 0 -6.6 0M1799.7 1001.5a3.3 3.3 0 1 0 6.6 0a3.3 3.3 0 1 0 -6.6 0" fill="none" stroke="#000" stroke-width="1.65"/>
<path d="M1893.1 848.9a3.3 3.3 0 1 0 6.6 0a3.3 3.3 0 1 0 -6.6 0M1893.9 853.2a3.3 3.3 0 1 0 6.6 0a3.3 3.3 0 1 0 -6.6 0M1904.8 856.8a3.3 3.3 0 1 0 6.6 0a3.3 3.3 0 1 0 -6.6 0M1889.3 860.8a3.3 3.3 0 1 0 6.6 0a3.3 3.3 0 1 0 -6.6 0M1889.9 871.5a3.3 3.3 0 1 0 6.6 0a3.3 3.3 0 1 0 -6.6 0M1901.4 870.9a3.3 3.3 0 1 0 6.6 0a3.3 3.3 0 1 0 -6.6 0M1912.3 875.3a3.3 3.3 0 1 0 6.6 0a3.3 3.3 0 1 0 -6.6 0M1900.4 879.5a3.3 3.3 0 1 0 6.6 0a3.3 3.3 0 1 0 -6.6 0M1897.8 904.7a3.3 3.3 0 1 0 6.6 0a3.3 3.3 0 1 0 -6.6 0M1911.5 908.7a3.3 3.3 0 1 0 6.6 0a3.3 3.3 0 1 0 -6.6 0M1920.1 910.7a3.3 3.3 0 1 0 6.6 0a3.3 3.3 0 1 0 -6.6 0M1928.0 912.3a3.3 3.3 0 1 0 6.6 0a3.3 3.3 0 1 0 -6.6 0M1905.8 931.1a3.3 3.3 0 1 0 6.6 0a3.3 3.3 0 1 0 -6.6 0M1912.9 931.5a3.3 3.3 0 1 0 6.6 0a3.3 3.3 0 1 0 -6.6 0M1897.0 935.7a3.3 3.3 0 1 0 6.6 0a3.3 3.3 0 1 0 -6.6 0M1910.7 939.9a3.3 3.3 0 1 0 6.6 0a3.3 3.3 0 1 0 -6.6 0M1904.0 946.0a3.3 3.3 0 1 0 6.6 0a3.3 3.3 0 1 0 -6.6 0M1920.3 946.6a3.3 3.3 0 1 0 6.6 0a3.3 3.3 0 1 0 -6.6 0M1902.6 964.9a3.3 3.3 0 1 0 6.6 0a3.3 3.3 0 1 0 -6.6 0M1903.0 969.3a3.3 3.3 0 1 0 6.6 0a3.3 3.3 0 1 0 -6.6 0M1905.0 971.3a3.3 3.3 0 1 0 6.6 0a3.3 3.3 0 1 0 -6.6 0M1927.8 971.5a3.3 3.3 0 1 0 6.6 0a3.3 3.3 0 1 0 -6.6 0M1927.2 978.0a3.3 3.3 0 1 0 6.6 0a3.3 3.3 0 1 0 -6.6 0M1890.1 980.2a3.3 3.3 0 1 0 6.6 0a3.3 3.3 0 1 0 -6.6 0M1895.4 980.6a3.3 3.3 0 1 0 6.6 0a3.3 3.3 0 1 0 -6.6 0M1904.2 984.2a3.3 3.3 0 1 0 6.6 0a3.3 3.3 0 1 0 -6.6 0M1925.2 984.4a3.3 3.3 0 1 0 6.6 0a3.3 3.3 0 1 0 -6.6 0M1904.6 989.3a3.3 3.3 0 1 0 6.6 0a3.3 3.3 0 1 0 -6.6 0M1914.3 992.5a3.3 3.3 0 1 0 6.6 0a3.3 3.3 0 1 0 -6.6 0M1925.2 997.9a3.3 3.3 0 1 0 6.6 0a3.3 3.3 0 1 0 -6.6 0M1899.0 1000.9a3.3 3.3 0 1 0 6.6 0a3.3 3.3 0 1 0 -6.6 0M1916.5 1009.8a3.3 3.3 0 1 0 6.6 0a3.3 3.3 0 1 0 -6.6 0M1901.0 1022.7a3.3 3.3 0 1 0 6.6 0a3.3 3.3 0 1 0 -6.6 0" fill="none" stroke="#000" stroke-width="1.65"/>
<path d="M2009.5 847.1a3.3 3.3 0 1 0 6.6 0a3.3 3.3 0 1 0 -6.6 0M2007.5 860.4a3.3 3.3 0 1 0 6.6 0a3.3 3.3 0 1 0 -6.6 0M2018.4 858.4a3.3 3.3 0 1 0 6.6 0a3.3 3.3 0 1 0 -6.6 0" fill="none" stroke="#000" stroke-width="1.65"/>
<text transform="translate(1639.80,1118.10)" font-size="21.1" text-anchor="end" font-weight="bold">Platinum:</text>
<text transform="translate(1639.80,1143.60)" font-size="21.1" text-anchor="end" font-weight="bold">HRD:</text>
<text transform="translate(1700.70,1117.50)" font-size="21.1" text-anchor="middle" font-weight="bold">-</text>
<text transform="translate(1700.70,1143.00)" font-size="21.1" text-anchor="middle" font-weight="bold">-</text>
<text transform="translate(1807.50,1117.50)" font-size="21.1" text-anchor="middle" font-weight="bold">-</text>
<text transform="translate(1807.50,1143.00)" font-size="21.1" text-anchor="middle" font-weight="bold">+</text>
<text transform="translate(1911.30,1117.50)" font-size="21.1" text-anchor="middle" font-weight="bold">+</text>
<text transform="translate(1911.30,1143.00)" font-size="21.1" text-anchor="middle" font-weight="bold">-</text>
<text transform="translate(2010.50,1117.50)" font-size="21.1" text-anchor="middle" font-weight="bold">+</text>
<text transform="translate(2010.50,1143.00)" font-size="21.1" text-anchor="middle" font-weight="bold">+</text>
<text transform="translate(1701.90,1163.00)" font-size="17.6" text-anchor="middle" fill="#4d4d4d">(n=99)</text>
<text transform="translate(1811.70,1163.00)" font-size="17.6" text-anchor="middle" fill="#4d4d4d">(n=19)</text>
<text transform="translate(1914.90,1163.00)" font-size="17.6" text-anchor="middle" fill="#4d4d4d">(n=33)</text>
<text transform="translate(2012.90,1163.00)" font-size="17.6" text-anchor="middle" fill="#4d4d4d">(n=3)</text>
<text transform="translate(934.30,1204.60)" font-size="50" text-anchor="start" font-weight="bold">g</text>
<text transform="translate(1019.60,1213.60)" font-size="28.7" text-anchor="start" font-weight="bold">Signature SBS2</text>
<line x1="1021.00" y1="1223.10" x2="1021.00" y2="1625.50" stroke="#000" stroke-width="1.75"/>
<text transform="translate(1018.00,1278.10)" font-size="24.6" text-anchor="end">10000</text>
<text transform="translate(1018.00,1480.30)" font-size="24.6" text-anchor="end">100</text>
<text transform="translate(940.50,1437.00) rotate(-90)" font-size="27.9" text-anchor="middle" font-weight="bold">Exposure</text>
<line x1="1100.00" y1="1321.00" x2="1100.00" y2="1396.60" stroke="#1a1a1a" stroke-width="1.4"/>
<line x1="1100.00" y1="1453.60" x2="1100.00" y2="1518.90" stroke="#1a1a1a" stroke-width="1.4"/>
<rect x="1064.30" y="1396.60" width="71.40" height="57.00" fill="none" stroke="#1a1a1a" stroke-width="1.4"/>
<line x1="1064.30" y1="1426.90" x2="1135.70" y2="1426.90" stroke="#1a1a1a" stroke-width="1.54"/>
<line x1="1199.80" y1="1232.60" x2="1199.80" y2="1365.30" stroke="#1a1a1a" stroke-width="1.4"/>
<line x1="1199.80" y1="1462.80" x2="1199.80" y2="1564.50" stroke="#1a1a1a" stroke-width="1.4"/>
<rect x="1164.10" y="1365.30" width="71.40" height="97.50" fill="none" stroke="#1a1a1a" stroke-width="1.4"/>
<line x1="1164.10" y1="1410.00" x2="1235.50" y2="1410.00" stroke="#1a1a1a" stroke-width="1.54"/>
<path d="M1079.7 1286.7a2.9 2.9 0 1 0 5.8 0a2.9 2.9 0 1 0 -5.8 0M1078.7 1299.8a2.9 2.9 0 1 0 5.8 0a2.9 2.9 0 1 0 -5.8 0M1109.0 1297.2a2.9 2.9 0 1 0 5.8 0a2.9 2.9 0 1 0 -5.8 0M1080.7 1320.3a2.9 2.9 0 1 0 5.8 0a2.9 2.9 0 1 0 -5.8 0M1077.7 1354.5a2.9 2.9 0 1 0 5.8 0a2.9 2.9 0 1 0 -5.8 0M1078.7 1366.3a2.9 2.9 0 1 0 5.8 0a2.9 2.9 0 1 0 -5.8 0M1118.5 1362.7a2.9 2.9 0 1 0 5.8 0a2.9 2.9 0 1 0 -5.8 0M1107.7 1384.2a2.9 2.9 0 1 0 5.8 0a2.9 2.9 0 1 0 -5.8 0M1118.5 1390.1a2.9 2.9 0 1 0 5.8 0a2.9 2.9 0 1 0 -5.8 0M1086.2 1395.0a2.9 2.9 0 1 0 5.8 0a2.9 2.9 0 1 0 -5.8 0M1094.3 1397.6a2.9 2.9 0 1 0 5.8 0a2.9 2.9 0 1 0 -5.8 0M1089.5 1404.1a2.9 2.9 0 1 0 5.8 0a2.9 2.9 0 1 0 -5.8 0M1110.6 1402.1a2.9 2.9 0 1 0 5.8 0a2.9 2.9 0 1 0 -5.8 0M1070.9 1413.9a2.9 2.9 0 1 0 5.8 0a2.9 2.9 0 1 0 -5.8 0M1108.4 1413.9a2.9 2.9 0 1 0 5.8 0a2.9 2.9 0 1 0 -5.8 0M1072.2 1419.4a2.9 2.9 0 1 0 5.8 0a2.9 2.9 0 1 0 -5.8 0M1079.4 1422.0a2.9 2.9 0 1 0 5.8 0a2.9 2.9 0 1 0 -5.8 0M1124.3 1421.7a2.9 2.9 0 1 0 5.8 0a2.9 2.9 0 1 0 -5.8 0M1080.7 1426.9a2.9 2.9 0 1 0 5.8 0a2.9 2.9 0 1 0 -5.8 0M1106.7 1426.6a2.9 2.9 0 1 0 5.8 0a2.9 2.9 0 1 0 -5.8 0M1083.3 1441.3a2.9 2.9 0 1 0 5.8 0a2.9 2.9 0 1 0 -5.8 0M1074.1 1443.9a2.9 2.9 0 1 0 5.8 0a2.9 2.9 0 1 0 -5.8 0M1105.1 1441.6a2.9 2.9 0 1 0 5.8 0a2.9 2.9 0 1 0 -5.8 0M1117.2 1442.2a2.9 2.9 0 1 0 5.8 0a2.9 2.9 0 1 0 -5.8 0M1120.4 1444.8a2.9 2.9 0 1 0 5.8 0a2.9 2.9 0 1 0 -5.8 0M1079.0 1447.8a2.9 2.9 0 1 0 5.8 0a2.9 2.9 0 1 0 -5.8 0M1109.3 1448.8a2.9 2.9 0 1 0 5.8 0a2.9 2.9 0 1 0 -5.8 0M1120.4 1453.0a2.9 2.9 0 1 0 5.8 0a2.9 2.9 0 1 0 -5.8 0M1125.3 1454.3a2.9 2.9 0 1 0 5.8 0a2.9 2.9 0 1 0 -5.8 0M1075.8 1461.1a2.9 2.9 0 1 0 5.8 0a2.9 2.9 0 1 0 -5.8 0M1071.5 1462.4a2.9 2.9 0 1 0 5.8 0a2.9 2.9 0 1 0 -5.8 0M1119.1 1465.4a2.9 2.9 0 1 0 5.8 0a2.9 2.9 0 1 0 -5.8 0M1106.7 1469.0a2.9 2.9 0 1 0 5.8 0a2.9 2.9 0 1 0 -5.8 0M1086.8 1491.8a2.9 2.9 0 1 0 5.8 0a2.9 2.9 0 1 0 -5.8 0M1070.5 1511.4a2.9 2.9 0 1 0 5.8 0a2.9 2.9 0 1 0 -5.8 0M1081.0 1515.9a2.9 2.9 0 1 0 5.8 0a2.9 2.9 0 1 0 -5.8 0M1100.9 1518.9a2.9 2.9 0 1 0 5.8 0a2.9 2.9 0 1 0 -5.8 0M1104.8 1544.3a2.9 2.9 0 1 0 5.8 0a2.9 2.9 0 1 0 -5.8 0" fill="#000"/>
<path d="M1217.9 1234.6a2.9 2.9 0 1 0 5.8 0a2.9 2.9 0 1 0 -5.8 0M1224.8 1250.5a2.9 2.9 0 1 0 5.8 0a2.9 2.9 0 1 0 -5.8 0M1203.9 1264.5a2.9 2.9 0 1 0 5.8 0a2.9 2.9 0 1 0 -5.8 0M1177.8 1274.0a2.9 2.9 0 1 0 5.8 0a2.9 2.9 0 1 0 -5.8 0M1202.9 1272.0a2.9 2.9 0 1 0 5.8 0a2.9 2.9 0 1 0 -5.8 0M1216.0 1281.2a2.9 2.9 0 1 0 5.8 0a2.9 2.9 0 1 0 -5.8 0M1209.4 1284.8a2.9 2.9 0 1 0 5.8 0a2.9 2.9 0 1 0 -5.8 0M1180.7 1286.1a2.9 2.9 0 1 0 5.8 0a2.9 2.9 0 1 0 -5.8 0M1188.9 1295.8a2.9 2.9 0 1 0 5.8 0a2.9 2.9 0 1 0 -5.8 0M1202.9 1310.2a2.9 2.9 0 1 0 5.8 0a2.9 2.9 0 1 0 -5.8 0M1189.5 1318.0a2.9 2.9 0 1 0 5.8 0a2.9 2.9 0 1 0 -5.8 0M1226.4 1327.1a2.9 2.9 0 1 0 5.8 0a2.9 2.9 0 1 0 -5.8 0M1179.4 1329.1a2.9 2.9 0 1 0 5.8 0a2.9 2.9 0 1 0 -5.8 0M1209.1 1333.0a2.9 2.9 0 1 0 5.8 0a2.9 2.9 0 1 0 -5.8 0M1217.6 1339.2a2.9 2.9 0 1 0 5.8 0a2.9 2.9 0 1 0 -5.8 0M1192.2 1340.8a2.9 2.9 0 1 0 5.8 0a2.9 2.9 0 1 0 -5.8 0M1196.1 1347.4a2.9 2.9 0 1 0 5.8 0a2.9 2.9 0 1 0 -5.8 0M1215.0 1346.1a2.9 2.9 0 1 0 5.8 0a2.9 2.9 0 1 0 -5.8 0M1223.8 1347.0a2.9 2.9 0 1 0 5.8 0a2.9 2.9 0 1 0 -5.8 0M1172.6 1357.5a2.9 2.9 0 1 0 5.8 0a2.9 2.9 0 1 0 -5.8 0M1180.1 1358.4a2.9 2.9 0 1 0 5.8 0a2.9 2.9 0 1 0 -5.8 0M1211.7 1356.8a2.9 2.9 0 1 0 5.8 0a2.9 2.9 0 1 0 -5.8 0M1212.7 1360.1a2.9 2.9 0 1 0 5.8 0a2.9 2.9 0 1 0 -5.8 0M1216.0 1365.0a2.9 2.9 0 1 0 5.8 0a2.9 2.9 0 1 0 -5.8 0M1192.8 1364.3a2.9 2.9 0 1 0 5.8 0a2.9 2.9 0 1 0 -5.8 0M1177.5 1366.6a2.9 2.9 0 1 0 5.8 0a2.9 2.9 0 1 0 -5.8 0M1180.1 1368.9a2.9 2.9 0 1 0 5.8 0a2.9 2.9 0 1 0 -5.8 0M1185.0 1366.3a2.9 2.9 0 1 0 5.8 0a2.9 2.9 0 1 0 -5.8 0M1224.1 1371.2a2.9 2.9 0 1 0 5.8 0a2.9 2.9 0 1 0 -5.8 0M1220.5 1373.1a2.9 2.9 0 1 0 5.8 0a2.9 2.9 0 1 0 -5.8 0M1213.3 1374.7a2.9 2.9 0 1 0 5.8 0a2.9 2.9 0 1 0 -5.8 0M1193.1 1381.9a2.9 2.9 0 1 0 5.8 0a2.9 2.9 0 1 0 -5.8 0M1200.3 1382.9a2.9 2.9 0 1 0 5.8 0a2.9 2.9 0 1 0 -5.8 0M1211.7 1382.6a2.9 2.9 0 1 0 5.8 0a2.9 2.9 0 1 0 -5.8 0M1218.9 1382.2a2.9 2.9 0 1 0 5.8 0a2.9 2.9 0 1 0 -5.8 0M1223.5 1381.6a2.9 2.9 0 1 0 5.8 0a2.9 2.9 0 1 0 -5.8 0M1174.6 1385.5a2.9 2.9 0 1 0 5.8 0a2.9 2.9 0 1 0 -5.8 0M1204.2 1394.6a2.9 2.9 0 1 0 5.8 0a2.9 2.9 0 1 0 -5.8 0M1190.5 1397.6a2.9 2.9 0 1 0 5.8 0a2.9 2.9 0 1 0 -5.8 0M1183.0 1400.2a2.9 2.9 0 1 0 5.8 0a2.9 2.9 0 1 0 -5.8 0M1188.9 1403.4a2.9 2.9 0 1 0 5.8 0a2.9 2.9 0 1 0 -5.8 0M1192.8 1404.1a2.9 2.9 0 1 0 5.8 0a2.9 2.9 0 1 0 -5.8 0M1200.3 1404.7a2.9 2.9 0 1 0 5.8 0a2.9 2.9 0 1 0 -5.8 0M1210.1 1404.1a2.9 2.9 0 1 0 5.8 0a2.9 2.9 0 1 0 -5.8 0M1176.8 1408.0a2.9 2.9 0 1 0 5.8 0a2.9 2.9 0 1 0 -5.8 0M1180.7 1408.7a2.9 2.9 0 1 0 5.8 0a2.9 2.9 0 1 0 -5.8 0M1172.6 1417.8a2.9 2.9 0 1 0 5.8 0a2.9 2.9 0 1 0 -5.8 0M1175.2 1416.2a2.9 2.9 0 1 0 5.8 0a2.9 2.9 0 1 0 -5.8 0M1180.7 1419.4a2.9 2.9 0 1 0 5.8 0a2.9 2.9 0 1 0 -5.8 0M1184.0 1420.4a2.9 2.9 0 1 0 5.8 0a2.9 2.9 0 1 0 -5.8 0M1214.0 1410.6a2.9 2.9 0 1 0 5.8 0a2.9 2.9 0 1 0 -5.8 0M1217.3 1421.0a2.9 2.9 0 1 0 5.8 0a2.9 2.9 0 1 0 -5.8 0M1218.6 1423.7a2.9 2.9 0 1 0 5.8 0a2.9 2.9 0 1 0 -5.8 0M1180.7 1429.5a2.9 2.9 0 1 0 5.8 0a2.9 2.9 0 1 0 -5.8 0M1186.0 1431.5a2.9 2.9 0 1 0 5.8 0a2.9 2.9 0 1 0 -5.8 0M1196.7 1431.8a2.9 2.9 0 1 0 5.8 0a2.9 2.9 0 1 0 -5.8 0M1215.0 1435.7a2.9 2.9 0 1 0 5.8 0a2.9 2.9 0 1 0 -5.8 0M1192.2 1437.3a2.9 2.9 0 1 0 5.8 0a2.9 2.9 0 1 0 -5.8 0M1188.9 1440.6a2.9 2.9 0 1 0 5.8 0a2.9 2.9 0 1 0 -5.8 0M1208.5 1439.0a2.9 2.9 0 1 0 5.8 0a2.9 2.9 0 1 0 -5.8 0M1186.3 1444.8a2.9 2.9 0 1 0 5.8 0a2.9 2.9 0 1 0 -5.8 0M1184.0 1446.5a2.9 2.9 0 1 0 5.8 0a2.9 2.9 0 1 0 -5.8 0M1175.2 1447.1a2.9 2.9 0 1 0 5.8 0a2.9 2.9 0 1 0 -5.8 0M1205.2 1446.5a2.9 2.9 0 1 0 5.8 0a2.9 2.9 0 1 0 -5.8 0M1209.4 1448.8a2.9 2.9 0 1 0 5.8 0a2.9 2.9 0 1 0 -5.8 0M1215.0 1447.1a2.9 2.9 0 1 0 5.8 0a2.9 2.9 0 1 0 -5.8 0M1219.2 1451.0a2.9 2.9 0 1 0 5.8 0a2.9 2.9 0 1 0 -5.8 0M1188.9 1457.9a2.9 2.9 0 1 0 5.8 0a2.9 2.9 0 1 0 -5.8 0M1171.0 1462.4a2.9 2.9 0 1 0 5.8 0a2.9 2.9 0 1 0 -5.8 0M1167.7 1463.4a2.9 2.9 0 1 0 5.8 0a2.9 2.9 0 1 0 -5.8 0M1174.2 1465.7a2.9 2.9 0 1 0 5.8 0a2.9 2.9 0 1 0 -5.8 0M1215.0 1461.1a2.9 2.9 0 1 0 5.8 0a2.9 2.9 0 1 0 -5.8 0M1225.7 1460.5a2.9 2.9 0 1 0 5.8 0a2.9 2.9 0 1 0 -5.8 0M1212.7 1464.4a2.9 2.9 0 1 0 5.8 0a2.9 2.9 0 1 0 -5.8 0M1217.9 1465.4a2.9 2.9 0 1 0 5.8 0a2.9 2.9 0 1 0 -5.8 0M1199.0 1468.0a2.9 2.9 0 1 0 5.8 0a2.9 2.9 0 1 0 -5.8 0M1194.4 1471.6a2.9 2.9 0 1 0 5.8 0a2.9 2.9 0 1 0 -5.8 0M1190.5 1473.9a2.9 2.9 0 1 0 5.8 0a2.9 2.9 0 1 0 -5.8 0M1192.2 1473.9a2.9 2.9 0 1 0 5.8 0a2.9 2.9 0 1 0 -5.8 0M1167.7 1472.6a2.9 2.9 0 1 0 5.8 0a2.9 2.9 0 1 0 -5.8 0M1180.7 1475.5a2.9 2.9 0 1 0 5.8 0a2.9 2.9 0 1 0 -5.8 0M1181.4 1476.5a2.9 2.9 0 1 0 5.8 0a2.9 2.9 0 1 0 -5.8 0M1212.4 1478.1a2.9 2.9 0 1 0 5.8 0a2.9 2.9 0 1 0 -5.8 0M1217.6 1475.8a2.9 2.9 0 1 0 5.8 0a2.9 2.9 0 1 0 -5.8 0M1222.5 1475.8a2.9 2.9 0 1 0 5.8 0a2.9 2.9 0 1 0 -5.8 0M1212.4 1483.0a2.9 2.9 0 1 0 5.8 0a2.9 2.9 0 1 0 -5.8 0M1210.1 1507.1a2.9 2.9 0 1 0 5.8 0a2.9 2.9 0 1 0 -5.8 0M1219.5 1510.7a2.9 2.9 0 1 0 5.8 0a2.9 2.9 0 1 0 -5.8 0M1175.9 1511.7a2.9 2.9 0 1 0 5.8 0a2.9 2.9 0 1 0 -5.8 0M1176.8 1513.0a2.9 2.9 0 1 0 5.8 0a2.9 2.9 0 1 0 -5.8 0M1183.0 1518.2a2.9 2.9 0 1 0 5.8 0a2.9 2.9 0 1 0 -5.8 0M1201.6 1548.2a2.9 2.9 0 1 0 5.8 0a2.9 2.9 0 1 0 -5.8 0M1203.6 1564.5a2.9 2.9 0 1 0 5.8 0a2.9 2.9 0 1 0 -5.8 0M1218.2 1609.8a2.9 2.9 0 1 0 5.8 0a2.9 2.9 0 1 0 -5.8 0" fill="#000"/>
<text transform="translate(1042.30,1610.90)" font-size="21.2" text-anchor="start">p = 0.33</text>
<text transform="translate(1099.20,1649.30)" font-size="21.1" text-anchor="middle">Negative</text>
<text transform="translate(1198.60,1649.30)" font-size="21.1" text-anchor="middle">Positive</text>
<text transform="translate(1099.20,1696.70)" font-size="17.6" text-anchor="middle" fill="#4d4d4d">(n=40)</text>
<text transform="translate(1198.60,1696.70)" font-size="17.6" text-anchor="middle" fill="#4d4d4d">(n=100)</text>
<text transform="translate(1151.30,1726.20)" font-size="28.6" text-anchor="middle" font-weight="bold">Primary ER clinical subtype</text>
<text transform="translate(1519.50,1205.20)" font-size="50" text-anchor="start" font-weight="bold">h</text>
<line x1="1635.20" y1="1226.40" x2="1635.20" y2="1626.40" stroke="#000" stroke-width="1.75"/>
<text transform="translate(1629.30,1258.40)" font-size="24" text-anchor="end">100</text>
<text transform="translate(1629.30,1452.30)" font-size="24" text-anchor="end">1</text>
<text transform="translate(1549.60,1436.60) rotate(-90)" font-size="28.65" text-anchor="middle" font-weight="bold">APOBEC3A expression (TPM)</text>
<path d="M1704.30 1291.60V1282.50H1808.90V1291.60" fill="none" stroke="#000" stroke-width="1.8"/>
<text transform="translate(1760.30,1279.30)" font-size="20.7" text-anchor="middle">0.34</text>
<path d="M1704.30 1254.10V1245.00H1910.30V1254.10" fill="none" stroke="#000" stroke-width="1.8"/>
<text transform="translate(1815.10,1241.50)" font-size="20.7" text-anchor="middle">0.052</text>
<line x1="1704.70" y1="1339.50" x2="1704.70" y2="1417.70" stroke="#1a1a1a" stroke-width="1.35"/>
<line x1="1704.70" y1="1484.60" x2="1704.70" y2="1569.30" stroke="#1a1a1a" stroke-width="1.35"/>
<rect x="1669.10" y="1417.70" width="71.30" height="66.90" fill="#fff" stroke="#1a1a1a" stroke-width="1.35"/>
<line x1="1669.10" y1="1440.20" x2="1740.40" y2="1440.20" stroke="#1a1a1a" stroke-width="1.4850000000000003"/>
<line x1="1808.70" y1="1329.70" x2="1808.70" y2="1419.70" stroke="#1a1a1a" stroke-width="1.35"/>
<line x1="1808.70" y1="1495.00" x2="1808.70" y2="1578.40" stroke="#1a1a1a" stroke-width="1.35"/>
<rect x="1773.00" y="1419.70" width="71.40" height="75.30" fill="#d6a661" stroke="#1a1a1a" stroke-width="1.35"/>
<line x1="1773.00" y1="1460.10" x2="1844.40" y2="1460.10" stroke="#1a1a1a" stroke-width="1.4850000000000003"/>
<line x1="1909.60" y1="1355.80" x2="1909.60" y2="1397.50" stroke="#1a1a1a" stroke-width="1.35"/>
<line x1="1909.60" y1="1441.90" x2="1909.60" y2="1506.70" stroke="#1a1a1a" stroke-width="1.35"/>
<rect x="1873.80" y="1397.50" width="71.70" height="44.40" fill="#cf7c24" stroke="#1a1a1a" stroke-width="1.35"/>
<line x1="1873.80" y1="1423.30" x2="1945.50" y2="1423.30" stroke="#1a1a1a" stroke-width="1.4850000000000003"/>
<path d="M1704.2 1312.1a3.0 3.0 0 1 0 6.0 0a3.0 3.0 0 1 0 -6.0 0M1706.5 1338.9a3.0 3.0 0 1 0 6.0 0a3.0 3.0 0 1 0 -6.0 0M1687.9 1345.4a3.0 3.0 0 1 0 6.0 0a3.0 3.0 0 1 0 -6.0 0M1722.8 1349.3a3.0 3.0 0 1 0 6.0 0a3.0 3.0 0 1 0 -6.0 0M1682.7 1362.0a3.0 3.0 0 1 0 6.0 0a3.0 3.0 0 1 0 -6.0 0M1729.6 1378.6a3.0 3.0 0 1 0 6.0 0a3.0 3.0 0 1 0 -6.0 0M1714.6 1380.2a3.0 3.0 0 1 0 6.0 0a3.0 3.0 0 1 0 -6.0 0M1722.8 1383.5a3.0 3.0 0 1 0 6.0 0a3.0 3.0 0 1 0 -6.0 0M1677.1 1384.2a3.0 3.0 0 1 0 6.0 0a3.0 3.0 0 1 0 -6.0 0M1688.6 1385.8a3.0 3.0 0 1 0 6.0 0a3.0 3.0 0 1 0 -6.0 0M1708.1 1387.4a3.0 3.0 0 1 0 6.0 0a3.0 3.0 0 1 0 -6.0 0M1715.3 1389.0a3.0 3.0 0 1 0 6.0 0a3.0 3.0 0 1 0 -6.0 0M1727.3 1390.7a3.0 3.0 0 1 0 6.0 0a3.0 3.0 0 1 0 -6.0 0M1703.9 1396.5a3.0 3.0 0 1 0 6.0 0a3.0 3.0 0 1 0 -6.0 0M1706.5 1412.8a3.0 3.0 0 1 0 6.0 0a3.0 3.0 0 1 0 -6.0 0M1682.4 1417.7a3.0 3.0 0 1 0 6.0 0a3.0 3.0 0 1 0 -6.0 0M1687.9 1416.8a3.0 3.0 0 1 0 6.0 0a3.0 3.0 0 1 0 -6.0 0M1683.0 1420.3a3.0 3.0 0 1 0 6.0 0a3.0 3.0 0 1 0 -6.0 0M1693.8 1421.0a3.0 3.0 0 1 0 6.0 0a3.0 3.0 0 1 0 -6.0 0M1698.3 1420.3a3.0 3.0 0 1 0 6.0 0a3.0 3.0 0 1 0 -6.0 0M1706.5 1419.4a3.0 3.0 0 1 0 6.0 0a3.0 3.0 0 1 0 -6.0 0M1719.5 1427.5a3.0 3.0 0 1 0 6.0 0a3.0 3.0 0 1 0 -6.0 0M1693.1 1427.5a3.0 3.0 0 1 0 6.0 0a3.0 3.0 0 1 0 -6.0 0M1682.0 1429.1a3.0 3.0 0 1 0 6.0 0a3.0 3.0 0 1 0 -6.0 0M1705.5 1425.9a3.0 3.0 0 1 0 6.0 0a3.0 3.0 0 1 0 -6.0 0M1682.7 1434.0a3.0 3.0 0 1 0 6.0 0a3.0 3.0 0 1 0 -6.0 0M1706.8 1433.1a3.0 3.0 0 1 0 6.0 0a3.0 3.0 0 1 0 -6.0 0M1711.7 1436.6a3.0 3.0 0 1 0 6.0 0a3.0 3.0 0 1 0 -6.0 0M1717.6 1435.0a3.0 3.0 0 1 0 6.0 0a3.0 3.0 0 1 0 -6.0 0M1722.1 1435.7a3.0 3.0 0 1 0 6.0 0a3.0 3.0 0 1 0 -6.0 0M1724.7 1438.9a3.0 3.0 0 1 0 6.0 0a3.0 3.0 0 1 0 -6.0 0M1727.0 1439.9a3.0 3.0 0 1 0 6.0 0a3.0 3.0 0 1 0 -6.0 0M1689.9 1442.2a3.0 3.0 0 1 0 6.0 0a3.0 3.0 0 1 0 -6.0 0M1723.1 1448.0a3.0 3.0 0 1 0 6.0 0a3.0 3.0 0 1 0 -6.0 0M1683.7 1448.7a3.0 3.0 0 1 0 6.0 0a3.0 3.0 0 1 0 -6.0 0M1680.7 1449.7a3.0 3.0 0 1 0 6.0 0a3.0 3.0 0 1 0 -6.0 0M1692.1 1454.6a3.0 3.0 0 1 0 6.0 0a3.0 3.0 0 1 0 -6.0 0M1703.2 1460.8a3.0 3.0 0 1 0 6.0 0a3.0 3.0 0 1 0 -6.0 0M1707.8 1461.1a3.0 3.0 0 1 0 6.0 0a3.0 3.0 0 1 0 -6.0 0M1710.7 1463.4a3.0 3.0 0 1 0 6.0 0a3.0 3.0 0 1 0 -6.0 0M1685.6 1469.9a3.0 3.0 0 1 0 6.0 0a3.0 3.0 0 1 0 -6.0 0M1718.2 1470.9a3.0 3.0 0 1 0 6.0 0a3.0 3.0 0 1 0 -6.0 0M1719.8 1473.8a3.0 3.0 0 1 0 6.0 0a3.0 3.0 0 1 0 -6.0 0M1711.0 1475.8a3.0 3.0 0 1 0 6.0 0a3.0 3.0 0 1 0 -6.0 0M1718.5 1479.0a3.0 3.0 0 1 0 6.0 0a3.0 3.0 0 1 0 -6.0 0M1710.1 1478.0a3.0 3.0 0 1 0 6.0 0a3.0 3.0 0 1 0 -6.0 0M1692.1 1484.6a3.0 3.0 0 1 0 6.0 0a3.0 3.0 0 1 0 -6.0 0M1705.2 1485.5a3.0 3.0 0 1 0 6.0 0a3.0 3.0 0 1 0 -6.0 0M1710.4 1485.5a3.0 3.0 0 1 0 6.0 0a3.0 3.0 0 1 0 -6.0 0M1690.5 1487.8a3.0 3.0 0 1 0 6.0 0a3.0 3.0 0 1 0 -6.0 0M1687.9 1491.1a3.0 3.0 0 1 0 6.0 0a3.0 3.0 0 1 0 -6.0 0M1684.0 1496.9a3.0 3.0 0 1 0 6.0 0a3.0 3.0 0 1 0 -6.0 0M1719.5 1496.0a3.0 3.0 0 1 0 6.0 0a3.0 3.0 0 1 0 -6.0 0M1678.1 1502.5a3.0 3.0 0 1 0 6.0 0a3.0 3.0 0 1 0 -6.0 0M1694.4 1505.7a3.0 3.0 0 1 0 6.0 0a3.0 3.0 0 1 0 -6.0 0M1688.6 1513.6a3.0 3.0 0 1 0 6.0 0a3.0 3.0 0 1 0 -6.0 0M1719.2 1540.6a3.0 3.0 0 1 0 6.0 0a3.0 3.0 0 1 0 -6.0 0M1689.2 1545.5a3.0 3.0 0 1 0 6.0 0a3.0 3.0 0 1 0 -6.0 0M1706.5 1545.5a3.0 3.0 0 1 0 6.0 0a3.0 3.0 0 1 0 -6.0 0M1691.8 1555.6a3.0 3.0 0 1 0 6.0 0a3.0 3.0 0 1 0 -6.0 0M1692.5 1556.3a3.0 3.0 0 1 0 6.0 0a3.0 3.0 0 1 0 -6.0 0M1685.0 1570.0a3.0 3.0 0 1 0 6.0 0a3.0 3.0 0 1 0 -6.0 0M1686.6 1608.4a3.0 3.0 0 1 0 6.0 0a3.0 3.0 0 1 0 -6.0 0" fill="none" stroke="#000" stroke-width="1.5"/>
<path d="M1814.4 1306.9a3.0 3.0 0 1 0 6.0 0a3.0 3.0 0 1 0 -6.0 0M1784.1 1328.1a3.0 3.0 0 1 0 6.0 0a3.0 3.0 0 1 0 -6.0 0M1808.8 1332.0a3.0 3.0 0 1 0 6.0 0a3.0 3.0 0 1 0 -6.0 0M1805.9 1351.9a3.0 3.0 0 1 0 6.0 0a3.0 3.0 0 1 0 -6.0 0M1818.0 1358.4a3.0 3.0 0 1 0 6.0 0a3.0 3.0 0 1 0 -6.0 0M1780.5 1363.3a3.0 3.0 0 1 0 6.0 0a3.0 3.0 0 1 0 -6.0 0M1800.0 1364.9a3.0 3.0 0 1 0 6.0 0a3.0 3.0 0 1 0 -6.0 0M1785.4 1380.6a3.0 3.0 0 1 0 6.0 0a3.0 3.0 0 1 0 -6.0 0M1806.2 1382.9a3.0 3.0 0 1 0 6.0 0a3.0 3.0 0 1 0 -6.0 0M1797.4 1395.6a3.0 3.0 0 1 0 6.0 0a3.0 3.0 0 1 0 -6.0 0M1788.6 1408.0a3.0 3.0 0 1 0 6.0 0a3.0 3.0 0 1 0 -6.0 0M1818.3 1412.2a3.0 3.0 0 1 0 6.0 0a3.0 3.0 0 1 0 -6.0 0M1814.4 1413.8a3.0 3.0 0 1 0 6.0 0a3.0 3.0 0 1 0 -6.0 0M1792.5 1418.7a3.0 3.0 0 1 0 6.0 0a3.0 3.0 0 1 0 -6.0 0M1816.7 1419.4a3.0 3.0 0 1 0 6.0 0a3.0 3.0 0 1 0 -6.0 0M1798.4 1421.6a3.0 3.0 0 1 0 6.0 0a3.0 3.0 0 1 0 -6.0 0M1807.9 1421.6a3.0 3.0 0 1 0 6.0 0a3.0 3.0 0 1 0 -6.0 0M1812.1 1424.9a3.0 3.0 0 1 0 6.0 0a3.0 3.0 0 1 0 -6.0 0M1817.6 1430.8a3.0 3.0 0 1 0 6.0 0a3.0 3.0 0 1 0 -6.0 0M1818.3 1434.0a3.0 3.0 0 1 0 6.0 0a3.0 3.0 0 1 0 -6.0 0M1817.6 1437.3a3.0 3.0 0 1 0 6.0 0a3.0 3.0 0 1 0 -6.0 0M1783.4 1437.3a3.0 3.0 0 1 0 6.0 0a3.0 3.0 0 1 0 -6.0 0M1806.9 1439.9a3.0 3.0 0 1 0 6.0 0a3.0 3.0 0 1 0 -6.0 0M1807.9 1440.6a3.0 3.0 0 1 0 6.0 0a3.0 3.0 0 1 0 -6.0 0M1795.1 1442.2a3.0 3.0 0 1 0 6.0 0a3.0 3.0 0 1 0 -6.0 0M1780.5 1446.4a3.0 3.0 0 1 0 6.0 0a3.0 3.0 0 1 0 -6.0 0M1795.5 1448.0a3.0 3.0 0 1 0 6.0 0a3.0 3.0 0 1 0 -6.0 0M1814.4 1456.9a3.0 3.0 0 1 0 6.0 0a3.0 3.0 0 1 0 -6.0 0M1824.8 1458.2a3.0 3.0 0 1 0 6.0 0a3.0 3.0 0 1 0 -6.0 0M1814.4 1463.4a3.0 3.0 0 1 0 6.0 0a3.0 3.0 0 1 0 -6.0 0M1802.3 1466.0a3.0 3.0 0 1 0 6.0 0a3.0 3.0 0 1 0 -6.0 0M1783.4 1466.6a3.0 3.0 0 1 0 6.0 0a3.0 3.0 0 1 0 -6.0 0M1792.5 1473.1a3.0 3.0 0 1 0 6.0 0a3.0 3.0 0 1 0 -6.0 0M1798.4 1473.1a3.0 3.0 0 1 0 6.0 0a3.0 3.0 0 1 0 -6.0 0M1776.2 1474.8a3.0 3.0 0 1 0 6.0 0a3.0 3.0 0 1 0 -6.0 0M1792.5 1479.0a3.0 3.0 0 1 0 6.0 0a3.0 3.0 0 1 0 -6.0 0M1804.6 1478.0a3.0 3.0 0 1 0 6.0 0a3.0 3.0 0 1 0 -6.0 0M1826.4 1478.0a3.0 3.0 0 1 0 6.0 0a3.0 3.0 0 1 0 -6.0 0M1805.6 1482.3a3.0 3.0 0 1 0 6.0 0a3.0 3.0 0 1 0 -6.0 0M1791.6 1485.5a3.0 3.0 0 1 0 6.0 0a3.0 3.0 0 1 0 -6.0 0M1795.5 1492.1a3.0 3.0 0 1 0 6.0 0a3.0 3.0 0 1 0 -6.0 0M1798.1 1494.3a3.0 3.0 0 1 0 6.0 0a3.0 3.0 0 1 0 -6.0 0M1824.2 1494.7a3.0 3.0 0 1 0 6.0 0a3.0 3.0 0 1 0 -6.0 0M1779.2 1507.4a3.0 3.0 0 1 0 6.0 0a3.0 3.0 0 1 0 -6.0 0M1815.0 1505.7a3.0 3.0 0 1 0 6.0 0a3.0 3.0 0 1 0 -6.0 0M1797.1 1523.7a3.0 3.0 0 1 0 6.0 0a3.0 3.0 0 1 0 -6.0 0M1798.4 1532.8a3.0 3.0 0 1 0 6.0 0a3.0 3.0 0 1 0 -6.0 0M1810.8 1532.8a3.0 3.0 0 1 0 6.0 0a3.0 3.0 0 1 0 -6.0 0M1830.7 1532.8a3.0 3.0 0 1 0 6.0 0a3.0 3.0 0 1 0 -6.0 0M1804.9 1537.4a3.0 3.0 0 1 0 6.0 0a3.0 3.0 0 1 0 -6.0 0M1824.8 1539.3a3.0 3.0 0 1 0 6.0 0a3.0 3.0 0 1 0 -6.0 0M1817.0 1540.6a3.0 3.0 0 1 0 6.0 0a3.0 3.0 0 1 0 -6.0 0M1824.2 1540.9a3.0 3.0 0 1 0 6.0 0a3.0 3.0 0 1 0 -6.0 0M1788.9 1540.6a3.0 3.0 0 1 0 6.0 0a3.0 3.0 0 1 0 -6.0 0M1802.3 1562.5a3.0 3.0 0 1 0 6.0 0a3.0 3.0 0 1 0 -6.0 0M1814.0 1570.0a3.0 3.0 0 1 0 6.0 0a3.0 3.0 0 1 0 -6.0 0M1789.6 1579.4a3.0 3.0 0 1 0 6.0 0a3.0 3.0 0 1 0 -6.0 0" fill="none" stroke="#000" stroke-width="1.5"/>
<path d="M1924.2 1297.5a3.0 3.0 0 1 0 6.0 0a3.0 3.0 0 1 0 -6.0 0M1903.7 1356.1a3.0 3.0 0 1 0 6.0 0a3.0 3.0 0 1 0 -6.0 0M1889.3 1366.6a3.0 3.0 0 1 0 6.0 0a3.0 3.0 0 1 0 -6.0 0M1894.2 1368.5a3.0 3.0 0 1 0 6.0 0a3.0 3.0 0 1 0 -6.0 0M1929.8 1374.4a3.0 3.0 0 1 0 6.0 0a3.0 3.0 0 1 0 -6.0 0M1895.2 1397.2a3.0 3.0 0 1 0 6.0 0a3.0 3.0 0 1 0 -6.0 0M1908.6 1404.0a3.0 3.0 0 1 0 6.0 0a3.0 3.0 0 1 0 -6.0 0M1892.6 1417.1a3.0 3.0 0 1 0 6.0 0a3.0 3.0 0 1 0 -6.0 0M1885.8 1418.7a3.0 3.0 0 1 0 6.0 0a3.0 3.0 0 1 0 -6.0 0M1914.4 1421.0a3.0 3.0 0 1 0 6.0 0a3.0 3.0 0 1 0 -6.0 0M1906.6 1424.9a3.0 3.0 0 1 0 6.0 0a3.0 3.0 0 1 0 -6.0 0M1928.1 1423.6a3.0 3.0 0 1 0 6.0 0a3.0 3.0 0 1 0 -6.0 0M1935.3 1428.8a3.0 3.0 0 1 0 6.0 0a3.0 3.0 0 1 0 -6.0 0M1885.1 1435.7a3.0 3.0 0 1 0 6.0 0a3.0 3.0 0 1 0 -6.0 0M1881.2 1442.2a3.0 3.0 0 1 0 6.0 0a3.0 3.0 0 1 0 -6.0 0M1895.9 1441.5a3.0 3.0 0 1 0 6.0 0a3.0 3.0 0 1 0 -6.0 0M1887.7 1445.8a3.0 3.0 0 1 0 6.0 0a3.0 3.0 0 1 0 -6.0 0M1915.8 1457.2a3.0 3.0 0 1 0 6.0 0a3.0 3.0 0 1 0 -6.0 0M1904.3 1464.3a3.0 3.0 0 1 0 6.0 0a3.0 3.0 0 1 0 -6.0 0M1923.2 1496.0a3.0 3.0 0 1 0 6.0 0a3.0 3.0 0 1 0 -6.0 0M1916.4 1508.0a3.0 3.0 0 1 0 6.0 0a3.0 3.0 0 1 0 -6.0 0" fill="none" stroke="#000" stroke-width="1.5"/>
<text transform="translate(1707.50,1649.20)" font-size="21.1" text-anchor="middle">None</text>
<text transform="translate(1808.60,1649.20)" font-size="21.1" text-anchor="middle">&lt; 1000</text>
<text transform="translate(1808.60,1675.30)" font-size="21.1" text-anchor="middle">days</text>
<text transform="translate(1910.30,1649.20)" font-size="21.1" text-anchor="middle">&gt;= 1000</text>
<text transform="translate(1910.30,1675.30)" font-size="21.1" text-anchor="middle">days</text>
<text transform="translate(1709.20,1695.90)" font-size="17.6" text-anchor="middle" fill="#4d4d4d">(n=65)</text>
<text transform="translate(1811.50,1695.90)" font-size="17.6" text-anchor="middle" fill="#4d4d4d">(n=58)</text>
<text transform="translate(1913.50,1695.90)" font-size="17.6" text-anchor="middle" fill="#4d4d4d">(n=21)</text>
<text transform="translate(1808.00,1726.60)" font-size="28.45" text-anchor="middle" font-weight="bold">Tamoxifen before biopsy</text>
</svg>
</body></html>
